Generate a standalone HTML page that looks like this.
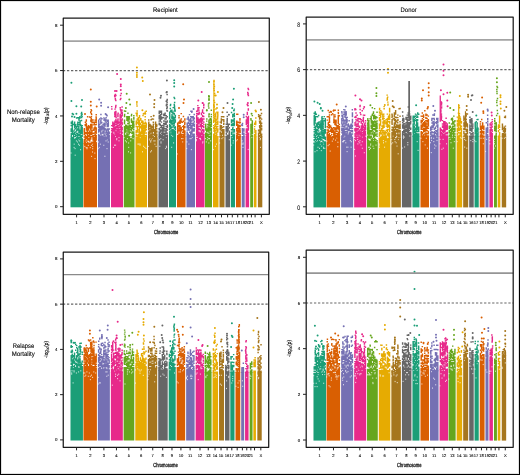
<!DOCTYPE html>
<html><head><meta charset="utf-8"><style>
html,body{margin:0;padding:0;background:#fff;}
#fig{position:relative;width:520px;height:475px;overflow:hidden;background:#fff;}
svg{position:absolute;left:0;top:0;will-change:transform;}
text{font-family:"Liberation Sans",sans-serif;fill:#222;text-rendering:geometricPrecision;}
.tk{fill:#000;stroke:#000;stroke-width:0.1px;}
.xt{fill:#000;stroke:#000;stroke-width:0.28px;}
.yt{font-size:5.7px;fill:#000;stroke:#000;stroke-width:0.12px;}
.lab{fill:#000;stroke:#000;stroke-width:0.1px;}
</style></head><body><div id="fig">
<svg width="520" height="475" viewBox="0 0 520 475">
<rect x="70.50" y="138.64" width="12.50" height="68.66" fill="#1B9E77"/>
<path d="M71.4 82.8h0M71.4 101h0M82 100.1h0M76.4 106.2h0M81.2 106.4h0M72.5 113.7h0M76.4 113.7h0M81.5 113.7h0M72 116.6h0M74.5 117.1h0" stroke="#1B9E77" stroke-width="2.0" stroke-linecap="round" fill="none"/>
<path d="M71 152.4v1.2M74.1 146.9v1.2M74.2 143.6v1.2M75.2 154.6v1.2M75.1 148v1.2M76.4 140.3v1.2M77.6 141.4v1.2M78.5 143.6v1.2M78.6 139.2v1.2M79.4 144.7v1.2M79.6 140.3v1.2M80.6 149.1v1.2" stroke="#fff" stroke-opacity="0.8" stroke-width="0.9" fill="none"/>
<path d="M70.5 138.6h1.45M70.6 137.6h1.45M70.5 136.6h1.45M70.6 135.5h1.45M70.6 134.3h1.45M70.6 133.4h1.45M70.5 131.2h1.45M70.5 130h1.45M70.5 129h1.45M70.5 125.4h1.45M70.6 123.2h1.45M70.6 122.2h1.45M71.7 138.7h1.45M71.6 137.6h1.45M71.5 134.2h1.45M71.6 133.1h1.45M71.7 132.2h1.45M71.7 130.8h1.45M71.5 130.1h1.45M71.6 128.9h1.45M71.5 127.9h1.45M71.5 126.7h1.45M71.6 125.4h1.45M71.6 124.5h1.45M71.6 123.2h1.45M71.7 122.1h1.45M71.7 121.1h1.45M72.7 138.6h1.45M72.7 137.8h1.45M72.7 136.6h1.45M72.9 135.4h1.45M72.7 134.3h1.45M72.7 133.1h1.45M72.6 131.1h1.45M72.6 124.5h1.45M72.7 114.4h1.45M73.9 136.6h1.45M73.9 134.2h1.45M73.8 133.3h1.45M73.9 132.2h1.45M73.7 130h1.45M73.9 127.7h1.45M73.9 126.5h1.45M73.9 125.7h1.45M73.7 124.4h1.45M73.7 123.4h1.45M73.9 122.2h1.45M74.9 138.9h1.45M75 136.6h1.45M75 135.5h1.45M74.9 134.5h1.45M74.8 132h1.45M74.9 128.7h1.45M75 126.8h1.45M74.8 125.6h1.45M75.1 124.5h1.45M75.9 138.7h1.45M76.1 137.5h1.45M76.1 135.3h1.45M75.9 133.3h1.45M75.9 130.9h1.45M76 130h1.45M75.9 127.9h1.45M76.1 126.5h1.45M75.9 118h1.45M77.2 138.8h1.45M77 137.7h1.45M77.1 136.7h1.45M77 135.5h1.45M77 134.3h1.45M77.1 133.4h1.45M77.1 130.1h1.45M77 128.9h1.45M77.1 126.6h1.45M77.2 125.4h1.45M77 124.5h1.45M77.1 123.3h1.45M77.1 122.1h1.45M77 117.7h1.45M78.1 138.7h1.45M78.1 137.6h1.45M78.3 135.3h1.45M78.1 134.4h1.45M78.2 132.2h1.45M78.2 130.9h1.45M78.1 129.8h1.45M78.2 129h1.45M78.1 127.7h1.45M78.1 126.8h1.45M78.2 124.6h1.45M78.2 122.4h1.45M78.2 120.1h1.45M78.3 118.9h1.45M78.3 117.8h1.45M79.4 137.8h1.45M79.4 136.4h1.45M79.5 135.6h1.45M79.4 134.2h1.45M79.4 133.1h1.45M79.4 132.1h1.45M79.3 131.2h1.45M79.3 130.1h1.45M79.4 125.6h1.45M79.5 124.6h1.45M79.3 123.3h1.45M79.3 122.1h1.45M79.4 121h1.45M79.2 117.9h1.45M79.2 116.8h1.45M80.4 138.9h1.45M80.5 137.7h1.45M80.4 136.6h1.45M80.4 135.6h1.45M80.4 133.2h1.45M80.3 132.2h1.45M80.5 130.9h1.45M80.4 130.1h1.45M80.4 128.8h1.45M80.3 127.9h1.45M80.6 126.6h1.45M80.4 125.3h1.45M81.5 138.9h1.45M81.4 136.6h1.45M81.5 135.6h1.45M81.5 134.1h1.45M81.5 133.1h1.45M81.5 132.1h1.45M81.5 130.8h1.45M81.4 130h1.45M81.5 129h1.45M81.5 127.5h1.45M81.5 125.6h1.45M80.8 120.5h1.45M80.8 117.5h1.45M81.4 116.5h1.45M80.6 115.5h1.45M81.3 114.5h1.45M80.9 112.5h1.45" stroke="#1B9E77" stroke-width="1.45" fill="none"/>
<rect x="83.50" y="143.17" width="13.50" height="64.12" fill="#D95F02"/>
<path d="M90.8 89.6h0M90.8 101.7h0M96.7 106.4h0M85 113.9h0M90.8 105.5h0" stroke="#D95F02" stroke-width="2.0" stroke-linecap="round" fill="none"/>
<path d="M84.8 145.9v1.2M86.2 147v1.2M87 148.1v1.2M87.1 147v1.2M88.3 144.8v1.2M90.3 147v1.2M91.6 155.8v1.2M91.4 144.8v1.2M92.5 151.4v1.2M92.7 148.1v1.2M92.7 145.9v1.2M92.4 143.7v1.2M95 158v1.2M94.8 152.5v1.2" stroke="#fff" stroke-opacity="0.8" stroke-width="0.9" fill="none"/>
<path d="M83.5 143.4h1.45M83.5 142.3h1.45M83.5 141.2h1.45M83.6 139.8h1.45M83.6 136.9h1.45M83.5 134.6h1.45M83.6 133.4h1.45M83.6 132.1h1.45M83.5 131.2h1.45M83.5 130.1h1.45M83.6 128.8h1.45M84.5 143.2h1.45M84.6 142h1.45M84.5 140.1h1.45M84.5 138.8h1.45M84.5 138h1.45M84.7 136.6h1.45M84.7 135.4h1.45M84.5 133.5h1.45M84.6 132.4h1.45M84.6 125.5h1.45M84.5 124.6h1.45M84.7 122.2h1.45M85.8 143.4h1.45M85.7 141h1.45M85.7 138.7h1.45M85.8 137.8h1.45M85.6 136.7h1.45M85.7 133.6h1.45M85.7 132.4h1.45M85.6 130.1h1.45M85.7 128.8h1.45M85.7 127.8h1.45M85.7 126.7h1.45M85.8 125.6h1.45M85.7 124.7h1.45M85.5 123.5h1.45M85.6 121.1h1.45M85.6 120h1.45M86.7 143.4h1.45M86.8 142.3h1.45M86.9 140h1.45M86.8 138.8h1.45M86.8 137.9h1.45M86.7 136.7h1.45M86.9 135.5h1.45M86.8 134.5h1.45M86.7 133.4h1.45M86.8 132.1h1.45M86.7 131.3h1.45M86.9 130h1.45M86.7 129.1h1.45M86.7 128h1.45M86.7 126.9h1.45M86.9 116.7h1.45M88 143.1h1.45M87.9 140.1h1.45M87.9 138.7h1.45M87.9 136.5h1.45M88 135.6h1.45M88 133.4h1.45M87.8 132.4h1.45M87.8 129.9h1.45M87.9 128.9h1.45M87.8 127.7h1.45M87.8 126.8h1.45M87.9 125.6h1.45M89 143.2h1.45M89.1 141h1.45M88.9 140.2h1.45M89 138.8h1.45M88.9 136.9h1.45M88.9 135.5h1.45M89 134.5h1.45M88.9 133.4h1.45M89 132.3h1.45M89 131.2h1.45M88.9 127.7h1.45M88.9 126.7h1.45M88.9 117h1.45M89.9 143.3h1.45M90 139h1.45M90 137.8h1.45M90 136.8h1.45M90.1 134.6h1.45M90.1 133.3h1.45M90.2 132.3h1.45M90.2 130h1.45M90 129h1.45M90.1 127.7h1.45M90.1 126.7h1.45M89.9 125.8h1.45M90 124.4h1.45M90.2 121.5h1.45M90.1 120.3h1.45M91.1 143.4h1.45M91.2 142.2h1.45M91.3 136.6h1.45M91.1 134.6h1.45M91.1 133.4h1.45M91.1 132.2h1.45M91.2 131.3h1.45M91.1 130.1h1.45M91.3 128h1.45M91.1 126.7h1.45M91.3 125.8h1.45M91.3 124.4h1.45M91.3 122.4h1.45M91 121.2h1.45M92.4 142.3h1.45M92.4 140.1h1.45M92.3 138.8h1.45M92.3 137.8h1.45M92.4 136.6h1.45M92.2 135.8h1.45M92.3 133.2h1.45M92.3 130.1h1.45M92.2 122.3h1.45M92.3 120h1.45M93.4 143.2h1.45M93.2 142h1.45M93.4 141.2h1.45M93.2 140h1.45M93.5 139h1.45M93.2 137.8h1.45M93.3 135.5h1.45M93.3 133.3h1.45M93.2 130.3h1.45M93.2 129.1h1.45M93.5 127.9h1.45M93.2 124.7h1.45M93.5 123.4h1.45M93.4 122.2h1.45M94.6 143.2h1.45M94.5 142h1.45M94.6 141h1.45M94.4 140h1.45M94.4 138.7h1.45M94.6 137.6h1.45M94.5 136.8h1.45M94.5 135.5h1.45M94.5 134.4h1.45M94.4 132.4h1.45M94.6 131.1h1.45M94.4 129.1h1.45M94.4 127.7h1.45M94.3 126.9h1.45M94.5 124.7h1.45M94.3 122.3h1.45M94.4 120.1h1.45M95.5 143.1h1.45M95.4 142.4h1.45M95.5 140h1.45M95.4 138.7h1.45M95.5 137.7h1.45M95.4 136.5h1.45M95.5 135.7h1.45M95.4 133.4h1.45M95.5 132.1h1.45M95.4 131.1h1.45M95.5 129.9h1.45M95.5 129.1h1.45M95.5 128h1.45M95.5 124.5h1.45M95.5 122.4h1.45M95.4 121.2h1.45M95.5 120.2h1.45M95.5 119.2h1.45M95.5 117.9h1.45M95.4 116.9h1.45M95.5 114.7h1.45M90.8 120.6h1.45M90.8 119.6h1.45M90.6 118.6h1.45M90.1 117.6h1.45M90.7 116.6h1.45M90.9 114.6h1.45M90.7 113.6h1.45M90 112.6h1.45M90.2 111.6h1.45M90.8 110.6h1.45M90.4 109.6h1.45" stroke="#D95F02" stroke-width="1.45" fill="none"/>
<rect x="98.00" y="138.64" width="12.00" height="68.66" fill="#7570B3"/>
<path d="M99.2 99.4h0M101.1 102.8h0M101.1 105.7h0M108.1 107.3h0M105.6 114.1h0M106.4 114.8h0" stroke="#7570B3" stroke-width="2.0" stroke-linecap="round" fill="none"/>
<path d="M98.2 148v1.2M98.4 141.4v1.2M99.3 146.9v1.2M100.3 143.6v1.2M103.8 144.7v1.2M104.9 155.7v1.2M106 140.3v1.2M107 148v1.2M107.3 139.2v1.2M108.2 141.4v1.2" stroke="#fff" stroke-opacity="0.8" stroke-width="0.9" fill="none"/>
<path d="M98.1 138.9h1.45M98.1 137.7h1.45M98.1 136.5h1.45M98 135.4h1.45M98.1 134.4h1.45M98 132.1h1.45M98 131h1.45M98 129.8h1.45M98 127.7h1.45M98 126.7h1.45M98 125.4h1.45M98 124.4h1.45M98.1 123.2h1.45M98.1 122.3h1.45M98 121.1h1.45M98 120.2h1.45M99.1 138.8h1.45M98.9 137.5h1.45M99.1 136.4h1.45M99.1 135.6h1.45M99 131h1.45M99 130.1h1.45M99.1 128.8h1.45M99.1 127.9h1.45M99.2 126.4h1.45M98.9 124.5h1.45M99 119h1.45M100.1 138.6h1.45M100.1 137.5h1.45M100 136.6h1.45M100.2 134.4h1.45M100 133.1h1.45M100.1 132h1.45M100 131.1h1.45M100 129.9h1.45M100 128.8h1.45M100.3 127.6h1.45M100.1 126.8h1.45M100.2 123.5h1.45M100.1 122.4h1.45M100.1 121h1.45M100.2 120.1h1.45M100.2 118h1.45M100.2 114.4h1.45M101.2 138.6h1.45M101.3 137.5h1.45M101.2 136.4h1.45M101.2 135.5h1.45M101.1 133.1h1.45M101.1 129.8h1.45M101.3 128.8h1.45M101.2 127.8h1.45M101.3 126.5h1.45M101.3 125.7h1.45M101.1 122.4h1.45M101.2 118.8h1.45M102.1 138.7h1.45M102.2 137.7h1.45M102.3 136.7h1.45M102.4 133.3h1.45M102.2 132h1.45M102.3 131.2h1.45M102.2 129h1.45M102.2 127.7h1.45M102.3 126.6h1.45M102.3 124.5h1.45M103.2 138.7h1.45M103.3 137.5h1.45M103.2 135.4h1.45M103.4 134.4h1.45M103.4 132h1.45M103.2 131.1h1.45M103.4 130h1.45M103.3 128.8h1.45M103.3 127.6h1.45M103.2 125.4h1.45M103.2 124.5h1.45M103.4 123.2h1.45M103.2 119.9h1.45M103.2 117.9h1.45M104.4 138.8h1.45M104.4 137.7h1.45M104.4 136.5h1.45M104.3 135.5h1.45M104.3 133.1h1.45M104.4 129.8h1.45M104.4 128.7h1.45M104.2 126.6h1.45M104.3 125.5h1.45M104.4 124.3h1.45M104.3 123.4h1.45M104.5 121.1h1.45M104.4 120.2h1.45M104.2 118.9h1.45M105.5 138.7h1.45M105.5 137.8h1.45M105.5 134.3h1.45M105.3 132.2h1.45M105.5 131h1.45M105.5 130h1.45M105.4 122.2h1.45M105.5 120h1.45M105.4 117.8h1.45M106.3 138.7h1.45M106.3 137.5h1.45M106.3 136.5h1.45M106.4 135.6h1.45M106.4 134.5h1.45M106.4 133.1h1.45M106.6 132.2h1.45M106.6 130h1.45M106.5 129h1.45M106.5 126.6h1.45M106.6 125.6h1.45M106.3 124.6h1.45M106.3 123.5h1.45M106.5 121.3h1.45M106.4 120.1h1.45M106.3 115.8h1.45M107.4 138.6h1.45M107.6 137.6h1.45M107.5 136.5h1.45M107.6 135.3h1.45M107.4 134.5h1.45M107.4 133.1h1.45M107.4 132.2h1.45M107.6 131.2h1.45M107.5 130.1h1.45M107.5 128.9h1.45M107.4 126.5h1.45M107.6 125.4h1.45M107.6 124.3h1.45M107.6 123.4h1.45M107.6 122.2h1.45M107.4 120.9h1.45M107.5 120.2h1.45M108.4 138.6h1.45M108.4 137.5h1.45M108.5 136.6h1.45M108.5 135.5h1.45M108.5 133.4h1.45M108.5 132.3h1.45M108.5 128.9h1.45" stroke="#7570B3" stroke-width="1.45" fill="none"/>
<rect x="111.00" y="135.23" width="12.00" height="72.07" fill="#E7298A"/>
<path d="M117.1 74h0M120.8 79h0M120.8 84.6h0M120.8 86.2h0M115 91h0M116.6 91h0M114.9 95.5h0M114.9 96.4h0M120.8 89.9h0" stroke="#E7298A" stroke-width="2.0" stroke-linecap="round" fill="none"/>
<path d="M113.4 146.8v1.2M114.5 144.6v1.2M115.6 144.6v1.2M115.5 135.8v1.2M116.7 139.1v1.2M116.8 138v1.2M119 140.2v1.2M119 136.9v1.2" stroke="#fff" stroke-opacity="0.8" stroke-width="0.9" fill="none"/>
<path d="M111.1 135.3h1.45M111.1 134.3h1.45M111 133.3h1.45M111 130.8h1.45M111 128.7h1.45M111 125.6h1.45M111.1 109h1.45M111 106.6h1.45M112.1 135.4h1.45M112.2 134.4h1.45M112.1 133.2h1.45M112.1 131.8h1.45M112 131h1.45M111.9 130h1.45M111.9 128.7h1.45M112.2 126.6h1.45M112.1 125.4h1.45M112.1 124.3h1.45M112.1 123.3h1.45M112.1 122.3h1.45M113 135.5h1.45M113.1 134.4h1.45M113 131h1.45M113.2 130h1.45M113.2 128.6h1.45M113.1 127.7h1.45M113.2 126.5h1.45M113.1 125.5h1.45M113.1 124.3h1.45M113.2 123.1h1.45M114.2 135.1h1.45M114.2 133h1.45M114.2 131.9h1.45M114.3 130.9h1.45M114.3 129.9h1.45M114.2 128.5h1.45M114.3 127.5h1.45M114 125.4h1.45M114 124.4h1.45M114 123.3h1.45M114.2 122.1h1.45M114.2 121.1h1.45M114.1 116.5h1.45M114.3 115.4h1.45M114.1 114.2h1.45M114.1 113.4h1.45M114.1 112.1h1.45M114.3 109.1h1.45M115.3 135.5h1.45M115.1 134.3h1.45M115.3 133.3h1.45M115.3 131.9h1.45M115.2 128.9h1.45M115.3 127.6h1.45M115.3 126.6h1.45M115.3 124.3h1.45M115.2 122.3h1.45M115.3 120.9h1.45M115.2 119.8h1.45M115.4 117.8h1.45M115.2 116.6h1.45M115.2 115.4h1.45M115.2 114.5h1.45M115.1 113.2h1.45M115.2 112.1h1.45M116.3 135.2h1.45M116.1 134.1h1.45M116.2 133.2h1.45M116.4 132h1.45M116.3 130.8h1.45M116.2 129.8h1.45M116.4 127.6h1.45M116.3 126.5h1.45M116.4 125.5h1.45M116.2 124.2h1.45M116.3 123.4h1.45M116.1 122h1.45M116.3 121.2h1.45M117.4 135.4h1.45M117.3 134.3h1.45M117.3 133.3h1.45M117.2 131h1.45M117.3 129.6h1.45M117.3 128.8h1.45M117.4 127.8h1.45M117.3 126.6h1.45M117.3 125.6h1.45M117.4 123.2h1.45M117.3 122.2h1.45M117.3 121.2h1.45M117.2 119.8h1.45M117.3 119h1.45M117.2 116.5h1.45M117.2 115.7h1.45M117.2 114.4h1.45M117.4 113.2h1.45M118.4 135.5h1.45M118.3 134.2h1.45M118.4 133h1.45M118.2 131.9h1.45M118.3 130.8h1.45M118.2 129.8h1.45M118.3 127.7h1.45M118.4 125.4h1.45M118.5 124.3h1.45M118.3 122.3h1.45M119.4 135.3h1.45M119.5 134.4h1.45M119.5 132h1.45M119.3 129.7h1.45M119.5 127.8h1.45M119.3 126.5h1.45M119.5 124.4h1.45M119.5 123.1h1.45M119.5 122.2h1.45M119.5 121.2h1.45M119.5 119.9h1.45M119.4 118.9h1.45M119.5 117.6h1.45M119.4 116.7h1.45M119.4 115.6h1.45M119.5 114.5h1.45M119.5 107.7h1.45M120.5 135.5h1.45M120.6 134.3h1.45M120.6 133.3h1.45M120.6 132.2h1.45M120.6 130.9h1.45M120.6 129.8h1.45M120.4 128.7h1.45M120.5 127.6h1.45M120.5 126.7h1.45M120.5 125.2h1.45M120.5 123.3h1.45M120.3 122.1h1.45M120.5 120.9h1.45M120.6 119.9h1.45M120.5 117.6h1.45M120.5 116.7h1.45M120.6 115.5h1.45M120.6 113.2h1.45M120.5 112.4h1.45M120.4 111h1.45M120.5 109.9h1.45M121.5 135.5h1.45M121.5 133.1h1.45M121.4 132.1h1.45M121.5 129.7h1.45M121.4 128.7h1.45M121.5 127.5h1.45M121.5 124.4h1.45M121.5 123.3h1.45M121.4 122.2h1.45M121.5 119.9h1.45M121.5 118.9h1.45M121.5 115.7h1.45M121.5 114.4h1.45M121.5 113.3h1.45M121.5 112.1h1.45M121.5 110.1h1.45M121.4 106.9h1.45M115.1 111.4h1.45M114.9 107.4h1.45M115 106.4h1.45M115.2 105.4h1.45M115.1 100.4h1.45M114.7 99.4h1.45M114.6 98.4h1.45M115.2 95.4h1.45M114.7 94.4h1.45M120.1 110.4h1.45M119.7 109.4h1.45M119.6 99.4h1.45M120.1 98.4h1.45M119.8 95.4h1.45M120.5 93.4h1.45" stroke="#E7298A" stroke-width="1.45" fill="none"/>
<rect x="123.80" y="136.37" width="10.70" height="70.93" fill="#66A61E"/>
<path d="M126.7 93.7h0M129.3 99.6h0M126.4 103h0M130.1 104.6h0M125.9 108h0" stroke="#66A61E" stroke-width="2.0" stroke-linecap="round" fill="none"/>
<path d="M124 136.9v1.2M125.4 140.2v1.2M126.5 141.3v1.2M127.4 138v1.2M128.5 151.2v1.2M128.7 146.8v1.2M128.6 142.4v1.2M130.6 152.3v1.2M130.7 140.2v1.2M130.5 136.9v1.2M131.6 136.9v1.2M133.1 138v1.2" stroke="#fff" stroke-opacity="0.8" stroke-width="0.9" fill="none"/>
<path d="M123.8 136.3h1.45M123.8 135.2h1.45M123.8 134.4h1.45M123.8 133.1h1.45M123.8 132.1h1.45M123.9 131h1.45M123.8 129.9h1.45M123.9 128.9h1.45M123.8 127.7h1.45M123.8 126.6h1.45M123.8 123.4h1.45M123.8 122.4h1.45M123.9 121.2h1.45M123.8 120.1h1.45M123.9 116.6h1.45M123.8 115.7h1.45M123.9 114.4h1.45M123.8 111h1.45M125 136.3h1.45M125 135.5h1.45M124.9 131.9h1.45M124.9 130.9h1.45M124.9 129.9h1.45M125 128.8h1.45M125.1 127.8h1.45M124.8 126.7h1.45M124.9 125.3h1.45M124.9 111.2h1.45M126.1 136.6h1.45M126 135.5h1.45M126.2 134.1h1.45M126.2 133.3h1.45M126.2 130.9h1.45M126.2 128.7h1.45M126.1 127.7h1.45M126.1 126.5h1.45M126.1 125.5h1.45M126.2 120.2h1.45M126.2 118.7h1.45M126.2 117.9h1.45M126.1 116.8h1.45M127.3 136.7h1.45M127.2 135.2h1.45M127.1 134.2h1.45M127.3 131.9h1.45M127.2 130.1h1.45M127.3 128.7h1.45M127.1 127.7h1.45M127.3 126.4h1.45M127.1 123.4h1.45M127.2 121h1.45M127.2 120.1h1.45M127.2 118.9h1.45M127.3 117.6h1.45M127.4 116.6h1.45M127.2 113.2h1.45M128.4 136.4h1.45M128.4 134.1h1.45M128.5 133.2h1.45M128.5 131.9h1.45M128.3 130.8h1.45M128.3 129.7h1.45M128.4 128.7h1.45M128.4 127.8h1.45M128.5 126.5h1.45M128.4 125.3h1.45M128.3 123.4h1.45M128.5 122h1.45M128.3 120.1h1.45M128.5 118.7h1.45M128.5 117.9h1.45M128.5 116.7h1.45M129.5 132.2h1.45M129.6 129.8h1.45M129.6 127.7h1.45M129.7 126.6h1.45M129.5 125.5h1.45M130.8 133h1.45M130.8 130.8h1.45M130.8 129.8h1.45M130.6 128.6h1.45M130.6 127.8h1.45M130.7 125.6h1.45M130.8 122.3h1.45M130.7 121.1h1.45M130.6 119.9h1.45M130.8 119h1.45M130.7 115.7h1.45M130.9 114.4h1.45M131.9 136.3h1.45M131.9 135.3h1.45M131.8 133.3h1.45M131.9 132h1.45M131.9 128.6h1.45M132 127.8h1.45M132 126.6h1.45M131.8 125.4h1.45M131.8 124.4h1.45M131.9 123.3h1.45M131.9 122.1h1.45M131.8 121.2h1.45M133.1 136.4h1.45M133.1 135.5h1.45M133.1 134.4h1.45M133 133.2h1.45M133 132h1.45M133 129.8h1.45M133 127.7h1.45M133.1 126.6h1.45M133.1 125.6h1.45M133.1 124.4h1.45M132.9 123.2h1.45M132.9 122.1h1.45M133.1 121.1h1.45M133.1 119h1.45M133.1 117.8h1.45M133.1 115.7h1.45" stroke="#66A61E" stroke-width="1.45" fill="none"/>
<rect x="135.50" y="136.37" width="11.50" height="70.93" fill="#E6AB02"/>
<path d="M136.9 67.6h0M136.9 72.8h0M136.9 75.1h0M136.9 76.9h0M142.2 77.6h0M142.8 81h0M136.9 102.1h0M142.4 110.3h0M143.6 113.7h0M145.3 113.7h0" stroke="#E6AB02" stroke-width="2.0" stroke-linecap="round" fill="none"/>
<path d="M138 143.5v1.2M139 143.5v1.2M140 144.6v1.2M140.1 143.5v1.2M140.3 136.9v1.2M142.5 151.2v1.2M143.6 145.7v1.2M144.8 146.8v1.2M145.9 147.9v1.2" stroke="#fff" stroke-opacity="0.8" stroke-width="0.9" fill="none"/>
<path d="M135.6 135.3h1.45M135.5 134.3h1.45M135.5 132.2h1.45M135.6 130.8h1.45M135.5 126.5h1.45M135.6 124.4h1.45M135.5 123.1h1.45M135.6 122.1h1.45M135.6 121.3h1.45M135.5 113.2h1.45M136.7 135.3h1.45M136.5 132h1.45M136.5 131.1h1.45M136.7 129.8h1.45M136.6 128.9h1.45M136.6 127.8h1.45M136.6 126.8h1.45M136.8 123.1h1.45M136.7 122.2h1.45M136.5 119.9h1.45M136.5 118.9h1.45M137.6 136.3h1.45M137.9 135.3h1.45M137.7 134.2h1.45M137.7 131.9h1.45M137.7 130h1.45M137.7 126.4h1.45M137.8 124.4h1.45M137.7 123.2h1.45M137.8 122.2h1.45M137.8 121.3h1.45M137.7 119.8h1.45M137.6 118.9h1.45M137.6 117.6h1.45M138.8 136.4h1.45M138.7 135.3h1.45M138.9 134.3h1.45M139 133.3h1.45M138.7 132.3h1.45M138.9 131.2h1.45M138.7 129.9h1.45M138.7 128.9h1.45M138.8 127.8h1.45M139 126.8h1.45M138.9 125.4h1.45M138.8 124.3h1.45M138.9 123.4h1.45M138.8 122.3h1.45M138.7 121.3h1.45M138.8 120.1h1.45M138.8 117.7h1.45M138.8 116.5h1.45M138.8 115.6h1.45M140 136.5h1.45M140 135.4h1.45M140.1 134.1h1.45M139.9 133.3h1.45M139.8 132.3h1.45M140 127.7h1.45M140 126.5h1.45M139.9 124.3h1.45M139.8 123.4h1.45M140 120.1h1.45M140.1 118.7h1.45M141.1 136.6h1.45M141.1 135.5h1.45M141.1 133.3h1.45M141.1 132.2h1.45M141 131.1h1.45M141.2 129.7h1.45M141 128.8h1.45M141.1 127.7h1.45M141.1 126.7h1.45M141 125.3h1.45M141 122.3h1.45M141.2 120.9h1.45M142.3 136.6h1.45M142.2 135.4h1.45M142.3 134.1h1.45M142.3 133.2h1.45M142.3 132h1.45M142.2 131.2h1.45M142.1 130h1.45M142.2 128.9h1.45M142.3 127.6h1.45M142.3 126.7h1.45M142.3 125.4h1.45M142.1 124.4h1.45M142.1 123.2h1.45M142.3 122.1h1.45M142.1 121.1h1.45M142.3 115.5h1.45M143.4 136.6h1.45M143.3 135.4h1.45M143.4 134.4h1.45M143.2 133.2h1.45M143.4 132.2h1.45M143.4 130.8h1.45M143.4 128.9h1.45M143.4 127.8h1.45M143.3 126.6h1.45M143.2 125.4h1.45M143.4 123.4h1.45M144.5 135.6h1.45M144.4 133h1.45M144.5 131.1h1.45M144.3 129.9h1.45M144.4 128.8h1.45M144.4 127.6h1.45M144.5 126.7h1.45M144.3 125.3h1.45M144.3 123.3h1.45M144.6 122.3h1.45M144.4 119.8h1.45M144.5 116.8h1.45M144.4 112.2h1.45M145.6 136.5h1.45M145.5 135.4h1.45M145.6 133h1.45M145.6 129.8h1.45M145.4 127.8h1.45M145.5 126.7h1.45M145.5 125.7h1.45M145.6 124.2h1.45M145.4 123.3h1.45M145.5 111.2h1.45M136.4 115.9h1.45M135.9 114.9h1.45M136.5 113.9h1.45M136.4 112.9h1.45M136.4 110.9h1.45M136.3 105.9h1.45M136.1 103.9h1.45" stroke="#E6AB02" stroke-width="1.45" fill="none"/>
<rect x="148.00" y="138.64" width="9.50" height="68.66" fill="#A6761D"/>
<path d="M150 94.6h0M154.5 100.1h0M154.2 103.9h0M154.2 107.3h0M153.7 115.7h0" stroke="#A6761D" stroke-width="2.0" stroke-linecap="round" fill="none"/>
<path d="M148.3 145.8v1.2M149.4 139.2v1.2M150.6 151.3v1.2M150.7 141.4v1.2M150.7 140.3v1.2M151.5 150.2v1.2M151.5 139.2v1.2M153.9 140.3v1.2M154.9 143.6v1.2M155 140.3v1.2M156.1 145.8v1.2" stroke="#fff" stroke-opacity="0.8" stroke-width="0.9" fill="none"/>
<path d="M148 138.6h1.45M148 137.8h1.45M148 136.5h1.45M148.1 135.4h1.45M148 134.3h1.45M148.1 133.2h1.45M148 132h1.45M148 129.8h1.45M148.1 128.9h1.45M148 127.9h1.45M148 126.8h1.45M148 125.7h1.45M148.1 124.5h1.45M148 123.5h1.45M148.1 122.1h1.45M148 120h1.45M149.3 137.6h1.45M149.3 136.6h1.45M149.2 135.3h1.45M149 133.4h1.45M149.3 132.2h1.45M149 130.9h1.45M149.3 128.7h1.45M149.2 126.5h1.45M149 125.6h1.45M149.3 124.5h1.45M150.4 138.7h1.45M150.2 137.6h1.45M150.2 136.3h1.45M150.2 135.6h1.45M150.3 134.3h1.45M150.3 132h1.45M150.3 131.1h1.45M150.4 129.8h1.45M150.4 128.8h1.45M150.2 127.6h1.45M150.4 126.5h1.45M150.2 125.5h1.45M150.4 119.8h1.45M150.4 116.6h1.45M151.4 137.6h1.45M151.4 136.6h1.45M151.4 135.5h1.45M151.6 134.4h1.45M151.5 133.4h1.45M151.5 132.2h1.45M151.3 131.2h1.45M151.4 129.7h1.45M151.4 127.7h1.45M151.4 126.8h1.45M151.5 119h1.45M152.7 138.7h1.45M152.6 137.5h1.45M152.5 136.7h1.45M152.5 134.4h1.45M152.7 131.2h1.45M152.6 130h1.45M152.6 128.9h1.45M152.7 127.7h1.45M152.7 126.7h1.45M152.5 125.5h1.45M152.7 124.3h1.45M152.6 122.2h1.45M152.7 119.1h1.45M153.7 138.8h1.45M153.7 137.6h1.45M153.6 135.6h1.45M153.9 134.2h1.45M153.6 133.3h1.45M153.9 132.2h1.45M153.9 131h1.45M153.8 129.8h1.45M154.8 138.6h1.45M154.9 137.6h1.45M154.9 136.5h1.45M155 135.3h1.45M155 134.3h1.45M155 133.1h1.45M155 132.3h1.45M154.9 131h1.45M155 129.9h1.45M154.9 129h1.45M154.9 127.9h1.45M154.9 126.7h1.45M155 125.4h1.45M154.8 124.6h1.45M154.8 123.2h1.45M154.9 122.1h1.45M156.1 138.7h1.45M156.1 137.5h1.45M155.9 136.6h1.45M156.1 135.3h1.45M156.1 134.3h1.45M156.1 131.9h1.45M156.1 131.1h1.45M156 128.8h1.45M155.9 126.5h1.45M156.1 125.5h1.45M155.9 124.5h1.45" stroke="#A6761D" stroke-width="1.45" fill="none"/>
<rect x="158.50" y="136.37" width="9.50" height="70.93" fill="#666666"/>
<path d="M166.9 80.6h0M166.9 92.1h0M161 95.8h0M160.5 97.8h0M166.4 101.2h0M166.9 104.6h0" stroke="#666666" stroke-width="2.0" stroke-linecap="round" fill="none"/>
<path d="M159.8 145.7v1.2M159.7 139.1v1.2M161 142.4v1.2M161 141.3v1.2M160.8 138v1.2M163.1 139.1v1.2M165.6 147.9v1.2M166.6 146.8v1.2M166.4 145.7v1.2M166.3 136.9v1.2" stroke="#fff" stroke-opacity="0.8" stroke-width="0.9" fill="none"/>
<path d="M158.5 136.6h1.45M158.5 135.4h1.45M158.5 134.3h1.45M158.6 133.2h1.45M158.5 132h1.45M158.6 129.7h1.45M158.5 128.7h1.45M158.5 124.4h1.45M158.5 123.3h1.45M158.5 121.1h1.45M158.5 118.8h1.45M158.5 117.7h1.45M158.5 116.7h1.45M158.6 115.6h1.45M158.5 113.5h1.45M158.5 112.1h1.45M158.6 111.2h1.45M159.6 136.6h1.45M159.6 135.5h1.45M159.8 134.4h1.45M159.8 132.1h1.45M159.7 131.1h1.45M159.5 130h1.45M159.6 127.6h1.45M159.7 125.6h1.45M159.6 124.2h1.45M159.7 120.9h1.45M159.5 120.2h1.45M159.6 118.8h1.45M159.5 117.8h1.45M159.6 116.8h1.45M159.7 115.7h1.45M159.8 114.6h1.45M159.6 112.3h1.45M159.8 111.2h1.45M160.7 136.3h1.45M160.8 135.3h1.45M160.8 133.3h1.45M160.8 131.1h1.45M160.8 129.9h1.45M160.7 127.7h1.45M160.8 126.5h1.45M160.9 125.6h1.45M160.7 122.1h1.45M160.9 119h1.45M160.7 117.8h1.45M160.8 116.9h1.45M160.9 114.5h1.45M160.8 113.5h1.45M160.7 112.3h1.45M160.8 111.1h1.45M162.1 136.3h1.45M162.1 135.3h1.45M161.9 134.4h1.45M162 133.1h1.45M162.1 132h1.45M162 131h1.45M161.9 130h1.45M161.9 128.7h1.45M162.1 127.7h1.45M161.8 125.4h1.45M162 117.7h1.45M163.1 136.5h1.45M163 134.3h1.45M163.1 133.3h1.45M163.2 131h1.45M163 129.8h1.45M163.2 128.8h1.45M163.1 127.8h1.45M163.2 126.5h1.45M163 125.3h1.45M163 123.4h1.45M163.1 121h1.45M163 117.6h1.45M163.1 115.4h1.45M163.1 114.3h1.45M164.4 136.6h1.45M164.1 135.2h1.45M164.3 134.4h1.45M164.4 133.1h1.45M164.3 130.9h1.45M164.2 128.7h1.45M164.3 124.5h1.45M164.4 123.1h1.45M164.4 121.1h1.45M164.3 119h1.45M164.2 115.6h1.45M164.2 114.4h1.45M164.4 113.3h1.45M165.4 136.4h1.45M165.3 135.2h1.45M165.5 133.3h1.45M165.4 132.2h1.45M165.3 131.1h1.45M165.5 130h1.45M165.4 128.8h1.45M165.4 126.6h1.45M165.4 124.3h1.45M165.4 123.2h1.45M165.3 122h1.45M165.3 118.9h1.45M165.3 117.8h1.45M165.5 115.7h1.45M166.6 136.5h1.45M166.6 135.2h1.45M166.6 133.1h1.45M166.6 129.9h1.45M166.6 127.6h1.45M166.6 126.6h1.45M166.6 125.5h1.45M166.4 122.1h1.45M166.5 121h1.45M166.5 116.8h1.45M166.6 111h1.45M166.5 107.8h1.45M166.2 110.4h1.45M166 108.4h1.45M166.4 106.4h1.45M165.6 105.4h1.45M165.8 104.4h1.45M166.4 102.4h1.45M166.3 100.4h1.45M166.5 99.4h1.45M166.4 94.4h1.45M165.6 92.4h1.45" stroke="#666666" stroke-width="1.45" fill="none"/>
<rect x="169.00" y="134.10" width="7.00" height="73.20" fill="#1B9E77"/>
<path d="M174.2 80.3h0M174.2 83.1h0M174.2 86.5h0" stroke="#1B9E77" stroke-width="2.0" stroke-linecap="round" fill="none"/>
<path d="M171.7 146.7v1.2M171.4 134.6v1.2M172.7 135.7v1.2M173.6 142.3v1.2" stroke="#fff" stroke-opacity="0.8" stroke-width="0.9" fill="none"/>
<path d="M169 134.3h1.45M169.1 133.2h1.45M169.1 131.8h1.45M169 129.8h1.45M169.1 128.5h1.45M169 126.7h1.45M169 125.4h1.45M169 124.5h1.45M169.1 122.2h1.45M169 120.9h1.45M169 118.8h1.45M169 117.7h1.45M169.1 116.4h1.45M169 115.6h1.45M169 114.6h1.45M169 113.4h1.45M169 112.2h1.45M170.1 133.1h1.45M170.1 131h1.45M170.1 128.6h1.45M170.2 127.8h1.45M170.2 126.7h1.45M170 125.4h1.45M170.2 123.1h1.45M170.1 122.2h1.45M170.2 121.1h1.45M170 119.9h1.45M171.3 134.3h1.45M171.2 133.3h1.45M171.3 132h1.45M171.3 130.9h1.45M171.2 129.8h1.45M171.3 127.5h1.45M171.4 124.3h1.45M171.2 123.4h1.45M171.2 122.2h1.45M171.2 120.8h1.45M171.3 118.6h1.45M171.1 117.8h1.45M171.2 116.6h1.45M171.3 115.4h1.45M171.3 114.5h1.45M171.3 112.2h1.45M171.1 111.2h1.45M171.2 110.1h1.45M172.3 134.3h1.45M172.3 132.9h1.45M172.3 132.1h1.45M172.4 130.9h1.45M172.4 129.8h1.45M172.4 126.4h1.45M172.5 125.5h1.45M172.5 123.3h1.45M172.4 121.1h1.45M172.3 119.8h1.45M172.4 118.7h1.45M172.3 117.8h1.45M172.3 116.5h1.45M172.3 113.3h1.45M172.2 112.2h1.45M172.5 107.6h1.45M173.4 134.2h1.45M173.5 132.9h1.45M173.5 132h1.45M173.4 130.7h1.45M173.4 127.7h1.45M173.4 125.6h1.45M173.3 124.2h1.45M173.6 123.3h1.45M173.3 122h1.45M173.4 120.1h1.45M173.4 118.7h1.45M173.4 117.6h1.45M173.4 114.5h1.45M173.6 113.4h1.45M173.6 111h1.45M174.5 134.1h1.45M174.6 133.1h1.45M174.6 131.8h1.45M174.6 129.7h1.45M174.4 128.7h1.45M174.6 127.6h1.45M174.4 126.7h1.45M174.6 122h1.45M174.4 120.9h1.45M174.6 119.9h1.45M174.5 117.7h1.45M174.5 116.8h1.45M174.6 115.5h1.45M174.5 111h1.45M174.2 109.4h1.45M173.9 108.4h1.45M173.7 107.4h1.45M173.8 106.4h1.45M173.7 105.4h1.45M173.5 104.4h1.45M173.9 102.4h1.45M173.9 98.4h1.45M173.4 97.4h1.45M170 111.4h1.45M170.2 110.4h1.45M169.6 108.4h1.45M169.7 105.4h1.45M169.9 104.4h1.45" stroke="#1B9E77" stroke-width="1.45" fill="none"/>
<rect x="177.00" y="136.37" width="8.50" height="70.93" fill="#D95F02"/>
<path d="M183.2 84.2h0M184 99.6h0M183.5 103h0M179 108h0" stroke="#D95F02" stroke-width="2.0" stroke-linecap="round" fill="none"/>
<path d="M177.2 153.4v1.2M181.6 138v1.2M182.7 141.3v1.2M182.9 138v1.2" stroke="#fff" stroke-opacity="0.8" stroke-width="0.9" fill="none"/>
<path d="M177 136.5h1.45M177 135.4h1.45M177 133h1.45M177.1 132.1h1.45M177 130.9h1.45M177.1 129.7h1.45M177 128.7h1.45M177 127.7h1.45M177 126.6h1.45M177.1 125.3h1.45M177 124.3h1.45M177 123.1h1.45M178.3 136.4h1.45M178.3 135.2h1.45M178.3 134.4h1.45M178.3 130.8h1.45M178.3 129h1.45M178.2 126.7h1.45M178.1 125.5h1.45M178.1 123.1h1.45M178.1 122.1h1.45M178.3 117.8h1.45M178.3 115.7h1.45M179.3 136.4h1.45M179.4 135.5h1.45M179.4 134.3h1.45M179.5 133.4h1.45M179.5 132h1.45M179.3 130.8h1.45M179.4 129.7h1.45M179.4 128.7h1.45M179.2 127.7h1.45M179.3 126.6h1.45M179.3 125.6h1.45M179.4 123.3h1.45M179.4 122.1h1.45M179.2 120.9h1.45M179.5 120.2h1.45M180.5 136.5h1.45M180.5 135.3h1.45M180.5 134.2h1.45M180.5 130.8h1.45M180.5 130h1.45M180.5 128.8h1.45M180.4 127.6h1.45M180.6 122h1.45M180.4 121h1.45M180.6 119h1.45M180.5 113.6h1.45M181.6 136.3h1.45M181.8 134.4h1.45M181.7 132.2h1.45M181.6 129.7h1.45M181.8 126.6h1.45M181.8 122.2h1.45M183 136.6h1.45M182.9 135.3h1.45M183 134.3h1.45M182.8 132.2h1.45M182.9 130.8h1.45M183 129.9h1.45M183 128.8h1.45M183 127.8h1.45M183 126.6h1.45M182.9 125.6h1.45M182.7 121.2h1.45M182.7 116.5h1.45M184 136.5h1.45M184 135.3h1.45M184.1 134.4h1.45M184 133h1.45M184.1 131.9h1.45M184 130.9h1.45M184.1 127.6h1.45M184.1 126.7h1.45M184 124.5h1.45M184.1 123.3h1.45M184.1 122.1h1.45M184.1 120h1.45M184.1 119h1.45" stroke="#D95F02" stroke-width="1.45" fill="none"/>
<rect x="186.50" y="136.37" width="8.50" height="70.93" fill="#7570B3"/>
<path d="M193.6 108.9h0M188.2 117.3h0" stroke="#7570B3" stroke-width="2.0" stroke-linecap="round" fill="none"/>
<path d="M186.7 147.9v1.2M186.9 141.3v1.2M188.9 143.5v1.2M190 138v1.2M191.4 149v1.2M191.1 138v1.2M192.3 136.9v1.2" stroke="#fff" stroke-opacity="0.8" stroke-width="0.9" fill="none"/>
<path d="M186.5 136.5h1.45M186.5 135.2h1.45M186.5 134.3h1.45M186.5 133.2h1.45M186.5 132.2h1.45M186.5 130.1h1.45M186.5 127.8h1.45M186.5 126.6h1.45M186.6 125.4h1.45M186.5 124.2h1.45M186.5 123.3h1.45M186.5 118.9h1.45M187.5 136.7h1.45M187.7 135.6h1.45M187.6 134.2h1.45M187.6 129.9h1.45M187.6 128.8h1.45M187.6 127.7h1.45M187.7 126.7h1.45M187.6 125.6h1.45M187.6 123.4h1.45M187.7 122.1h1.45M187.8 119.9h1.45M187.8 118.8h1.45M188.9 136.5h1.45M189 135.5h1.45M189 132.3h1.45M188.9 130h1.45M188.9 127.8h1.45M189 125.6h1.45M189 124.4h1.45M188.9 123.3h1.45M188.7 121h1.45M188.9 120h1.45M188.8 114.6h1.45M190.1 136.4h1.45M190 135.2h1.45M190.1 134.1h1.45M190 133.3h1.45M190 132h1.45M189.9 128.6h1.45M189.9 127.6h1.45M190.2 126.4h1.45M190.1 125.7h1.45M190 124.5h1.45M190.2 123.4h1.45M190 122.2h1.45M190 121.1h1.45M190.1 119.8h1.45M190 118.8h1.45M190 116.8h1.45M190.2 111.3h1.45M191.3 136.3h1.45M191.1 134.1h1.45M191.1 133.3h1.45M191.3 131.9h1.45M191.1 130.9h1.45M191.3 129.9h1.45M191.3 128.9h1.45M191.3 127.7h1.45M191.3 126.7h1.45M191.1 125.6h1.45M191.3 123.4h1.45M191.1 120.9h1.45M191.1 117.6h1.45M191.2 116.7h1.45M191.1 112.2h1.45M191.3 111.2h1.45M192.4 136.4h1.45M192.2 135.5h1.45M192.5 134.2h1.45M192.3 131h1.45M192.4 129.9h1.45M192.5 128.9h1.45M192.3 125.4h1.45M192.2 124.3h1.45M192.5 123.3h1.45M192.5 119.9h1.45M192.5 119.1h1.45M192.4 117.7h1.45M192.5 116.8h1.45M193.6 136.6h1.45M193.4 135.4h1.45M193.5 134.3h1.45M193.4 131h1.45M193.5 129.8h1.45M193.6 128.6h1.45M193.6 126.4h1.45M193.5 125.4h1.45M193.6 124.3h1.45M193.5 122.1h1.45M193.5 121.1h1.45M193.6 118.8h1.45M193.4 117.9h1.45M193.5 114.5h1.45" stroke="#7570B3" stroke-width="1.45" fill="none"/>
<rect x="196.00" y="134.10" width="8.50" height="73.20" fill="#E7298A"/>
<path d="M201.7 91.9h0M202.6 103h0M198.3 100.5h0" stroke="#E7298A" stroke-width="2.0" stroke-linecap="round" fill="none"/>
<path d="M196.4 140.1v1.2M196.4 139v1.2M196.2 136.8v1.2M196.3 134.6v1.2M197.3 136.8v1.2M199.6 137.9v1.2M200.7 139v1.2M200.5 137.9v1.2M201.8 134.6v1.2M202.7 142.3v1.2M202.9 141.2v1.2" stroke="#fff" stroke-opacity="0.8" stroke-width="0.9" fill="none"/>
<path d="M196 134.4h1.45M196 133h1.45M196 131.9h1.45M196 130.7h1.45M196.1 129.9h1.45M196.1 128.7h1.45M196 127.7h1.45M196 126.4h1.45M196 125.4h1.45M196.1 124.2h1.45M196 122.3h1.45M196 120.9h1.45M196.1 119.8h1.45M196 118.8h1.45M196 117.8h1.45M196 116.5h1.45M196 115.5h1.45M196 113.5h1.45M196 111.3h1.45M197 134h1.45M197.3 133.1h1.45M197.3 132.1h1.45M197.1 131h1.45M197.1 129.8h1.45M197.3 128.6h1.45M197.2 127.4h1.45M197.2 126.3h1.45M197.1 125.3h1.45M197.2 124.3h1.45M197.1 123.1h1.45M197.1 122h1.45M197 121h1.45M197 120h1.45M197.3 118.8h1.45M197.3 117.9h1.45M197.3 114.4h1.45M197.3 113.4h1.45M197 111.1h1.45M197.2 110.1h1.45M197.3 109.1h1.45M197.3 107.8h1.45M197.1 105.6h1.45M198.4 134.3h1.45M198.4 133.3h1.45M198.3 132.1h1.45M198.5 129.6h1.45M198.4 128.6h1.45M198.3 126.6h1.45M198.3 123.3h1.45M198.4 122.1h1.45M198.4 120.8h1.45M198.4 119.8h1.45M198.2 114.3h1.45M198.5 113.3h1.45M198.5 112.2h1.45M198.3 110.1h1.45M198.3 107.7h1.45M199.4 134.2h1.45M199.6 133.1h1.45M199.6 129.8h1.45M199.5 126.5h1.45M199.5 125.4h1.45M199.4 124.4h1.45M199.4 121.9h1.45M199.7 120.8h1.45M199.4 119.8h1.45M199.6 118.8h1.45M200.7 134.3h1.45M200.7 133h1.45M200.6 131.9h1.45M200.7 130.9h1.45M200.7 128.8h1.45M200.8 127.7h1.45M200.7 126.3h1.45M200.6 125.2h1.45M200.6 124.3h1.45M200.7 123.3h1.45M200.6 122h1.45M200.7 121h1.45M200.7 120h1.45M200.7 118.6h1.45M200.6 117.9h1.45M200.8 114.5h1.45M200.7 113.2h1.45M201.9 134.1h1.45M201.9 133h1.45M201.8 130.8h1.45M202 129.7h1.45M201.8 126.3h1.45M201.9 125.6h1.45M202 123.2h1.45M202 121.1h1.45M201.7 120.1h1.45M201.8 118.9h1.45M202 116.5h1.45M201.9 115.7h1.45M201.9 112.2h1.45M201.8 111.3h1.45M201.9 110h1.45M202 103.2h1.45M203 134.2h1.45M202.9 132h1.45M203.1 131h1.45M203.1 130h1.45M203 127.6h1.45M202.9 126.6h1.45M203.1 124.4h1.45M203.1 122.1h1.45M203.1 119h1.45M203 116.5h1.45M203 113.2h1.45M203 107.8h1.45M203 105.8h1.45M203.1 104.4h1.45" stroke="#E7298A" stroke-width="1.45" fill="none"/>
<rect x="205.00" y="136.37" width="7.00" height="70.93" fill="#66A61E"/>
<path d="M209 81.9h0M209 96.2h0M209 98.9h0M209 100.1h0M206.8 110.5h0" stroke="#66A61E" stroke-width="2.0" stroke-linecap="round" fill="none"/>
<path d="M205.4 138v1.2M206.3 141.3v1.2M207.3 139.1v1.2M207.6 136.9v1.2M208.8 142.4v1.2M208.7 138v1.2M209.5 138v1.2M210.7 140.2v1.2" stroke="#fff" stroke-opacity="0.8" stroke-width="0.9" fill="none"/>
<path d="M205 136.3h1.45M205 135.4h1.45M205 134.2h1.45M205 133.2h1.45M205.1 130h1.45M205 128.6h1.45M205.1 127.7h1.45M205 126.5h1.45M205 125.4h1.45M205.1 124.2h1.45M206.1 136.5h1.45M206.1 135.5h1.45M206 134.2h1.45M206.1 133h1.45M206 131.2h1.45M206 129.9h1.45M206.1 129h1.45M206 121.1h1.45M206.1 119h1.45M206.1 109.9h1.45M207.2 136.3h1.45M207.3 135.3h1.45M207.2 134.2h1.45M207.1 131.1h1.45M207.2 129.9h1.45M207.1 128.9h1.45M207.3 127.6h1.45M207.3 126.4h1.45M207.1 124.5h1.45M208.3 136.3h1.45M208.3 134.3h1.45M208.3 132.2h1.45M208.3 130.8h1.45M208.2 129.9h1.45M208.2 128.7h1.45M208.2 127.8h1.45M208.3 125.6h1.45M208.5 124.4h1.45M208.4 123.4h1.45M208.2 122.2h1.45M208.2 120.9h1.45M208.5 119.9h1.45M208.3 116.7h1.45M208.3 114.3h1.45M209.3 136.3h1.45M209.4 134.1h1.45M209.5 133.2h1.45M209.6 129.9h1.45M209.6 128.9h1.45M209.3 127.7h1.45M209.3 126.6h1.45M209.3 125.4h1.45M209.5 124.3h1.45M209.4 122.3h1.45M209.6 119.9h1.45M209.5 118.7h1.45M210.6 136.5h1.45M210.5 135.2h1.45M210.6 134.3h1.45M210.6 133.3h1.45M210.5 132h1.45M210.4 130.9h1.45M210.6 129.8h1.45M210.5 128.7h1.45M210.6 126.6h1.45M210.4 125.4h1.45M210.6 124.3h1.45M210.6 123.1h1.45M210.6 122h1.45M210.6 121.2h1.45M210.5 120h1.45M210.4 119h1.45M210.6 116.7h1.45M210.6 114.5h1.45M210.6 110.2h1.45M208.2 115.9h1.45M208.5 113.9h1.45M208.1 107.9h1.45M207.8 105.9h1.45M207.8 103.9h1.45M208.4 102.9h1.45M208.3 96.9h1.45M208 95.9h1.45" stroke="#66A61E" stroke-width="1.45" fill="none"/>
<rect x="213.00" y="136.37" width="5.50" height="70.93" fill="#E6AB02"/>
<path d="M217.9 91.9h0M215.7 95.5h0M217 104.6h0M217 108h0" stroke="#E6AB02" stroke-width="2.0" stroke-linecap="round" fill="none"/>
<path d="M213.4 149v1.2M215.4 145.7v1.2M216.5 143.5v1.2" stroke="#fff" stroke-opacity="0.8" stroke-width="0.9" fill="none"/>
<line x1="213.90" x2="213.90" y1="118.22" y2="80.78" stroke="#E6AB02" stroke-width="1.1"/>
<path d="M213 136.6h1.45M213 135.2h1.45M213 134.3h1.45M213.1 130.9h1.45M213 128.8h1.45M213 127.8h1.45M213 125.6h1.45M213 122.3h1.45M213 121h1.45M213 119.9h1.45M213.1 117.9h1.45M213 115.4h1.45M213 113.4h1.45M213 112.3h1.45M213.1 111.2h1.45M213 110.1h1.45M213 105.5h1.45M214.1 136.6h1.45M214.1 135.2h1.45M214 134.4h1.45M214.1 133.2h1.45M214.1 131.9h1.45M214 131h1.45M214 130h1.45M214 128.6h1.45M213.9 127.6h1.45M213.9 126.5h1.45M214.1 124.5h1.45M214 121h1.45M214 118.8h1.45M214.1 116.7h1.45M214.1 114.6h1.45M215 136.6h1.45M214.9 135.4h1.45M215 133.1h1.45M214.9 130.8h1.45M214.9 128.7h1.45M215.1 126.6h1.45M215.1 125.3h1.45M215 124.4h1.45M215 123.4h1.45M215.1 122.1h1.45M215 120.9h1.45M214.9 120h1.45M214.9 119h1.45M215.1 116.9h1.45M214.9 115.4h1.45M215 114.5h1.45M215.1 113.2h1.45M215.2 109h1.45M216 136.7h1.45M215.9 135.3h1.45M216.1 134.4h1.45M215.9 133.2h1.45M216.1 132.1h1.45M216.1 129.9h1.45M215.9 128.8h1.45M215.9 127.6h1.45M216 126.7h1.45M216.2 124.2h1.45M215.9 122.2h1.45M215.9 120.1h1.45M216 119.1h1.45M216.2 112.1h1.45M217.1 136.6h1.45M216.9 132h1.45M217 131h1.45M217.1 129.8h1.45M217.1 128.9h1.45M217 126.5h1.45M217 124.2h1.45M217 123.2h1.45M217.1 122.1h1.45M217.1 121.2h1.45M216.9 119h1.45M216.9 117.8h1.45M217 116.7h1.45M217.1 115.5h1.45M217.1 114.4h1.45M217 113.2h1.45M217.1 112.3h1.45M213.4 109.5h1.45M213.2 107.5h1.45M213.5 106.5h1.45M213.2 105.5h1.45M213.1 104.5h1.45M213.9 102.5h1.45M213.2 100.5h1.45M213.9 95.5h1.45M213.9 93.5h1.45M213.5 90.5h1.45M213.2 88.5h1.45M213.7 86.5h1.45M213.2 84.5h1.45M213.3 81.5h1.45M213.3 80.5h1.45" stroke="#E6AB02" stroke-width="1.45" fill="none"/>
<rect x="219.50" y="136.37" width="5.00" height="70.93" fill="#A6761D"/>
<path d="M223.5 108h0M222.5 112.3h0" stroke="#A6761D" stroke-width="2.0" stroke-linecap="round" fill="none"/>
<path d="M219.6 142.4v1.2M219.6 138v1.2M221.9 138v1.2M223 136.9v1.2" stroke="#fff" stroke-opacity="0.8" stroke-width="0.9" fill="none"/>
<path d="M219.5 136.3h1.45M219.5 134.4h1.45M219.5 133.3h1.45M219.5 132.1h1.45M219.6 129.8h1.45M219.5 128.9h1.45M219.6 127.5h1.45M219.6 126.5h1.45M219.6 125.5h1.45M219.5 122.1h1.45M220.7 136.5h1.45M220.7 135.4h1.45M220.8 134.3h1.45M220.6 133.1h1.45M220.7 130.8h1.45M220.6 128.9h1.45M220.8 127.5h1.45M220.8 126.7h1.45M220.7 125.6h1.45M220.6 123.1h1.45M220.6 122.3h1.45M220.7 121.2h1.45M220.6 120h1.45M220.6 118.9h1.45M220.8 116.7h1.45M222 136.4h1.45M222 134.1h1.45M221.8 133.1h1.45M222 131.9h1.45M221.8 131h1.45M221.8 129.7h1.45M221.7 127.5h1.45M221.8 119.8h1.45M221.9 116.6h1.45M223.1 136.6h1.45M223 135.5h1.45M223 134.2h1.45M223.1 133.2h1.45M223.1 132.2h1.45M223.1 131h1.45M223.1 129.7h1.45M222.9 126.7h1.45M223 124.3h1.45M223.1 123.1h1.45M223.1 121.2h1.45M223 119.8h1.45M223 116.7h1.45" stroke="#A6761D" stroke-width="1.45" fill="none"/>
<rect x="225.50" y="136.37" width="4.50" height="70.93" fill="#666666"/>
<path d="M227.5 103h0M228.9 114.8h0" stroke="#666666" stroke-width="2.0" stroke-linecap="round" fill="none"/>
<path d="M229.3 139.1v1.2" stroke="#fff" stroke-opacity="0.8" stroke-width="0.9" fill="none"/>
<path d="M225.5 136.4h1.45M225.6 134.1h1.45M225.6 133.2h1.45M225.5 131.1h1.45M225.5 129.8h1.45M225.5 128.7h1.45M225.5 127.7h1.45M225.5 126.6h1.45M225.6 124.3h1.45M226.6 136.3h1.45M226.6 135.5h1.45M226.5 132.1h1.45M226.6 131h1.45M226.6 130h1.45M226.4 128.9h1.45M226.5 127.7h1.45M226.5 126.6h1.45M226.5 124.5h1.45M226.6 123.4h1.45M226.4 122.3h1.45M226.4 121h1.45M226.5 120h1.45M226.5 118.7h1.45M226.6 116.5h1.45M226.4 112.2h1.45M227.6 136.3h1.45M227.5 135.2h1.45M227.4 129.9h1.45M227.4 128.6h1.45M227.5 126.5h1.45M227.6 125.6h1.45M227.5 124.2h1.45M228.5 136.6h1.45M228.6 135.6h1.45M228.6 134.3h1.45M228.4 133.3h1.45M228.6 131.9h1.45M228.4 131.1h1.45M228.5 127.8h1.45M228.6 124.2h1.45" stroke="#666666" stroke-width="1.45" fill="none"/>
<rect x="230.80" y="136.37" width="4.20" height="70.93" fill="#1B9E77"/>
<path d="M233.9 88.7h0M233.1 99.6h0M232.6 103.9h0M232.2 108h0M233.9 110.5h0" stroke="#1B9E77" stroke-width="2.0" stroke-linecap="round" fill="none"/>
<path d="M231.1 144.6v1.2M232.2 136.9v1.2M233.1 142.4v1.2M233.3 140.2v1.2" stroke="#fff" stroke-opacity="0.8" stroke-width="0.9" fill="none"/>
<path d="M230.8 136.5h1.45M230.8 134.2h1.45M230.8 133.1h1.45M230.8 132.2h1.45M230.8 129.7h1.45M230.8 125.4h1.45M230.8 124.3h1.45M230.8 122.2h1.45M230.8 121.2h1.45M230.8 119.9h1.45M230.8 112.4h1.45M232.3 136.6h1.45M232.2 135.6h1.45M232.2 134.1h1.45M232.3 131.9h1.45M232.2 129.9h1.45M232 128.8h1.45M232.2 127.5h1.45M232.2 125.3h1.45M232.1 124.5h1.45M232.3 123.4h1.45M232.2 121.1h1.45M232.1 120.1h1.45M232 116.8h1.45M232.1 115.4h1.45M232.1 114.5h1.45M233.6 136.4h1.45M233.6 135.5h1.45M233.4 134.2h1.45M233.4 132h1.45M233.6 131.1h1.45M233.6 129.7h1.45M233.4 125.5h1.45M233.6 124.4h1.45M233.5 123.3h1.45M233.6 122h1.45M233.4 120.9h1.45M233.4 119.8h1.45M233.5 118.7h1.45M233.6 116.6h1.45M233.6 115.6h1.45M233.4 114.5h1.45M233.6 113.5h1.45M233.6 109.1h1.45" stroke="#1B9E77" stroke-width="1.45" fill="none"/>
<rect x="236.00" y="136.37" width="4.80" height="70.93" fill="#D95F02"/>
<path d="M239.8 122.8h0" stroke="#D95F02" stroke-width="2.0" stroke-linecap="round" fill="none"/>
<path d="M236.2 140.2v1.2M237.3 139.1v1.2" stroke="#fff" stroke-opacity="0.8" stroke-width="0.9" fill="none"/>
<path d="M236.1 136.5h1.45M236 135.6h1.45M236.1 134.1h1.45M236.1 133.2h1.45M236 131h1.45M236.1 129.9h1.45M236 128.6h1.45M236 125.3h1.45M236 124.2h1.45M236 123.4h1.45M236 122.3h1.45M236.1 121.2h1.45M236.1 114.3h1.45M237.1 136.5h1.45M237 135.5h1.45M237.2 134.2h1.45M237.1 133.3h1.45M237 132.1h1.45M237 130.8h1.45M237.1 128.9h1.45M237.1 127.8h1.45M237.1 126.6h1.45M237.2 125.6h1.45M237.1 124.3h1.45M237 122.2h1.45M237 114.3h1.45M238.1 136.5h1.45M238.4 134.3h1.45M238.1 132h1.45M238.3 130.8h1.45M238.4 129.8h1.45M238.2 128.9h1.45M238.2 127.7h1.45M238.2 126.5h1.45M238.1 125.5h1.45M238.2 122.2h1.45M239.4 136.5h1.45M239.4 135.4h1.45M239.3 134.4h1.45M239.4 132.3h1.45M239.4 131h1.45M239.2 129.7h1.45M239.2 128.8h1.45M239.4 126.5h1.45M239.3 125.5h1.45M239.3 122.2h1.45M239.2 119.9h1.45M239.2 118.7h1.45" stroke="#D95F02" stroke-width="1.45" fill="none"/>
<rect x="241.70" y="136.37" width="3.00" height="70.93" fill="#7570B3"/>
<path d="M243.7 114.8h0M243.7 117.3h0M242 125h0" stroke="#7570B3" stroke-width="2.0" stroke-linecap="round" fill="none"/>
<path d="M242 143.5v1.2M242.1 140.2v1.2M243 146.8v1.2M243 143.5v1.2M243 142.4v1.2" stroke="#fff" stroke-opacity="0.8" stroke-width="0.9" fill="none"/>
<path d="M241.7 136.6h1.45M241.7 134.2h1.45M241.8 133h1.45M241.8 132.2h1.45M241.8 131h1.45M241.7 129.9h1.45M241.7 128.8h1.45M241.7 125.5h1.45M241.8 123.4h1.45M243.2 136.5h1.45M243.2 135.3h1.45M243.2 134.3h1.45M243.2 133.1h1.45M243.2 130.9h1.45M243.1 129.9h1.45M243.2 128.9h1.45" stroke="#7570B3" stroke-width="1.45" fill="none"/>
<rect x="245.60" y="134.10" width="3.50" height="73.20" fill="#E7298A"/>
<path d="M247.9 103h0M247.9 105.5h0" stroke="#E7298A" stroke-width="2.0" stroke-linecap="round" fill="none"/>
<path d="M245.7 134.6v1.2M248.2 148.9v1.2" stroke="#fff" stroke-opacity="0.8" stroke-width="0.9" fill="none"/>
<path d="M245.6 134.3h1.45M245.6 132.2h1.45M245.6 130.9h1.45M245.6 130h1.45M245.7 128.9h1.45M245.6 124.3h1.45M245.7 123.3h1.45M245.6 122.3h1.45M245.6 121h1.45M245.7 119.9h1.45M245.6 116.5h1.45M246.5 134.3h1.45M246.5 132.9h1.45M246.5 132.1h1.45M246.6 130.9h1.45M246.5 129.6h1.45M246.6 128.9h1.45M246.5 126.4h1.45M246.7 125.5h1.45M246.7 123.3h1.45M246.7 122.2h1.45M246.6 121.1h1.45M246.5 119.9h1.45M246.5 119h1.45M246.5 117.7h1.45M246.6 114.3h1.45M246.6 113.4h1.45M246.6 112.4h1.45M246.5 104.4h1.45M247.6 134.2h1.45M247.7 133.2h1.45M247.6 130h1.45M247.7 128.5h1.45M247.6 127.8h1.45M247.7 126.5h1.45M247.7 125.5h1.45M247.6 124.4h1.45M247.6 123h1.45M247.7 122.3h1.45M247.6 121.2h1.45M247.7 120h1.45M247.7 118.7h1.45M247.7 117.6h1.45M247.7 116.5h1.45M247.6 110h1.45M247.6 109h1.45M247.7 95.5h1.45M247.2 94.5h1.45M247.4 93.5h1.45M247 92.5h1.45M247.8 89.5h1.45M247.4 88.5h1.45" stroke="#E7298A" stroke-width="1.45" fill="none"/>
<rect x="250.20" y="136.37" width="2.90" height="70.93" fill="#66A61E"/>
<path d="M251.1 103h0M251.6 113.7h0" stroke="#66A61E" stroke-width="2.0" stroke-linecap="round" fill="none"/>
<path d="M251.8 136.9v1.2" stroke="#fff" stroke-opacity="0.8" stroke-width="0.9" fill="none"/>
<path d="M250.2 136.5h1.45M250.3 135.3h1.45M250.2 134.1h1.45M250.3 133.1h1.45M250.3 131.9h1.45M250.2 130.9h1.45M250.3 130h1.45M250.2 128.7h1.45M250.2 127.6h1.45M250.2 126.4h1.45M250.2 125.5h1.45M250.2 124.5h1.45M250.3 119.9h1.45M250.2 118.8h1.45M251.7 136.3h1.45M251.7 135.2h1.45M251.7 133.3h1.45M251.7 131.9h1.45M251.5 131.1h1.45M251.6 130h1.45M251.7 128.8h1.45M251.6 127.8h1.45M251.5 126.6h1.45M251.7 125.3h1.45M251.6 124.4h1.45M251.5 123.3h1.45M251.6 122.1h1.45M251.6 120.9h1.45M251.6 115.6h1.45" stroke="#66A61E" stroke-width="1.45" fill="none"/>
<rect x="253.90" y="136.37" width="2.60" height="70.93" fill="#E6AB02"/>
<path d="M255.5 110.5h0M256 111.4h0" stroke="#E6AB02" stroke-width="2.0" stroke-linecap="round" fill="none"/>
<path d="M253.9 136.4h1.45M253.9 135.2h1.45M254 134.4h1.45M253.9 131.9h1.45M253.9 130h1.45M253.9 128.9h1.45M253.9 126.6h1.45M253.9 124.2h1.45M254 123.2h1.45M255 136.4h1.45M255 135.2h1.45M255.1 134.1h1.45M255.1 133.2h1.45M255 132h1.45M255.1 130.8h1.45M254.9 124.4h1.45M255 123.4h1.45M255 122.2h1.45M254.9 121.1h1.45M255.1 117.9h1.45" stroke="#E6AB02" stroke-width="1.45" fill="none"/>
<rect x="257.90" y="136.37" width="4.40" height="70.93" fill="#A6761D"/>
<path d="M258.9 102.1h0M260.9 109.8h0M259.2 115.9h0" stroke="#A6761D" stroke-width="2.0" stroke-linecap="round" fill="none"/>
<path d="M259.4 136.9v1.2M260.5 146.8v1.2M260.2 139.1v1.2M260.5 138v1.2" stroke="#fff" stroke-opacity="0.8" stroke-width="0.9" fill="none"/>
<path d="M257.9 136.5h1.45M257.9 135.4h1.45M257.9 134.2h1.45M257.9 133.1h1.45M257.9 130.8h1.45M257.9 130.1h1.45M257.9 116.5h1.45M257.9 114.6h1.45M258.8 136.6h1.45M258.8 135.5h1.45M258.8 133.3h1.45M258.8 132.2h1.45M258.7 130.8h1.45M258.8 129.9h1.45M259 127.7h1.45M258.9 126.6h1.45M258.9 125.6h1.45M258.9 123.1h1.45M259 122h1.45M258.8 121.2h1.45M258.9 118.9h1.45M259 117.6h1.45M258.8 116.8h1.45M259.8 135.4h1.45M260 134.2h1.45M259.8 133.1h1.45M259.9 132.1h1.45M259.8 131h1.45M259.7 129.8h1.45M259.9 128.7h1.45M259.8 127.6h1.45M259.9 126.8h1.45M259.8 125.6h1.45M260 124.2h1.45M259.9 123.1h1.45M259.9 122.3h1.45M259.8 121h1.45M259.9 117.9h1.45M259.9 115.5h1.45M260.9 136.6h1.45M260.8 135.4h1.45M260.9 134.2h1.45M260.9 129.8h1.45M260.9 128.6h1.45M260.9 126.7h1.45M260.8 125.4h1.45M260.9 123.3h1.45M260.9 119.1h1.45M260.8 113.5h1.45" stroke="#A6761D" stroke-width="1.45" fill="none"/>
<line x1="63.25" x2="269.3" y1="41.06" y2="41.06" stroke="#a3a3a3" stroke-width="1.7"/>
<line x1="63.25" x2="269.3" y1="70.57" y2="70.57" stroke="#666" stroke-width="1.15" stroke-dasharray="2.3 1.75" stroke-dashoffset="0.35"/>
<rect x="63.25" y="18.20" width="206.05" height="196.15" fill="none" stroke="#1a1a1a" stroke-width="1.25" stroke-linejoin="round"/>
<line x1="60.05" x2="63.25" y1="206.70" y2="206.70" stroke="#222" stroke-width="1"/>
<text x="56.15" y="208.28" class="tk" font-size="4.4" text-anchor="middle">0</text>
<line x1="60.05" x2="63.25" y1="161.32" y2="161.32" stroke="#222" stroke-width="1"/>
<text x="56.15" y="162.91" class="tk" font-size="4.4" text-anchor="middle">2</text>
<line x1="60.05" x2="63.25" y1="115.95" y2="115.95" stroke="#222" stroke-width="1"/>
<text x="56.15" y="117.53" class="tk" font-size="4.4" text-anchor="middle">4</text>
<line x1="60.05" x2="63.25" y1="70.57" y2="70.57" stroke="#222" stroke-width="1"/>
<text x="56.15" y="72.16" class="tk" font-size="4.4" text-anchor="middle">6</text>
<line x1="60.05" x2="63.25" y1="25.20" y2="25.20" stroke="#222" stroke-width="1"/>
<text x="56.15" y="26.78" class="tk" font-size="4.4" text-anchor="middle">8</text>
<line x1="76.60" x2="76.60" y1="214.35" y2="217.35" stroke="#222" stroke-width="1"/>
<text x="76.60" y="224.15" class="tk" font-size="4.1" text-anchor="middle">1</text>
<line x1="90.40" x2="90.40" y1="214.35" y2="217.35" stroke="#222" stroke-width="1"/>
<text x="90.40" y="224.15" class="tk" font-size="4.1" text-anchor="middle">2</text>
<line x1="104.00" x2="104.00" y1="214.35" y2="217.35" stroke="#222" stroke-width="1"/>
<text x="104.00" y="224.15" class="tk" font-size="4.1" text-anchor="middle">3</text>
<line x1="116.60" x2="116.60" y1="214.35" y2="217.35" stroke="#222" stroke-width="1"/>
<text x="116.60" y="224.15" class="tk" font-size="4.1" text-anchor="middle">4</text>
<line x1="129.00" x2="129.00" y1="214.35" y2="217.35" stroke="#222" stroke-width="1"/>
<text x="129.00" y="224.15" class="tk" font-size="4.1" text-anchor="middle">5</text>
<line x1="141.40" x2="141.40" y1="214.35" y2="217.35" stroke="#222" stroke-width="1"/>
<text x="141.40" y="224.15" class="tk" font-size="4.1" text-anchor="middle">6</text>
<line x1="153.00" x2="153.00" y1="214.35" y2="217.35" stroke="#222" stroke-width="1"/>
<text x="153.00" y="224.15" class="tk" font-size="4.1" text-anchor="middle">7</text>
<line x1="163.00" x2="163.00" y1="214.35" y2="217.35" stroke="#222" stroke-width="1"/>
<text x="163.00" y="224.15" class="tk" font-size="4.1" text-anchor="middle">8</text>
<line x1="172.30" x2="172.30" y1="214.35" y2="217.35" stroke="#222" stroke-width="1"/>
<text x="172.30" y="224.15" class="tk" font-size="4.1" text-anchor="middle">9</text>
<line x1="181.25" x2="181.25" y1="214.35" y2="217.35" stroke="#222" stroke-width="1"/>
<text x="181.25" y="224.15" class="tk" font-size="4.1" text-anchor="middle">10</text>
<line x1="190.50" x2="190.50" y1="214.35" y2="217.35" stroke="#222" stroke-width="1"/>
<text x="190.50" y="224.15" class="tk" font-size="4.1" text-anchor="middle">11</text>
<line x1="200.40" x2="200.40" y1="214.35" y2="217.35" stroke="#222" stroke-width="1"/>
<text x="200.40" y="224.15" class="tk" font-size="4.1" text-anchor="middle">12</text>
<line x1="208.70" x2="208.70" y1="214.35" y2="217.35" stroke="#222" stroke-width="1"/>
<text x="208.70" y="224.15" class="tk" font-size="4.1" text-anchor="middle">13</text>
<line x1="215.50" x2="215.50" y1="214.35" y2="217.35" stroke="#222" stroke-width="1"/>
<text x="215.50" y="224.15" class="tk" font-size="4.1" text-anchor="middle">14</text>
<line x1="221.50" x2="221.50" y1="214.35" y2="217.35" stroke="#222" stroke-width="1"/>
<text x="221.50" y="224.15" class="tk" font-size="4.1" text-anchor="middle">15</text>
<line x1="227.60" x2="227.60" y1="214.35" y2="217.35" stroke="#222" stroke-width="1"/>
<text x="227.60" y="224.15" class="tk" font-size="4.1" text-anchor="middle">16</text>
<line x1="232.30" x2="232.30" y1="214.35" y2="217.35" stroke="#222" stroke-width="1"/>
<text x="232.30" y="224.15" class="tk" font-size="4.1" text-anchor="middle">17</text>
<line x1="237.70" x2="237.70" y1="214.35" y2="217.35" stroke="#222" stroke-width="1"/>
<text x="237.70" y="224.15" class="tk" font-size="4.1" text-anchor="middle">18</text>
<line x1="242.90" x2="242.90" y1="214.35" y2="217.35" stroke="#222" stroke-width="1"/>
<text x="242.90" y="224.15" class="tk" font-size="4.1" text-anchor="middle">19</text>
<line x1="247.30" x2="247.30" y1="214.35" y2="217.35" stroke="#222" stroke-width="1"/>
<text x="247.30" y="224.15" class="tk" font-size="4.1" text-anchor="middle">20</text>
<line x1="251.40" x2="251.40" y1="214.35" y2="217.35" stroke="#222" stroke-width="1"/>
<text x="251.40" y="224.15" class="tk" font-size="4.1" text-anchor="middle">21</text>
<line x1="255.10" x2="255.10" y1="214.35" y2="217.35" stroke="#222" stroke-width="1"/>
<line x1="261.40" x2="261.40" y1="214.35" y2="217.35" stroke="#222" stroke-width="1"/>
<text x="261.40" y="224.15" class="tk" font-size="4.1" text-anchor="middle">X</text>
<text x="153.9" y="233.55" font-size="5.9" textLength="24.4" lengthAdjust="spacingAndGlyphs" class="xt">Chromosome</text>
<text transform="translate(47.60,116.00) rotate(-90)" class="yt" text-anchor="middle" textLength="17" lengthAdjust="spacingAndGlyphs">-log<tspan font-size="3.6" dy="1.3">10</tspan><tspan dy="-1.3">(p)</tspan></text>
<rect x="313.48" y="142.79" width="12.56" height="64.61" fill="#1B9E77"/>
<path d="M314.4 101.6h0M317.6 102.8h0M319.7 103.9h0M320.8 108.5h0M322.5 110.8h0" stroke="#1B9E77" stroke-width="2.0" stroke-linecap="round" fill="none"/>
<path d="M313.7 144.5v1.2M315 151.1v1.2M317 150v1.2M318 146.7v1.2M319.5 147.8v1.2M320.3 143.4v1.2M321.3 150v1.2M321.7 145.6v1.2M323.6 147.8v1.2M323.6 146.7v1.2M323.7 143.4v1.2M324.8 147.8v1.2" stroke="#fff" stroke-opacity="0.8" stroke-width="0.9" fill="none"/>
<path d="M313.5 143.1h1.45M313.5 140.5h1.45M313.5 139.7h1.45M313.5 137.3h1.45M313.5 135.2h1.45M313.6 134.1h1.45M313.5 131.7h1.45M313.6 129.6h1.45M313.6 127.4h1.45M313.6 125.1h1.45M313.5 124.4h1.45M313.5 123.1h1.45M313.5 122h1.45M313.5 120.7h1.45M313.6 119.9h1.45M313.5 118.9h1.45M313.6 117.5h1.45M313.5 116.5h1.45M313.6 115.4h1.45M313.5 113.2h1.45M314.5 143.1h1.45M314.6 141.6h1.45M314.6 139.4h1.45M314.6 138.5h1.45M314.5 137.4h1.45M314.5 136.2h1.45M314.6 135.3h1.45M314.5 133.2h1.45M314.7 131.9h1.45M314.7 130.9h1.45M314.5 129.6h1.45M314.7 128.4h1.45M314.7 127.4h1.45M314.5 126.4h1.45M314.6 122.9h1.45M314.5 120.9h1.45M314.7 119.8h1.45M314.7 118.8h1.45M314.7 117.6h1.45M314.6 116.7h1.45M314.6 114.5h1.45M314.7 113.1h1.45M314.5 111.9h1.45M315.7 142.8h1.45M315.6 140.7h1.45M315.8 139.5h1.45M315.8 137.5h1.45M315.8 135.1h1.45M315.8 134.1h1.45M315.8 132.9h1.45M315.7 131.8h1.45M315.7 130.6h1.45M315.8 129.5h1.45M315.8 126.5h1.45M315.7 125.1h1.45M315.8 124h1.45M315.7 116.6h1.45M315.6 114.2h1.45M316.7 142.8h1.45M316.8 142h1.45M316.9 139.4h1.45M317 138.6h1.45M316.7 137.5h1.45M316.8 136.1h1.45M316.9 134.2h1.45M316.8 132.9h1.45M316.8 130.7h1.45M316.7 129.5h1.45M316.8 127.4h1.45M316.7 126.4h1.45M316.7 125.2h1.45M316.9 124.1h1.45M316.7 123h1.45M316.9 116.7h1.45M318 143h1.45M317.9 141.7h1.45M317.8 140.5h1.45M318 139.4h1.45M318.1 138.7h1.45M318 136.4h1.45M318 135h1.45M318 134h1.45M317.9 133.1h1.45M318 130.9h1.45M317.8 128.8h1.45M318 127.3h1.45M317.9 126.5h1.45M318 124.2h1.45M318 123.2h1.45M317.9 122.1h1.45M317.9 115.5h1.45M319 142.7h1.45M318.9 141.6h1.45M319.1 139.6h1.45M318.9 138.3h1.45M319 137.4h1.45M319.2 136.1h1.45M319.1 134.2h1.45M319 132.9h1.45M318.9 127.5h1.45M319 126.2h1.45M318.9 125.2h1.45M319.1 124.1h1.45M319.1 121.9h1.45M320 143.1h1.45M320.2 140.6h1.45M320 139.6h1.45M320.1 138.4h1.45M320.2 137.3h1.45M320.2 136.4h1.45M320.1 134h1.45M320.2 132h1.45M320.2 129.6h1.45M320.1 128.5h1.45M320.2 127.7h1.45M320.3 126.5h1.45M320.2 125.1h1.45M320.1 124h1.45M320.1 123h1.45M320.3 120.9h1.45M320.1 107.8h1.45M321.1 142.8h1.45M321.1 139.5h1.45M321.2 137.5h1.45M321.4 135.3h1.45M321.4 134.1h1.45M321.1 133.1h1.45M321.1 131.8h1.45M321.1 130.9h1.45M321.3 129.8h1.45M321.3 128.8h1.45M321.4 127.5h1.45M321.2 126.3h1.45M321.1 125.4h1.45M321.2 124.1h1.45M321.4 123.2h1.45M321.3 121.9h1.45M321.4 121.1h1.45M321.3 119.7h1.45M321.2 118.8h1.45M321.2 117.6h1.45M321.4 116.6h1.45M322.4 141.7h1.45M322.2 140.8h1.45M322.5 138.3h1.45M322.5 137.5h1.45M322.3 136.5h1.45M322.3 135.2h1.45M322.4 134.1h1.45M322.4 132.8h1.45M322.5 132.1h1.45M322.5 130.6h1.45M322.5 128.4h1.45M322.3 127.6h1.45M322.4 126.3h1.45M322.2 125.2h1.45M322.5 124.2h1.45M322.4 123.1h1.45M322.3 122.1h1.45M322.3 120.9h1.45M322.4 118.7h1.45M323.5 142.9h1.45M323.5 141.9h1.45M323.5 138.6h1.45M323.4 137.4h1.45M323.4 136.4h1.45M323.4 135.2h1.45M323.4 133.9h1.45M323.5 132.8h1.45M323.4 132.1h1.45M323.5 130.8h1.45M323.4 129.8h1.45M323.4 120.8h1.45M323.5 116.6h1.45M324.6 143.1h1.45M324.5 141.9h1.45M324.6 139.5h1.45M324.5 138.5h1.45M324.6 137.2h1.45M324.6 133.1h1.45M324.6 132h1.45M324.5 130.7h1.45M324.6 129.8h1.45M324.6 127.6h1.45M324.6 126.5h1.45M324.6 125.4h1.45M324.6 124.3h1.45M324.6 123.1h1.45M324.6 122.1h1.45M324.6 120.8h1.45M324.6 119.9h1.45M324.5 118.6h1.45" stroke="#1B9E77" stroke-width="1.45" fill="none"/>
<rect x="326.54" y="136.61" width="13.56" height="70.79" fill="#D95F02"/>
<path d="M336.7 104.4h0M333.5 110.8h0M331.1 111.9h0" stroke="#D95F02" stroke-width="2.0" stroke-linecap="round" fill="none"/>
<path d="M326.8 140.6v1.2M328.1 145v1.2M329.2 143.9v1.2M330.2 150.5v1.2M332.3 140.6v1.2M333.4 138.4v1.2M335.6 139.5v1.2M336.8 137.3v1.2M337.8 146.1v1.2M337.9 141.7v1.2" stroke="#fff" stroke-opacity="0.8" stroke-width="0.9" fill="none"/>
<path d="M326.7 136.8h1.45M326.6 135.6h1.45M326.5 134.7h1.45M326.5 133.3h1.45M326.5 132.5h1.45M326.5 130h1.45M326.5 126.8h1.45M326.6 120.1h1.45M326.6 116.8h1.45M327.8 136.7h1.45M327.6 135.7h1.45M327.8 134.5h1.45M327.5 132.2h1.45M327.5 131.1h1.45M327.6 129.9h1.45M327.6 127.8h1.45M327.8 125.8h1.45M327.6 124.5h1.45M327.5 123.4h1.45M327.7 122.4h1.45M327.5 116.8h1.45M327.5 110.5h1.45M328.8 136.9h1.45M328.9 135.8h1.45M328.6 134.6h1.45M328.7 133.5h1.45M328.6 131.3h1.45M328.9 128h1.45M328.8 126.7h1.45M328.7 125.8h1.45M328.7 124.7h1.45M328.8 122.2h1.45M328.8 121.5h1.45M328.7 120.2h1.45M328.7 119.1h1.45M328.8 118.1h1.45M328.7 116.9h1.45M328.8 114.9h1.45M328.7 112.5h1.45M329.8 136.8h1.45M330 135.7h1.45M329.9 131.3h1.45M329.9 129.9h1.45M330 126.9h1.45M329.9 125.9h1.45M329.8 111.4h1.45M331 134.6h1.45M330.9 132.4h1.45M330.9 131.1h1.45M331 130.2h1.45M330.8 128.9h1.45M330.9 127.7h1.45M330.9 114.8h1.45M331.9 136.8h1.45M332 132.2h1.45M331.9 131.1h1.45M331.9 130h1.45M332 128.8h1.45M331.9 113.8h1.45M333 136.6h1.45M333.2 135.6h1.45M333 134.6h1.45M333.1 133.5h1.45M333.2 132.5h1.45M333.3 131.3h1.45M333.1 130.2h1.45M333 127.7h1.45M333.1 122.5h1.45M333.3 121.2h1.45M333.2 120.4h1.45M333.2 119h1.45M333.2 117h1.45M333.2 114.9h1.45M333 110.1h1.45M334.2 136.8h1.45M334.2 135.8h1.45M334.3 134.6h1.45M334.1 133.4h1.45M334.3 132.3h1.45M334.2 129.2h1.45M334.1 128h1.45M334.2 124.5h1.45M334.3 123.7h1.45M334.3 122.5h1.45M334.3 121.5h1.45M334.3 120.1h1.45M334.3 116.7h1.45M334.2 114.9h1.45M334.4 110.2h1.45M335.3 136.6h1.45M335.3 135.8h1.45M335.4 133.5h1.45M335.2 131.2h1.45M335.2 130.1h1.45M335.4 129.2h1.45M335.4 128h1.45M335.5 125.6h1.45M335.4 124.8h1.45M335.2 123.3h1.45M335.3 122.6h1.45M335.4 121.5h1.45M335.3 120.1h1.45M336.4 136.9h1.45M336.5 135.8h1.45M336.6 134.5h1.45M336.3 133.6h1.45M336.4 131.3h1.45M336.6 128.8h1.45M336.4 128h1.45M336.3 126.9h1.45M336.5 125.7h1.45M337.5 136.9h1.45M337.5 135.4h1.45M337.6 134.6h1.45M337.6 133.6h1.45M337.7 132.3h1.45M337.7 128.9h1.45M337.6 128h1.45M337.5 126.7h1.45M337.5 125.7h1.45M337.6 123.4h1.45M337.5 122.4h1.45M337.6 121.3h1.45M337.5 120.3h1.45M337.6 119h1.45M337.5 118.1h1.45M337.6 117h1.45M337.6 115.7h1.45M337.7 113.5h1.45M337.6 112.4h1.45M337.6 110.2h1.45M338.7 136.6h1.45M338.5 135.8h1.45M338.7 134.6h1.45M338.5 133.5h1.45M338.7 132.3h1.45M338.7 131.4h1.45M338.6 130.2h1.45M338.7 128.9h1.45M338.5 128h1.45M338.7 126.7h1.45M338.6 124.5h1.45M338.5 115.8h1.45" stroke="#D95F02" stroke-width="1.45" fill="none"/>
<rect x="341.11" y="138.21" width="12.06" height="69.19" fill="#7570B3"/>
<path d="M345.8 106.4h0" stroke="#7570B3" stroke-width="2.0" stroke-linecap="round" fill="none"/>
<path d="M342.6 141.1v1.2M343.5 141.1v1.2M343.6 140v1.2M344.7 140v1.2M345.8 142.2v1.2M347.1 151v1.2M346.7 146.6v1.2M347.9 146.6v1.2M350.3 140v1.2M351.1 146.6v1.2M351.3 141.1v1.2" stroke="#fff" stroke-opacity="0.8" stroke-width="0.9" fill="none"/>
<path d="M341.2 138.3h1.45M341.1 137.1h1.45M341.1 136h1.45M341.2 132.7h1.45M341.1 130.7h1.45M341.1 129.4h1.45M341.1 128.3h1.45M341.1 126.1h1.45M341.2 124.1h1.45M341.1 123h1.45M341.2 121.9h1.45M341.1 120.6h1.45M341.1 119.7h1.45M341.1 118.5h1.45M341.2 116.1h1.45M341.3 115.3h1.45M341.3 113.1h1.45M341.1 111.8h1.45M342.1 138.2h1.45M342.3 137h1.45M342 136h1.45M342 135.1h1.45M342.1 133.9h1.45M342.1 132.7h1.45M342.1 131.5h1.45M342.1 130.7h1.45M342.2 129.4h1.45M342.3 128.3h1.45M342.2 126.3h1.45M342.1 125.2h1.45M342.2 124.1h1.45M342.3 120.5h1.45M342.3 118.6h1.45M342.2 117.4h1.45M342.1 116.5h1.45M342.1 115.3h1.45M343.4 138.4h1.45M343.1 136.1h1.45M343.2 134.9h1.45M343.2 134h1.45M343.2 132.6h1.45M343.1 131.9h1.45M343.4 130.5h1.45M343.1 129.6h1.45M343.3 128.5h1.45M343.1 126.4h1.45M343.2 123.8h1.45M343.1 122.9h1.45M343.3 121.6h1.45M343.1 120.7h1.45M343.1 119.7h1.45M343.1 114.3h1.45M343.3 112h1.45M343.1 109.6h1.45M344.3 138.4h1.45M344.2 137.4h1.45M344.3 135.1h1.45M344.2 134.1h1.45M344.3 132.7h1.45M344.2 131.6h1.45M344.2 129.4h1.45M344.2 127.1h1.45M344.1 126.1h1.45M344.3 125.1h1.45M344.4 123.1h1.45M344.3 120.8h1.45M344.4 117.3h1.45M344.2 116.4h1.45M344.4 115.4h1.45M344.4 114h1.45M344.3 112.9h1.45M344.4 112h1.45M344.2 109.9h1.45M345.2 138.4h1.45M345.4 137.2h1.45M345.2 136.2h1.45M345.3 135.1h1.45M345.3 134h1.45M345.5 131.8h1.45M345.3 129.6h1.45M345.2 128.4h1.45M345.3 125h1.45M345.3 124.1h1.45M345.5 122.8h1.45M345.4 121.9h1.45M345.3 120.7h1.45M345.3 119.6h1.45M345.5 118.6h1.45M345.2 117.3h1.45M345.5 115h1.45M345.5 114.2h1.45M345.5 113.2h1.45M345.4 111.8h1.45M346.3 138.2h1.45M346.5 137.3h1.45M346.5 135.9h1.45M346.4 135.1h1.45M346.3 133.8h1.45M346.5 132.9h1.45M346.5 131.5h1.45M346.4 129.4h1.45M346.5 128.4h1.45M346.4 127.3h1.45M346.3 125h1.45M346.3 121.9h1.45M346.4 120.8h1.45M346.3 119.6h1.45M346.5 117.4h1.45M347.6 138.5h1.45M347.5 137.2h1.45M347.6 136.2h1.45M347.4 135.2h1.45M347.4 130.6h1.45M347.5 129.4h1.45M347.5 126.2h1.45M347.6 125h1.45M347.5 123.9h1.45M348.4 138.3h1.45M348.6 137.4h1.45M348.5 136.1h1.45M348.6 134.8h1.45M348.4 134h1.45M348.5 132.9h1.45M348.6 130.7h1.45M348.5 129.6h1.45M348.5 128.2h1.45M348.5 127.1h1.45M348.4 126.2h1.45M348.4 120.7h1.45M349.6 137.2h1.45M349.7 135.9h1.45M349.5 134.9h1.45M349.6 133.7h1.45M349.5 132.7h1.45M349.7 130.7h1.45M349.6 128.3h1.45M349.6 127.4h1.45M349.5 126.3h1.45M349.6 125.2h1.45M350.7 138.2h1.45M350.8 137.2h1.45M350.7 136.3h1.45M350.8 135h1.45M350.8 134h1.45M350.5 131.5h1.45M350.6 130.5h1.45M350.6 128.3h1.45M350.8 127.4h1.45M350.7 126.4h1.45M350.8 125.1h1.45M350.5 124.2h1.45M351.6 138.3h1.45M351.6 137.2h1.45M351.7 133.9h1.45M351.7 131.8h1.45M351.7 130.6h1.45M351.7 128.4h1.45M351.6 126.3h1.45M351.7 125.3h1.45M351.7 122.7h1.45M351.7 121.7h1.45M351.7 120.9h1.45M351.7 119.5h1.45M351.7 116.5h1.45M351.7 115.2h1.45M351.7 113.9h1.45M351.7 112.9h1.45M351.6 109.7h1.45" stroke="#7570B3" stroke-width="1.45" fill="none"/>
<rect x="354.17" y="138.21" width="12.06" height="69.19" fill="#E7298A"/>
<path d="M355.4 95.5h0M360 99.3h0M361.5 100.5h0M364.2 106.9h0" stroke="#E7298A" stroke-width="2.0" stroke-linecap="round" fill="none"/>
<path d="M354.6 148.8v1.2M354.6 138.9v1.2M355.4 155.4v1.2M355.6 140v1.2M357.9 143.3v1.2M357.7 138.9v1.2M358.8 141.1v1.2M359.8 142.2v1.2M360 140v1.2M361.1 144.4v1.2M362.3 147.7v1.2M362.3 141.1v1.2M364.3 152.1v1.2" stroke="#fff" stroke-opacity="0.8" stroke-width="0.9" fill="none"/>
<path d="M354.2 138.4h1.45M354.2 136h1.45M354.2 134h1.45M354.3 130.7h1.45M354.2 129.5h1.45M354.3 128.6h1.45M354.2 125h1.45M354.2 123h1.45M354.2 117.3h1.45M354.2 109.8h1.45M354.3 108.8h1.45M355.1 138.4h1.45M355.3 137.3h1.45M355.2 136.3h1.45M355.2 135.2h1.45M355.3 133.9h1.45M355.2 133h1.45M355.2 131.5h1.45M355.2 130.8h1.45M355.2 129.7h1.45M355.2 128.3h1.45M355.4 126.1h1.45M355.3 125.1h1.45M355.2 123.9h1.45M355.1 121.9h1.45M355.3 119.8h1.45M355.3 117.4h1.45M355.1 116.4h1.45M355.3 113h1.45M355.1 109.5h1.45M356.4 138.2h1.45M356.2 136.2h1.45M356.2 134.1h1.45M356.4 132.8h1.45M356.3 130.7h1.45M356.3 129.7h1.45M356.3 128.5h1.45M356.2 126.3h1.45M356.2 124.1h1.45M356.3 120.6h1.45M356.4 115.3h1.45M357.3 138.1h1.45M357.3 136h1.45M357.3 135h1.45M357.4 133.7h1.45M357.3 132.8h1.45M357.5 131.8h1.45M357.4 129.5h1.45M357.5 128.5h1.45M357.3 126.2h1.45M357.3 125.2h1.45M357.4 124.1h1.45M357.4 123.1h1.45M357.3 120.9h1.45M357.2 119.7h1.45M357.2 118.5h1.45M358.4 138.4h1.45M358.4 137.1h1.45M358.3 136.2h1.45M358.5 133.9h1.45M358.4 132.8h1.45M358.5 131.5h1.45M358.4 130.6h1.45M358.6 127.4h1.45M358.4 126.1h1.45M358.5 121.7h1.45M358.4 118.6h1.45M359.5 138.2h1.45M359.3 137.2h1.45M359.4 135h1.45M359.5 134h1.45M359.5 132.9h1.45M359.5 131.9h1.45M359.4 129.7h1.45M359.5 119.6h1.45M359.5 118.6h1.45M359.5 112.8h1.45M360.6 138.5h1.45M360.5 137.2h1.45M360.4 136.3h1.45M360.7 135.1h1.45M360.6 133.8h1.45M360.7 132.9h1.45M360.4 131.7h1.45M360.5 130.6h1.45M360.5 129.6h1.45M360.4 128.6h1.45M360.6 127.2h1.45M360.6 126h1.45M360.5 123h1.45M360.4 121.7h1.45M360.5 119.7h1.45M361.6 138.2h1.45M361.6 136.1h1.45M361.4 134.8h1.45M361.6 132.8h1.45M361.5 130.6h1.45M361.5 129.6h1.45M361.7 128.4h1.45M361.5 127.3h1.45M361.5 126.2h1.45M361.7 125h1.45M361.7 123.8h1.45M361.7 120.7h1.45M361.5 110.7h1.45M362.5 138.5h1.45M362.7 137h1.45M362.7 136h1.45M362.5 134.9h1.45M362.6 133.8h1.45M362.7 132.7h1.45M362.8 131.5h1.45M362.7 129.7h1.45M362.7 127.4h1.45M362.5 126.1h1.45M362.8 122h1.45M362.6 120.9h1.45M362.5 119.5h1.45M362.6 118.6h1.45M362.7 117.4h1.45M362.7 115.1h1.45M362.8 108.7h1.45M363.8 138.2h1.45M363.6 137.1h1.45M363.8 136.2h1.45M363.8 134.9h1.45M363.6 133.8h1.45M363.6 132.8h1.45M363.7 131.7h1.45M363.8 130.7h1.45M363.8 129.5h1.45M363.6 128.2h1.45M363.7 127.2h1.45M363.8 125.3h1.45M363.7 124h1.45M363.9 115.3h1.45M364.8 138.2h1.45M364.7 137.3h1.45M364.8 134.9h1.45M364.7 134h1.45M364.6 132.8h1.45M364.7 131.5h1.45M364.8 129.5h1.45M364.8 128.3h1.45M364.8 127.3h1.45M364.6 126.1h1.45M364.8 125.2h1.45M364.7 123h1.45M364.8 120.8h1.45M360.1 114.4h1.45M359.4 109.4h1.45M359.3 106.4h1.45M359.4 105.4h1.45" stroke="#E7298A" stroke-width="1.45" fill="none"/>
<rect x="367.03" y="141.64" width="10.75" height="65.76" fill="#66A61E"/>
<path d="M376.4 87.9h0M376.4 93.2h0M376.4 95.9h0M370.4 105.3h0" stroke="#66A61E" stroke-width="2.0" stroke-linecap="round" fill="none"/>
<path d="M368.6 146.7v1.2M369.5 148.9v1.2M369.7 146.7v1.2M370.5 147.8v1.2M370.6 144.5v1.2M370.7 143.4v1.2M373 145.6v1.2M373.8 147.8v1.2M376 144.5v1.2" stroke="#fff" stroke-opacity="0.8" stroke-width="0.9" fill="none"/>
<path d="M367.1 141.8h1.45M367 140.8h1.45M367 139.5h1.45M367.1 138.5h1.45M367 137.5h1.45M367 136.3h1.45M367.1 133.9h1.45M367 133h1.45M367.1 131.8h1.45M367.1 130.7h1.45M367 129.5h1.45M367 128.4h1.45M367.1 127.5h1.45M367.2 126.3h1.45M367.1 125.2h1.45M367.1 124h1.45M367 123h1.45M367 120.7h1.45M367.1 119.9h1.45M367.1 118.7h1.45M368.2 141.9h1.45M368.1 140.7h1.45M368.1 137.5h1.45M368.1 136.4h1.45M368.2 135h1.45M368.2 134.2h1.45M368.1 132.8h1.45M368.2 131.8h1.45M368.1 130.9h1.45M368.3 129.8h1.45M368.3 128.4h1.45M368.3 127.5h1.45M368.2 126.3h1.45M368.2 125h1.45M368.1 124.2h1.45M368.1 123h1.45M368 121.9h1.45M368.2 120.7h1.45M369.3 141.6h1.45M369.3 138.2h1.45M369.3 137.5h1.45M369.4 136.2h1.45M369.4 134.1h1.45M369.3 133h1.45M369.4 131.8h1.45M369.2 130.8h1.45M369.4 118.8h1.45M370.5 141.7h1.45M370.5 140.7h1.45M370.6 139.4h1.45M370.4 137.2h1.45M370.6 136.3h1.45M370.6 133.9h1.45M370.5 131.7h1.45M370.6 130.8h1.45M370.6 128.5h1.45M370.6 127.5h1.45M370.4 126.2h1.45M370.5 125.1h1.45M370.6 123.1h1.45M370.6 122h1.45M370.5 121h1.45M370.5 119.7h1.45M370.4 118.4h1.45M370.5 117.7h1.45M370.4 116.5h1.45M371.7 141.8h1.45M371.6 140.4h1.45M371.6 139.5h1.45M371.5 138.3h1.45M371.7 134.1h1.45M371.7 133h1.45M371.7 130.9h1.45M371.8 129.6h1.45M371.6 128.5h1.45M371.7 127.3h1.45M371.8 126.4h1.45M371.7 125.3h1.45M371.7 124h1.45M371.7 122.9h1.45M371.6 122h1.45M371.7 121h1.45M371.5 115.2h1.45M371.8 114.2h1.45M371.6 107.8h1.45M372.8 141.7h1.45M372.9 139.7h1.45M373 137.5h1.45M372.9 136.3h1.45M372.7 135h1.45M372.8 134h1.45M372.8 131.9h1.45M372.9 129.5h1.45M372.9 128.7h1.45M372.9 126.3h1.45M372.9 125.4h1.45M372.9 124.1h1.45M373 123.1h1.45M372.8 121.8h1.45M372.9 118.7h1.45M373 117.4h1.45M372.8 116.4h1.45M372.7 115.5h1.45M372.7 113.2h1.45M372.8 111.9h1.45M374 141.8h1.45M374 140.8h1.45M373.9 139.5h1.45M374.1 138.6h1.45M374 136.4h1.45M374 135.2h1.45M373.9 133.9h1.45M374 132.8h1.45M374.1 129.8h1.45M374.1 128.5h1.45M374 126.3h1.45M374 125.1h1.45M374 124.3h1.45M373.9 122h1.45M374.1 120.9h1.45M374.1 118.5h1.45M374.1 117.7h1.45M373.9 116.3h1.45M373.9 115.2h1.45M373.9 108.6h1.45M375.1 141.6h1.45M375.2 139.6h1.45M375.1 135.3h1.45M375.2 134.1h1.45M375.2 131.8h1.45M375.1 130.9h1.45M375.1 129.8h1.45M375.2 128.4h1.45M375.2 127.3h1.45M375.2 126.4h1.45M375.3 125.1h1.45M375.2 124.2h1.45M375.3 123.2h1.45M375.2 121.8h1.45M375 118.8h1.45M375.3 117.6h1.45M375.3 116.6h1.45M376.3 140.7h1.45M376.3 136.2h1.45M376.3 133.9h1.45M376.3 131.7h1.45M376.3 130.7h1.45M376.3 128.4h1.45M376.3 127.4h1.45M376.3 126.5h1.45M376.2 125.4h1.45M376.2 124h1.45M376.3 123.2h1.45M376.3 121h1.45M376.3 117.4h1.45M376.3 112.2h1.45" stroke="#66A61E" stroke-width="1.45" fill="none"/>
<rect x="378.78" y="138.21" width="11.55" height="69.19" fill="#E6AB02"/>
<path d="M388 68.9h0M388 72.8h0M384.8 105.1h0" stroke="#E6AB02" stroke-width="2.0" stroke-linecap="round" fill="none"/>
<path d="M379.3 146.6v1.2M379.3 144.4v1.2M379 143.3v1.2M383.5 142.2v1.2M383.4 140v1.2M384.6 146.6v1.2M385.8 141.1v1.2" stroke="#fff" stroke-opacity="0.8" stroke-width="0.9" fill="none"/>
<path d="M378.8 138.2h1.45M378.8 136.1h1.45M378.8 135.1h1.45M378.8 134.1h1.45M378.9 132.8h1.45M378.8 130.4h1.45M378.8 128.4h1.45M378.9 127.4h1.45M378.9 126.3h1.45M378.8 125.2h1.45M378.8 124.2h1.45M378.8 120.6h1.45M378.8 119.5h1.45M378.8 118.5h1.45M378.8 117.6h1.45M378.8 115.3h1.45M378.9 113.1h1.45M378.8 111.9h1.45M378.9 109.7h1.45M378.9 108.5h1.45M379.8 138.5h1.45M380 137.4h1.45M379.9 133.8h1.45M379.8 132.9h1.45M379.9 131.9h1.45M380 130.5h1.45M379.8 125.1h1.45M379.8 124h1.45M379.8 122.9h1.45M379.9 121.7h1.45M379.8 120.6h1.45M379.9 119.5h1.45M379.9 117.2h1.45M380 116.2h1.45M379.9 115.3h1.45M380 114h1.45M380 113h1.45M380.1 110.7h1.45M380.9 138.3h1.45M380.9 137.2h1.45M381.2 136.3h1.45M381.1 133.9h1.45M381.2 132.9h1.45M381.1 130.7h1.45M381.1 129.5h1.45M380.9 128.4h1.45M381.1 126.1h1.45M381.2 114h1.45M381.1 112.1h1.45M382.3 138.4h1.45M382.2 137.4h1.45M382.1 136.3h1.45M382 134.9h1.45M382.1 132.8h1.45M382.2 131.8h1.45M382.2 130.8h1.45M382.1 128.6h1.45M382.2 127.3h1.45M382.1 126.4h1.45M382.3 125.2h1.45M382.2 122.9h1.45M382.3 122h1.45M382.2 119.6h1.45M382 118.4h1.45M382.3 117.3h1.45M382.1 116.3h1.45M382.1 115.1h1.45M382.3 114.2h1.45M383.2 138.4h1.45M383.2 137.1h1.45M383.4 136.2h1.45M383.2 134.1h1.45M383.2 132.7h1.45M383.2 130.7h1.45M383.4 127.2h1.45M383.3 126.2h1.45M383.2 124.9h1.45M383.3 124.1h1.45M383.2 123h1.45M383.4 121.7h1.45M383.3 120.6h1.45M383.4 118.4h1.45M383.2 116.1h1.45M383.1 114.1h1.45M383.4 108.7h1.45M383.4 106.6h1.45M384.3 138.4h1.45M384.3 137.2h1.45M384.4 136.1h1.45M384.4 135h1.45M384.4 133.7h1.45M384.4 132.8h1.45M384.4 131.7h1.45M384.4 123h1.45M384.4 120.9h1.45M385.6 138.4h1.45M385.4 137.2h1.45M385.7 136.1h1.45M385.7 132.7h1.45M385.5 130.5h1.45M385.6 126.1h1.45M385.4 123.9h1.45M385.4 122.8h1.45M385.6 121.9h1.45M385.4 119.6h1.45M386.6 134.9h1.45M386.7 134h1.45M386.7 131.6h1.45M386.6 130.8h1.45M386.6 129.4h1.45M386.8 127.2h1.45M386.6 126.3h1.45M386.6 125.2h1.45M386.7 124.2h1.45M386.5 122.8h1.45M386.7 121.8h1.45M386.5 120.5h1.45M386.5 119.4h1.45M386.6 118.6h1.45M386.6 114.1h1.45M387.8 138.4h1.45M387.8 135.9h1.45M387.8 134.9h1.45M387.7 134.1h1.45M387.7 132.9h1.45M387.8 129.6h1.45M387.7 126.4h1.45M387.8 125h1.45M387.9 121.7h1.45M387.7 119.6h1.45M387.8 118.5h1.45M387.7 117.3h1.45M387.8 116.2h1.45M388.9 138.3h1.45M388.8 137.2h1.45M388.8 136.2h1.45M388.9 134.9h1.45M388.9 133.7h1.45M388.9 131.8h1.45M388.8 130.6h1.45M388.8 129.6h1.45M388.9 128.3h1.45M388.8 127.3h1.45M388.9 126.1h1.45M388.8 125.3h1.45M388.9 122.9h1.45M388.9 121.7h1.45M388.9 119.6h1.45M388.9 118.5h1.45M388.9 117.3h1.45M388.9 116.2h1.45M388.9 115.2h1.45M388.8 114.1h1.45M388.9 111.7h1.45M388.9 110.8h1.45M388.9 109.6h1.45M388.9 108.5h1.45M387.2 105.1h1.45M387.3 104.1h1.45M387.1 102.1h1.45M386.4 100.1h1.45M386.7 99.1h1.45M386.5 98.1h1.45M387 97.1h1.45M386.4 95.1h1.45" stroke="#E6AB02" stroke-width="1.45" fill="none"/>
<rect x="391.34" y="138.21" width="9.54" height="69.19" fill="#A6761D"/>
<path d="M392.7 100.9h0M392.7 106.2h0M393.9 107.3h0" stroke="#A6761D" stroke-width="2.0" stroke-linecap="round" fill="none"/>
<path d="M391.6 143.3v1.2M391.7 138.9v1.2M392.7 142.2v1.2M395.1 141.1v1.2M394.8 138.9v1.2M396.2 142.2v1.2M397 145.5v1.2M398.2 153.2v1.2M398.4 138.9v1.2" stroke="#fff" stroke-opacity="0.8" stroke-width="0.9" fill="none"/>
<path d="M391.5 138.5h1.45M391.3 137.1h1.45M391.3 136.1h1.45M391.3 135h1.45M391.3 133.7h1.45M391.3 132.7h1.45M391.5 130.6h1.45M391.3 129.5h1.45M391.5 127.2h1.45M391.4 124.2h1.45M391.3 123.1h1.45M391.3 121.7h1.45M391.4 120.6h1.45M391.4 119.6h1.45M391.3 117.3h1.45M391.5 116.3h1.45M391.4 115.3h1.45M391.3 114.2h1.45M392.4 138.4h1.45M392.5 137.2h1.45M392.4 135.1h1.45M392.5 133.8h1.45M392.5 132.9h1.45M392.4 131.7h1.45M392.6 130.6h1.45M392.6 129.7h1.45M392.5 128.4h1.45M392.4 127.3h1.45M392.5 118.7h1.45M393.7 138.2h1.45M393.7 137.2h1.45M393.5 136.1h1.45M393.6 135h1.45M393.6 133.8h1.45M393.8 132.6h1.45M393.5 131.6h1.45M393.6 130.5h1.45M393.7 129.6h1.45M393.6 127.5h1.45M393.8 126.3h1.45M393.6 125.3h1.45M393.6 123.9h1.45M393.7 123h1.45M393.8 120.6h1.45M393.6 119.7h1.45M393.5 118.4h1.45M393.6 116.4h1.45M393.6 115.3h1.45M393.7 114.3h1.45M393.7 112.9h1.45M394.8 136.2h1.45M394.8 135h1.45M394.7 133.8h1.45M394.8 133h1.45M394.9 131.8h1.45M394.8 129.7h1.45M394.7 128.5h1.45M394.8 127.4h1.45M394.8 126.2h1.45M394.9 124.1h1.45M394.7 123.1h1.45M394.8 121.8h1.45M394.7 120.6h1.45M394.8 119.5h1.45M394.8 117.3h1.45M394.9 113.9h1.45M394.8 113h1.45M394.9 111.9h1.45M394.9 110.8h1.45M395.9 138.1h1.45M396.1 134.9h1.45M396.1 131.9h1.45M396.1 130.5h1.45M396.1 129.5h1.45M395.9 127.3h1.45M396 126h1.45M396.1 125h1.45M396 121.8h1.45M396 120.9h1.45M396 117.5h1.45M397.2 138.4h1.45M397.1 137.2h1.45M397.3 136h1.45M397 135.2h1.45M397.2 134h1.45M397.2 132.8h1.45M397 131.6h1.45M397.2 130.6h1.45M397 129.6h1.45M397.1 127.4h1.45M397.1 126.2h1.45M397.2 125.3h1.45M397 122.8h1.45M397.2 120.6h1.45M397.2 119.6h1.45M397.1 117.6h1.45M397.1 115.1h1.45M398.2 138.5h1.45M398.2 136.2h1.45M398.3 135h1.45M398.4 131.8h1.45M398.3 130.5h1.45M398.3 128.6h1.45M398.3 127.3h1.45M398.3 126.2h1.45M398.2 125.3h1.45M398.4 108.8h1.45M399.4 138.5h1.45M399.3 137.4h1.45M399.4 136.2h1.45M399.4 135.2h1.45M399.4 134h1.45M399.3 132.7h1.45M399.4 131.5h1.45M399.3 130.5h1.45M399.4 128.3h1.45M399.4 127.2h1.45M399.4 126.1h1.45M399.3 125.1h1.45M399.4 124.2h1.45M399.3 121.7h1.45M399.3 116.2h1.45M399.4 108.5h1.45" stroke="#A6761D" stroke-width="1.45" fill="none"/>
<rect x="401.89" y="133.64" width="9.54" height="73.76" fill="#666666"/>
<path d="M403.3 118.6h0" stroke="#666666" stroke-width="2.0" stroke-linecap="round" fill="none"/>
<path d="M402.3 147.5v1.2M403.5 137.6v1.2M403.3 136.5v1.2M403.5 135.4v1.2M404.6 146.4v1.2M404.3 136.5v1.2M407.8 144.2v1.2M407.8 142v1.2M409.8 135.4v1.2" stroke="#fff" stroke-opacity="0.8" stroke-width="0.9" fill="none"/>
<line x1="409.12" x2="409.12" y1="119.92" y2="81.06" stroke="#505050" stroke-width="1.5"/>
<path d="M401.9 133.7h1.45M401.9 132.8h1.45M401.9 131.7h1.45M401.9 128.1h1.45M402 127.1h1.45M401.9 125.9h1.45M401.9 125h1.45M402 122.7h1.45M401.9 120.7h1.45M402 119.3h1.45M402 116h1.45M401.9 111.9h1.45M403.2 132.8h1.45M403 131.6h1.45M403 130.5h1.45M403.2 128.4h1.45M402.9 127.3h1.45M403 126.1h1.45M403.1 124.8h1.45M403.2 123.7h1.45M403.1 121.5h1.45M403.1 120.7h1.45M403.1 119.3h1.45M404.3 133.7h1.45M404.3 132.5h1.45M404.2 131.7h1.45M404.2 130.4h1.45M404.3 129.2h1.45M404.1 128.4h1.45M404.3 127.1h1.45M404.1 125.9h1.45M404.1 123.8h1.45M405.3 133.6h1.45M405.5 131.3h1.45M405.5 130.5h1.45M405.3 129.5h1.45M405.5 127.2h1.45M405.3 126h1.45M405.2 124.9h1.45M405.4 122.8h1.45M405.3 119.2h1.45M405.4 118.2h1.45M405.3 117.4h1.45M406.6 132.7h1.45M406.6 131.6h1.45M406.6 130.6h1.45M406.5 129.3h1.45M406.5 128.1h1.45M406.6 127h1.45M406.6 126h1.45M406.5 124.8h1.45M406.4 123.8h1.45M406.6 122.8h1.45M406.5 121.7h1.45M406.4 120.6h1.45M406.6 119.3h1.45M406.4 117.4h1.45M406.5 115.1h1.45M407.6 133.6h1.45M407.7 132.7h1.45M407.7 131.4h1.45M407.7 130.6h1.45M407.8 129.5h1.45M407.7 128.2h1.45M407.6 127.2h1.45M407.7 125.9h1.45M407.7 124.9h1.45M407.7 123.9h1.45M407.7 122.6h1.45M407.6 120.4h1.45M407.6 117.3h1.45M408.8 133.8h1.45M408.9 132.7h1.45M408.7 130.4h1.45M408.7 128.3h1.45M408.9 126.9h1.45M408.7 125.9h1.45M409 125.1h1.45M409 123.8h1.45M408.8 122.6h1.45M408.7 120.5h1.45M408.7 117.2h1.45M408.9 116.1h1.45M408.9 113.9h1.45M408.7 111.5h1.45M410 133.9h1.45M410 132.8h1.45M409.9 129.2h1.45M410 128.1h1.45M409.8 123.7h1.45M409.9 122.8h1.45M410 121.5h1.45M409.9 119.5h1.45M410 118.3h1.45M410 117.4h1.45M410 116.2h1.45M408.2 119.9h1.45M408.4 115.9h1.45M407.8 114.9h1.45M408.1 113.9h1.45M407.5 112.9h1.45M407.6 106.9h1.45" stroke="#666666" stroke-width="1.45" fill="none"/>
<rect x="412.44" y="135.93" width="7.03" height="71.47" fill="#1B9E77"/>
<path d="M416.1 105.3h0" stroke="#1B9E77" stroke-width="2.0" stroke-linecap="round" fill="none"/>
<path d="M417.2 141v1.2M418.1 149.8v1.2" stroke="#fff" stroke-opacity="0.8" stroke-width="0.9" fill="none"/>
<path d="M412.4 135.9h1.45M412.6 134.8h1.45M412.6 133.9h1.45M412.4 132.7h1.45M412.4 131.8h1.45M412.4 130.4h1.45M412.4 129.3h1.45M412.4 128.2h1.45M412.5 127.3h1.45M412.4 126.3h1.45M412.4 124.9h1.45M412.5 123.9h1.45M412.5 121.7h1.45M412.5 120.6h1.45M412.4 119.6h1.45M412.4 118.4h1.45M412.4 117.3h1.45M412.5 116.3h1.45M413.6 136h1.45M413.5 134.8h1.45M413.5 132.8h1.45M413.5 131.5h1.45M413.6 130.4h1.45M413.6 129.2h1.45M413.5 127.4h1.45M413.6 126.1h1.45M413.6 123.9h1.45M413.4 122.7h1.45M413.5 121.9h1.45M413.4 120.7h1.45M413.5 119.4h1.45M413.6 117.2h1.45M413.5 116.2h1.45M414.6 136.2h1.45M414.8 134.9h1.45M414.7 133.6h1.45M414.7 132.7h1.45M414.6 131.4h1.45M414.7 129.6h1.45M414.7 128.3h1.45M414.7 125.1h1.45M414.7 120.5h1.45M414.7 118.6h1.45M414.7 116.3h1.45M414.8 114.1h1.45M415.8 135.9h1.45M415.9 134.8h1.45M415.7 133.8h1.45M415.9 131.7h1.45M415.6 130.6h1.45M415.7 129.5h1.45M415.7 128.5h1.45M415.9 127.3h1.45M415.9 126.2h1.45M415.9 125h1.45M415.9 123.9h1.45M415.9 122.9h1.45M415.9 121.9h1.45M415.6 120.6h1.45M415.9 119.6h1.45M415.7 117.2h1.45M415.7 115.1h1.45M417 136h1.45M416.8 134.8h1.45M417 133.9h1.45M417 131.5h1.45M416.8 129.6h1.45M416.9 128.4h1.45M416.8 127.2h1.45M416.8 126h1.45M416.9 125.1h1.45M416.9 123.7h1.45M416.9 122.9h1.45M416.9 120.6h1.45M416.9 119.7h1.45M417 117.2h1.45M416.8 116.1h1.45M417 114.1h1.45M417 113h1.45M418 136.1h1.45M418 135h1.45M418 133.9h1.45M418 131.6h1.45M417.9 130.6h1.45M418 129.3h1.45M417.9 128.4h1.45M418 127.1h1.45M418 114.2h1.45" stroke="#1B9E77" stroke-width="1.45" fill="none"/>
<rect x="420.47" y="135.93" width="8.54" height="71.47" fill="#D95F02"/>
<path d="M428.7 83.3h0M428.7 87.7h0M428.7 92.3h0M428.7 95.5h0M423 90.2h0M421.8 98.4h0M421.8 100.5h0M428 106.9h0M427.5 108.5h0" stroke="#D95F02" stroke-width="2.0" stroke-linecap="round" fill="none"/>
<path d="M420.9 137.7v1.2M422.9 141v1.2M425.2 144.3v1.2M426.3 137.7v1.2M427.4 147.6v1.2" stroke="#fff" stroke-opacity="0.8" stroke-width="0.9" fill="none"/>
<path d="M420.6 135.8h1.45M420.5 135h1.45M420.5 133.7h1.45M420.5 132.8h1.45M420.6 131.6h1.45M420.5 129.3h1.45M420.5 128.3h1.45M420.5 127.1h1.45M420.5 126h1.45M420.5 125.1h1.45M420.5 122.7h1.45M420.5 121.6h1.45M420.5 120.5h1.45M420.5 116.1h1.45M421.6 136h1.45M421.8 133.8h1.45M421.8 132.7h1.45M421.7 129.2h1.45M421.8 127h1.45M421.8 126.3h1.45M421.7 125h1.45M421.8 123.9h1.45M421.6 121.6h1.45M421.6 120.5h1.45M421.7 118.6h1.45M421.5 116.3h1.45M421.6 113h1.45M422.9 136.2h1.45M422.9 134.8h1.45M422.8 131.7h1.45M422.9 130.5h1.45M422.9 129.5h1.45M422.7 128.5h1.45M422.8 126.1h1.45M422.8 125.1h1.45M422.8 123.9h1.45M422.8 122.7h1.45M422.8 119.7h1.45M422.9 117.2h1.45M422.9 116.4h1.45M422.8 115h1.45M423.9 136.2h1.45M424 134h1.45M424.1 131.5h1.45M424.1 130.5h1.45M424.2 129.3h1.45M423.9 128.3h1.45M424 126.2h1.45M424.1 125.2h1.45M424 124h1.45M423.9 122.9h1.45M424 121.8h1.45M424.1 110.8h1.45M425.1 135.9h1.45M425.2 134.9h1.45M425.2 133.9h1.45M425.3 132.9h1.45M425.3 130.7h1.45M425.3 129.4h1.45M425.3 128.4h1.45M425.2 127.3h1.45M425.1 126.2h1.45M425.1 125h1.45M425.2 123.8h1.45M425.1 122.9h1.45M425.1 120.7h1.45M425.2 118.3h1.45M425.2 117.5h1.45M425.2 115.3h1.45M425.2 114.2h1.45M426.3 135.9h1.45M426.5 133.8h1.45M426.4 130.5h1.45M426.4 128.3h1.45M426.5 127.1h1.45M426.4 126.2h1.45M426.2 123.9h1.45M426.4 121.7h1.45M426.2 120.6h1.45M426.4 118.4h1.45M426.4 115h1.45M427.6 136h1.45M427.4 133.7h1.45M427.6 132.7h1.45M427.5 131.5h1.45M427.6 128.2h1.45M427.6 125.9h1.45M427.6 125.2h1.45M427.6 123.9h1.45M427.6 123h1.45M427.5 121.8h1.45M427.6 120.7h1.45M427.6 119.6h1.45M427.6 116.1h1.45" stroke="#D95F02" stroke-width="1.45" fill="none"/>
<rect x="430.02" y="135.93" width="8.54" height="71.47" fill="#7570B3"/>
<path d="M433.3 106h0M435 110.8h0" stroke="#7570B3" stroke-width="2.0" stroke-linecap="round" fill="none"/>
<path d="M430.4 142.1v1.2M431.3 152v1.2M431.6 139.9v1.2M431.3 137.7v1.2M431.4 136.6v1.2M433.8 141v1.2M433.7 137.7v1.2M434.7 147.6v1.2M434.6 144.3v1.2M435.9 145.4v1.2M437 139.9v1.2M436.9 136.6v1.2" stroke="#fff" stroke-opacity="0.8" stroke-width="0.9" fill="none"/>
<path d="M430.1 134.8h1.45M430.1 133.9h1.45M430 132.5h1.45M430.1 130.5h1.45M430 129.4h1.45M430 128.3h1.45M430 127.2h1.45M431.2 136.2h1.45M431.1 134.9h1.45M431.3 132.8h1.45M431.3 131.7h1.45M431.2 129.2h1.45M431.2 127.4h1.45M431.2 125.9h1.45M431.3 122.9h1.45M431.1 120.4h1.45M431.2 119.5h1.45M431.2 118.5h1.45M432.4 136.1h1.45M432.5 135.1h1.45M432.4 132.6h1.45M432.3 127.2h1.45M432.5 126.3h1.45M432.5 125h1.45M432.5 123.7h1.45M432.3 122.9h1.45M432.4 121.8h1.45M432.3 118.4h1.45M432.2 114.9h1.45M433.5 136.1h1.45M433.6 134.9h1.45M433.7 133.8h1.45M433.5 132.5h1.45M433.7 131.6h1.45M433.5 129.3h1.45M433.6 128.4h1.45M433.5 125.1h1.45M433.6 123.8h1.45M433.6 121.9h1.45M433.6 119.7h1.45M433.4 118.4h1.45M433.6 115.2h1.45M433.7 113.9h1.45M434.7 135.9h1.45M434.7 133.6h1.45M434.8 132.5h1.45M434.8 130.5h1.45M434.8 128.3h1.45M434.7 127.3h1.45M434.6 122.7h1.45M436.1 134.9h1.45M436 133.8h1.45M435.8 131.7h1.45M436 130.6h1.45M435.8 125.9h1.45M436 123.8h1.45M435.8 122.7h1.45M435.8 121.6h1.45M436.1 119.6h1.45M436 118.5h1.45M437.1 135.9h1.45M437.1 134.8h1.45M437.1 133.7h1.45M437.1 132.6h1.45M437 131.5h1.45M437 130.5h1.45M437.1 129.6h1.45M437.1 128.1h1.45M437 127.1h1.45M437.1 126h1.45M437.1 124.9h1.45M437.1 122.7h1.45M437.1 121.9h1.45M437 120.7h1.45M437 119.5h1.45M437.1 118.5h1.45" stroke="#7570B3" stroke-width="1.45" fill="none"/>
<rect x="439.56" y="135.93" width="8.54" height="71.47" fill="#E7298A"/>
<path d="M443.5 64.4h0M443.5 70.8h0M443.5 75.3h0M440.9 90.2h0M443.5 94.3h0M447.3 92.7h0M447.3 100.5h0M447.6 106.2h0" stroke="#E7298A" stroke-width="2.0" stroke-linecap="round" fill="none"/>
<path d="M439.9 143.2v1.2M440 138.8v1.2M441.9 148.7v1.2M443.3 147.6v1.2M443.1 138.8v1.2M446.6 143.2v1.2" stroke="#fff" stroke-opacity="0.8" stroke-width="0.9" fill="none"/>
<line x1="440.27" x2="440.27" y1="121.75" y2="95.46" stroke="#E7298A" stroke-width="1.3"/>
<path d="M439.6 136.1h1.45M439.7 135h1.45M439.6 133.9h1.45M439.6 132.5h1.45M439.7 131.6h1.45M439.6 130.7h1.45M439.6 129.5h1.45M439.6 128.2h1.45M440.8 135.9h1.45M440.8 133.9h1.45M440.8 132.8h1.45M440.7 130.4h1.45M440.7 129.4h1.45M440.7 113.9h1.45M441.9 136h1.45M441.9 135h1.45M442 133.7h1.45M441.8 131.8h1.45M442 130.4h1.45M441.8 127.3h1.45M441.8 126h1.45M441.8 123.9h1.45M441.8 120.6h1.45M443.1 136.1h1.45M443.1 134.8h1.45M443 132.6h1.45M443.1 131.7h1.45M443 130.4h1.45M443.1 129.6h1.45M443.2 128.5h1.45M443 127.1h1.45M443.2 126h1.45M443.2 125.1h1.45M443.1 123.8h1.45M443.2 122.9h1.45M443 121.7h1.45M444.2 136.1h1.45M444.2 135h1.45M444.3 133.8h1.45M444.2 131.7h1.45M444.3 130.5h1.45M444.3 129.4h1.45M444.2 128.4h1.45M444.2 127.1h1.45M444.2 126.3h1.45M444.3 125h1.45M444.4 124h1.45M444.2 122.8h1.45M444.2 121.8h1.45M445.5 136h1.45M445.5 133.7h1.45M445.4 132.9h1.45M445.5 129.5h1.45M445.6 128.5h1.45M445.4 127.4h1.45M445.6 126.1h1.45M445.6 125.1h1.45M445.6 122.9h1.45M445.4 118.3h1.45M446.6 136h1.45M446.5 133.7h1.45M446.6 132.5h1.45M446.5 129.3h1.45M446.7 128.1h1.45M446.6 127.4h1.45M446.7 126.2h1.45M446.5 125h1.45M446.5 123.9h1.45M440.6 119.9h1.45M440.6 118.9h1.45M440.7 117.9h1.45M440.8 116.9h1.45M440.7 115.9h1.45M440.2 114.9h1.45M440.4 113.9h1.45M440.2 111.9h1.45M440.1 110.9h1.45M440.2 109.9h1.45M440.8 107.9h1.45M440.9 106.9h1.45M440.8 104.9h1.45M440.7 103.9h1.45M441 102.9h1.45M440.6 101.9h1.45" stroke="#E7298A" stroke-width="1.45" fill="none"/>
<rect x="448.60" y="135.93" width="7.03" height="71.47" fill="#66A61E"/>
<path d="M450.2 92.5h0M450.2 108h0M453.6 110.1h0" stroke="#66A61E" stroke-width="2.0" stroke-linecap="round" fill="none"/>
<path d="M448.9 136.6v1.2M450.1 138.8v1.2M449.8 136.6v1.2M451 142.1v1.2M452.3 136.6v1.2M453.3 147.6v1.2M454.3 141v1.2M454.5 136.6v1.2" stroke="#fff" stroke-opacity="0.8" stroke-width="0.9" fill="none"/>
<path d="M448.6 136h1.45M448.7 135.1h1.45M448.6 132.7h1.45M448.6 131.4h1.45M448.6 130.6h1.45M448.6 128.5h1.45M448.6 127.3h1.45M448.7 126.1h1.45M448.6 123h1.45M449.6 136.1h1.45M449.8 134.8h1.45M449.7 134h1.45M449.8 132.8h1.45M449.8 130.6h1.45M449.8 129.4h1.45M449.8 127.3h1.45M449.6 126.1h1.45M450.8 135.9h1.45M451 135.1h1.45M450.7 133.9h1.45M450.9 132.5h1.45M450.7 131.8h1.45M450.7 130.6h1.45M451 129.3h1.45M451 128.5h1.45M450.8 123.9h1.45M450.7 119.5h1.45M450.9 118.6h1.45M452 133.7h1.45M451.9 131.8h1.45M451.9 130.7h1.45M451.9 129.4h1.45M452 128.5h1.45M451.9 127.4h1.45M451.9 126.3h1.45M451.9 124h1.45M451.9 123h1.45M452.1 121.8h1.45M451.9 119.4h1.45M453 136.2h1.45M453 134.8h1.45M453.1 133.7h1.45M453 132.6h1.45M453 131.7h1.45M453.2 129.4h1.45M453 128.5h1.45M453 126.3h1.45M453.2 123.9h1.45M452.9 123h1.45M453.2 121.9h1.45M453.1 116.1h1.45M454.2 136.1h1.45M454.2 133.9h1.45M454.1 131.6h1.45M454.2 130.6h1.45M454.2 129.6h1.45M454.2 128.2h1.45M454.1 125.9h1.45M454.1 124.9h1.45M454.1 121.5h1.45M454.2 120.6h1.45M452.4 122.2h1.45M451.7 120.2h1.45M451.7 118.2h1.45" stroke="#66A61E" stroke-width="1.45" fill="none"/>
<rect x="456.64" y="135.93" width="5.53" height="71.47" fill="#E6AB02"/>
<path d="M459.8 95.9h0" stroke="#E6AB02" stroke-width="2.0" stroke-linecap="round" fill="none"/>
<path d="M457.1 141v1.2M460.4 136.6v1.2M461.2 137.7v1.2" stroke="#fff" stroke-opacity="0.8" stroke-width="0.9" fill="none"/>
<line x1="458.70" x2="458.70" y1="126.78" y2="103.92" stroke="#E6AB02" stroke-width="1.2"/>
<path d="M456.6 135h1.45M456.6 133.7h1.45M456.7 131.7h1.45M456.7 130.4h1.45M456.6 129.4h1.45M456.7 128.5h1.45M456.7 126.1h1.45M456.7 125h1.45M456.7 123.8h1.45M456.7 121.8h1.45M456.6 120.8h1.45M456.6 117.1h1.45M457.7 136.2h1.45M457.8 132.7h1.45M457.8 130.5h1.45M457.8 129.5h1.45M457.6 128.4h1.45M457.8 127.1h1.45M457.7 125.2h1.45M457.8 124h1.45M457.7 122.8h1.45M457.6 121.7h1.45M457.7 120.6h1.45M457.7 119.4h1.45M457.7 118.3h1.45M457.7 113.1h1.45M458.7 136.1h1.45M458.5 135.1h1.45M458.5 132.9h1.45M458.6 130.5h1.45M458.8 129.4h1.45M458.8 128.5h1.45M458.8 125.1h1.45M458.5 123.8h1.45M458.7 122.7h1.45M458.6 118.5h1.45M459.8 135.8h1.45M459.8 133.9h1.45M459.8 132.8h1.45M459.6 129.5h1.45M459.7 128.3h1.45M459.8 127.4h1.45M459.7 126.1h1.45M459.8 125.1h1.45M459.8 123h1.45M459.7 121.7h1.45M459.7 120.5h1.45M459.8 119.6h1.45M459.7 118.4h1.45M460.7 136h1.45M460.6 134.9h1.45M460.7 133.9h1.45M460.6 132.9h1.45M460.7 131.6h1.45M460.7 130.4h1.45M460.7 129.6h1.45M460.7 128.3h1.45M460.7 126.3h1.45M460.6 122.9h1.45M460.7 121.7h1.45M459.1 124.8h1.45M458.3 123.8h1.45M458.2 122.8h1.45M458.7 121.8h1.45M458.3 120.8h1.45M458.9 118.8h1.45M459.1 117.8h1.45M459.1 116.8h1.45M458.6 115.8h1.45M458.7 113.8h1.45M458.7 107.8h1.45M458.2 105.8h1.45" stroke="#E6AB02" stroke-width="1.45" fill="none"/>
<rect x="463.17" y="135.93" width="5.02" height="71.47" fill="#A6761D"/>
<path d="M468.1 94.8h0M468.1 96.8h0M466.7 106h0M466.7 110.1h0" stroke="#A6761D" stroke-width="2.0" stroke-linecap="round" fill="none"/>
<path d="M463.4 136.6v1.2M464.7 146.5v1.2M464.7 138.8v1.2M464.5 136.6v1.2M465.8 139.9v1.2M466.8 147.6v1.2" stroke="#fff" stroke-opacity="0.8" stroke-width="0.9" fill="none"/>
<line x1="465.48" x2="465.48" y1="126.78" y2="111.23" stroke="#A6761D" stroke-width="1.2"/>
<path d="M463.3 135.9h1.45M463.2 133.7h1.45M463.2 132.7h1.45M463.2 131.6h1.45M463.2 129.4h1.45M463.2 128.4h1.45M463.2 126.1h1.45M463.3 125.1h1.45M463.3 124h1.45M463.2 123h1.45M463.2 120.5h1.45M463.2 119.7h1.45M463.2 118.3h1.45M463.2 117.1h1.45M463.2 116.3h1.45M464.5 136.1h1.45M464.3 135h1.45M464.2 134h1.45M464.3 129.4h1.45M464.2 128.2h1.45M464.4 127.1h1.45M464.2 126.3h1.45M464.3 124.9h1.45M464.4 123.8h1.45M464.2 122.8h1.45M464.3 121.7h1.45M464.5 119.5h1.45M464.3 118.3h1.45M465.5 136.2h1.45M465.5 135h1.45M465.6 133.7h1.45M465.5 131.6h1.45M465.7 130.3h1.45M465.6 129.4h1.45M465.6 126h1.45M465.5 125h1.45M465.7 124.1h1.45M465.6 122.7h1.45M465.5 121.9h1.45M465.5 119.5h1.45M466.7 136h1.45M466.7 133.7h1.45M466.7 132.9h1.45M466.7 131.6h1.45M466.7 130.3h1.45M466.6 129.3h1.45M466.7 127.1h1.45M466.7 126.3h1.45M466.7 124.9h1.45M466.6 124h1.45M466.7 113.9h1.45M464.9 124.8h1.45M465.4 122.8h1.45M465.1 119.8h1.45M464.9 118.8h1.45M465.1 116.8h1.45M465.5 115.8h1.45M465.2 114.8h1.45M465.2 113.8h1.45" stroke="#A6761D" stroke-width="1.45" fill="none"/>
<rect x="469.20" y="135.93" width="4.52" height="71.47" fill="#666666"/>
<path d="M471.8 95.5h0M472.4 95.2h0M471 100h0M472.7 112.1h0" stroke="#666666" stroke-width="2.0" stroke-linecap="round" fill="none"/>
<path d="M470.8 139.9v1.2M472.8 141v1.2M473 138.8v1.2" stroke="#fff" stroke-opacity="0.8" stroke-width="0.9" fill="none"/>
<path d="M469.2 136.1h1.45M469.2 132.7h1.45M469.2 130.4h1.45M469.2 129.5h1.45M469.2 128.3h1.45M469.2 127.2h1.45M469.2 126.3h1.45M469.2 124.9h1.45M469.3 122.7h1.45M469.3 121.8h1.45M469.2 120.6h1.45M469.3 119.6h1.45M469.2 117.2h1.45M470.3 134.8h1.45M470.2 133.9h1.45M470.3 130.4h1.45M470.2 129.4h1.45M470.2 128.5h1.45M470.1 126.1h1.45M470.3 123h1.45M470.2 121.6h1.45M470.2 120.7h1.45M470.2 119.3h1.45M471.2 136.2h1.45M471.3 133.7h1.45M471.2 131.5h1.45M471.2 130.4h1.45M471.3 129.5h1.45M471.3 128.5h1.45M471.4 127.4h1.45M471.3 126.2h1.45M471.1 125.2h1.45M471.2 123.8h1.45M471.1 123h1.45M471.3 121.7h1.45M471.3 120.6h1.45M471.1 119.5h1.45M471.1 118.6h1.45M472.3 135.9h1.45M472.3 134.9h1.45M472.2 133.7h1.45M472.3 132.6h1.45M472.3 128.1h1.45M472.2 125.9h1.45M472.2 124.1h1.45" stroke="#666666" stroke-width="1.45" fill="none"/>
<rect x="474.52" y="135.93" width="4.22" height="71.47" fill="#1B9E77"/>
<path d="M476.3 115.4h0" stroke="#1B9E77" stroke-width="2.0" stroke-linecap="round" fill="none"/>
<path d="M474.7 139.9v1.2M475.9 141v1.2" stroke="#fff" stroke-opacity="0.8" stroke-width="0.9" fill="none"/>
<path d="M474.6 136h1.45M474.5 133.8h1.45M474.6 132.7h1.45M474.6 131.5h1.45M474.5 130.7h1.45M474.6 129.3h1.45M474.7 128.3h1.45M474.6 127.3h1.45M474.5 126h1.45M474.5 125h1.45M474.5 123.9h1.45M474.6 122.7h1.45M475.3 136.2h1.45M475.4 135.1h1.45M475.4 134h1.45M475.5 132.5h1.45M475.6 131.7h1.45M475.6 130.4h1.45M475.5 129.5h1.45M475.5 121.7h1.45M476.3 136h1.45M476.4 134.9h1.45M476.4 133.7h1.45M476.5 131.7h1.45M476.3 130.7h1.45M476.3 129.6h1.45M476.3 128.3h1.45M476.4 127h1.45M476.4 126.1h1.45M476.3 125.1h1.45M476.4 123.8h1.45M476.5 122.9h1.45M476.4 119.6h1.45M477.1 136.1h1.45M477.3 134.9h1.45M477.3 133.7h1.45M477.3 132.7h1.45M477.2 131.8h1.45M477.2 130.4h1.45M477.3 129.3h1.45M477.3 128.2h1.45M477.2 119.5h1.45" stroke="#1B9E77" stroke-width="1.45" fill="none"/>
<rect x="479.75" y="135.93" width="4.82" height="71.47" fill="#D95F02"/>
<path d="M482.1 97.5h0M481.2 102.8h0M483.3 111.2h0M483.4 113.1h0" stroke="#D95F02" stroke-width="2.0" stroke-linecap="round" fill="none"/>
<path d="M481 137.7v1.2M483.3 143.2v1.2M483.3 137.7v1.2" stroke="#fff" stroke-opacity="0.8" stroke-width="0.9" fill="none"/>
<path d="M479.7 136.1h1.45M479.8 134.9h1.45M479.7 132.7h1.45M479.8 131.8h1.45M479.7 129.6h1.45M479.8 128.2h1.45M479.9 127.1h1.45M479.7 126h1.45M479.7 123.9h1.45M479.8 121.8h1.45M480.8 136.2h1.45M480.8 135.1h1.45M480.8 133.7h1.45M481 132.8h1.45M481 131.6h1.45M480.9 130.4h1.45M480.8 129.5h1.45M480.8 128.3h1.45M480.8 127.1h1.45M480.9 126.3h1.45M481 119.5h1.45M481.9 135.9h1.45M481.9 135.1h1.45M482 132.8h1.45M482 131.5h1.45M481.9 128.3h1.45M482 127.3h1.45M482 126.1h1.45M481.9 125.2h1.45M482 124h1.45M481.9 123h1.45M483.1 136.1h1.45M483.1 133.7h1.45M483 132.6h1.45M483.1 131.6h1.45M483.1 129.5h1.45M483.1 128.4h1.45M483.1 127.1h1.45M483.1 126.2h1.45" stroke="#D95F02" stroke-width="1.45" fill="none"/>
<rect x="485.47" y="135.93" width="3.01" height="71.47" fill="#7570B3"/>
<path d="M487.6 109.4h0M487.8 110.8h0" stroke="#7570B3" stroke-width="2.0" stroke-linecap="round" fill="none"/>
<path d="M485.6 150.9v1.2M486.7 138.8v1.2" stroke="#fff" stroke-opacity="0.8" stroke-width="0.9" fill="none"/>
<path d="M485.5 136h1.45M485.5 135.1h1.45M485.5 133.9h1.45M485.5 132.7h1.45M485.6 131.8h1.45M485.6 130.5h1.45M485.5 129.2h1.45M485.6 128.3h1.45M485.6 122.8h1.45M487 136.2h1.45M486.9 134.8h1.45M487 132.6h1.45M487 131.8h1.45M487 130.7h1.45M487 129.3h1.45M487 128.3h1.45M486.9 127.2h1.45M487 125.2h1.45M487 123.9h1.45M487 121.7h1.45M487 119.7h1.45M487 118.6h1.45M486.9 115.3h1.45" stroke="#7570B3" stroke-width="1.45" fill="none"/>
<rect x="489.39" y="135.93" width="3.52" height="71.47" fill="#E7298A"/>
<path d="M491.6 112.6h0M491.8 115.4h0" stroke="#E7298A" stroke-width="2.0" stroke-linecap="round" fill="none"/>
<path d="M489.8 143.2v1.2M489.7 139.9v1.2M489.6 136.6v1.2" stroke="#fff" stroke-opacity="0.8" stroke-width="0.9" fill="none"/>
<path d="M489.5 136.1h1.45M489.4 134.8h1.45M489.4 133.9h1.45M489.4 132.6h1.45M489.5 131.6h1.45M489.4 130.7h1.45M489.5 129.4h1.45M489.5 127.2h1.45M489.5 125.1h1.45M489.4 123.9h1.45M490.4 135.8h1.45M490.5 134.8h1.45M490.3 133.8h1.45M490.5 132.8h1.45M490.4 130.6h1.45M490.4 129.3h1.45M490.4 128.4h1.45M490.3 127.1h1.45M490.6 124.9h1.45M490.4 122.8h1.45M491.5 136h1.45M491.5 135h1.45M491.5 133.8h1.45M491.5 131.5h1.45M491.3 130.4h1.45M491.3 129.6h1.45M491.4 127.1h1.45M491.4 126.2h1.45M491.5 124h1.45M491.5 121.8h1.45M491.5 119.6h1.45" stroke="#E7298A" stroke-width="1.45" fill="none"/>
<rect x="494.01" y="135.93" width="2.91" height="71.47" fill="#66A61E"/>
<path d="M496.9 78.3h0M496.9 82.2h0" stroke="#66A61E" stroke-width="2.0" stroke-linecap="round" fill="none"/>
<path d="M494.2 147.6v1.2M494.5 143.2v1.2M494.2 141v1.2M494.3 138.8v1.2M495.5 145.4v1.2" stroke="#fff" stroke-opacity="0.8" stroke-width="0.9" fill="none"/>
<path d="M494.1 136.1h1.45M494 130.5h1.45M494.2 129.3h1.45M494 128.5h1.45M494.1 127.1h1.45M494 126.1h1.45M494.1 123.7h1.45M494.1 121.8h1.45M494 120.5h1.45M494 118.6h1.45M495.5 136.2h1.45M495.4 134.8h1.45M495.5 133.8h1.45M495.5 131.7h1.45M495.4 130.7h1.45M495.4 129.5h1.45M495.5 128.4h1.45M495.5 127.3h1.45M495.5 126h1.45M495.5 125.1h1.45M495.5 123.7h1.45M495.4 122.7h1.45M495.9 115.4h1.45M496.9 113.4h1.45M496.6 110.4h1.45M496.4 105.4h1.45M496 102.4h1.45M496.2 100.4h1.45M496.8 98.4h1.45M496.3 93.4h1.45M496.2 91.4h1.45M496.1 89.4h1.45M496.8 87.4h1.45M496.3 86.4h1.45" stroke="#66A61E" stroke-width="1.45" fill="none"/>
<rect x="497.73" y="135.93" width="2.61" height="71.47" fill="#E6AB02"/>
<path d="M500.5 95.2h0M500.5 97.3h0M500.5 101.6h0M500.5 103.9h0M500.8 108.5h0" stroke="#E6AB02" stroke-width="2.0" stroke-linecap="round" fill="none"/>
<path d="M497.8 136.2h1.45M497.8 131.6h1.45M497.8 130.6h1.45M497.7 128.2h1.45M497.8 127.1h1.45M497.7 126.3h1.45M497.9 125h1.45M498.9 136.2h1.45M498.8 134.8h1.45M498.9 133.9h1.45M498.9 132.6h1.45M498.8 129.6h1.45M498.9 127.3h1.45M498.8 126h1.45M498.8 124.9h1.45M498.8 122.9h1.45M498.8 121.6h1.45M498.9 120.5h1.45M498.9 119.5h1.45M498.9 118.6h1.45M498.9 117.5h1.45M498.8 116.2h1.45" stroke="#E6AB02" stroke-width="1.45" fill="none"/>
<rect x="501.75" y="135.93" width="4.42" height="71.47" fill="#A6761D"/>
<path d="M506.3 106.9h0M504.4 110.8h0" stroke="#A6761D" stroke-width="2.0" stroke-linecap="round" fill="none"/>
<path d="M502 137.7v1.2M504.4 137.7v1.2M505.4 136.6v1.2" stroke="#fff" stroke-opacity="0.8" stroke-width="0.9" fill="none"/>
<path d="M501.7 136.1h1.45M501.7 134.9h1.45M501.8 133.8h1.45M501.7 129.5h1.45M501.8 128.4h1.45M501.7 127.2h1.45M501.8 125.9h1.45M501.7 125.1h1.45M501.7 124.1h1.45M502.9 136.2h1.45M502.6 135h1.45M502.9 133.6h1.45M502.7 131.6h1.45M502.9 130.5h1.45M502.8 128.4h1.45M503.7 136.1h1.45M503.7 134.8h1.45M503.8 132.8h1.45M503.6 131.7h1.45M503.7 130.3h1.45M503.6 129.6h1.45M503.8 128.2h1.45M503.6 127.2h1.45M503.9 117.2h1.45M504.7 136h1.45M504.7 134.9h1.45M504.7 133.9h1.45M504.6 131.8h1.45M504.6 130.7h1.45M504.7 129.6h1.45M504.7 128.4h1.45M504.7 126.1h1.45M504.7 117.4h1.45M504.7 116.3h1.45" stroke="#A6761D" stroke-width="1.45" fill="none"/>
<line x1="306.2" x2="513.2" y1="39.9" y2="39.9" stroke="#a3a3a3" stroke-width="1.7"/>
<line x1="306.2" x2="513.2" y1="69.62" y2="69.62" stroke="#666" stroke-width="1.15" stroke-dasharray="2.3 1.75" stroke-dashoffset="0.35"/>
<rect x="306.20" y="17.00" width="207.00" height="197.35" fill="none" stroke="#1a1a1a" stroke-width="1.25" stroke-linejoin="round"/>
<line x1="303.00" x2="306.20" y1="206.80" y2="206.80" stroke="#222" stroke-width="1"/>
<text x="298.60" y="209.64" class="tk" font-size="6.6" text-anchor="middle" textLength="2.8" lengthAdjust="spacingAndGlyphs">0</text>
<line x1="303.00" x2="306.20" y1="161.08" y2="161.08" stroke="#222" stroke-width="1"/>
<text x="298.60" y="163.91" class="tk" font-size="6.6" text-anchor="middle" textLength="2.8" lengthAdjust="spacingAndGlyphs">2</text>
<line x1="303.00" x2="306.20" y1="115.35" y2="115.35" stroke="#222" stroke-width="1"/>
<text x="298.60" y="118.19" class="tk" font-size="6.6" text-anchor="middle" textLength="2.8" lengthAdjust="spacingAndGlyphs">4</text>
<line x1="303.00" x2="306.20" y1="69.62" y2="69.62" stroke="#222" stroke-width="1"/>
<text x="298.60" y="72.46" class="tk" font-size="6.6" text-anchor="middle" textLength="2.8" lengthAdjust="spacingAndGlyphs">6</text>
<line x1="303.00" x2="306.20" y1="23.90" y2="23.90" stroke="#222" stroke-width="1"/>
<text x="298.60" y="26.74" class="tk" font-size="6.6" text-anchor="middle" textLength="2.8" lengthAdjust="spacingAndGlyphs">8</text>
<line x1="319.61" x2="319.61" y1="214.35" y2="217.35" stroke="#222" stroke-width="1"/>
<text x="319.61" y="224.15" class="tk" font-size="4.1" text-anchor="middle">1</text>
<line x1="333.48" x2="333.48" y1="214.35" y2="217.35" stroke="#222" stroke-width="1"/>
<text x="333.48" y="224.15" class="tk" font-size="4.1" text-anchor="middle">2</text>
<line x1="347.14" x2="347.14" y1="214.35" y2="217.35" stroke="#222" stroke-width="1"/>
<text x="347.14" y="224.15" class="tk" font-size="4.1" text-anchor="middle">3</text>
<line x1="359.80" x2="359.80" y1="214.35" y2="217.35" stroke="#222" stroke-width="1"/>
<text x="359.80" y="224.15" class="tk" font-size="4.1" text-anchor="middle">4</text>
<line x1="372.25" x2="372.25" y1="214.35" y2="217.35" stroke="#222" stroke-width="1"/>
<text x="372.25" y="224.15" class="tk" font-size="4.1" text-anchor="middle">5</text>
<line x1="384.71" x2="384.71" y1="214.35" y2="217.35" stroke="#222" stroke-width="1"/>
<text x="384.71" y="224.15" class="tk" font-size="4.1" text-anchor="middle">6</text>
<line x1="396.36" x2="396.36" y1="214.35" y2="217.35" stroke="#222" stroke-width="1"/>
<text x="396.36" y="224.15" class="tk" font-size="4.1" text-anchor="middle">7</text>
<line x1="406.41" x2="406.41" y1="214.35" y2="217.35" stroke="#222" stroke-width="1"/>
<text x="406.41" y="224.15" class="tk" font-size="4.1" text-anchor="middle">8</text>
<line x1="415.75" x2="415.75" y1="214.35" y2="217.35" stroke="#222" stroke-width="1"/>
<text x="415.75" y="224.15" class="tk" font-size="4.1" text-anchor="middle">9</text>
<line x1="424.74" x2="424.74" y1="214.35" y2="217.35" stroke="#222" stroke-width="1"/>
<text x="424.74" y="224.15" class="tk" font-size="4.1" text-anchor="middle">10</text>
<line x1="434.04" x2="434.04" y1="214.35" y2="217.35" stroke="#222" stroke-width="1"/>
<text x="434.04" y="224.15" class="tk" font-size="4.1" text-anchor="middle">11</text>
<line x1="443.98" x2="443.98" y1="214.35" y2="217.35" stroke="#222" stroke-width="1"/>
<text x="443.98" y="224.15" class="tk" font-size="4.1" text-anchor="middle">12</text>
<line x1="452.32" x2="452.32" y1="214.35" y2="217.35" stroke="#222" stroke-width="1"/>
<text x="452.32" y="224.15" class="tk" font-size="4.1" text-anchor="middle">13</text>
<line x1="459.15" x2="459.15" y1="214.35" y2="217.35" stroke="#222" stroke-width="1"/>
<text x="459.15" y="224.15" class="tk" font-size="4.1" text-anchor="middle">14</text>
<line x1="465.18" x2="465.18" y1="214.35" y2="217.35" stroke="#222" stroke-width="1"/>
<text x="465.18" y="224.15" class="tk" font-size="4.1" text-anchor="middle">15</text>
<line x1="471.31" x2="471.31" y1="214.35" y2="217.35" stroke="#222" stroke-width="1"/>
<text x="471.31" y="224.15" class="tk" font-size="4.1" text-anchor="middle">16</text>
<line x1="476.03" x2="476.03" y1="214.35" y2="217.35" stroke="#222" stroke-width="1"/>
<text x="476.03" y="224.15" class="tk" font-size="4.1" text-anchor="middle">17</text>
<line x1="481.45" x2="481.45" y1="214.35" y2="217.35" stroke="#222" stroke-width="1"/>
<text x="481.45" y="224.15" class="tk" font-size="4.1" text-anchor="middle">18</text>
<line x1="486.68" x2="486.68" y1="214.35" y2="217.35" stroke="#222" stroke-width="1"/>
<text x="486.68" y="224.15" class="tk" font-size="4.1" text-anchor="middle">19</text>
<line x1="491.10" x2="491.10" y1="214.35" y2="217.35" stroke="#222" stroke-width="1"/>
<text x="491.10" y="224.15" class="tk" font-size="4.1" text-anchor="middle">20</text>
<line x1="495.22" x2="495.22" y1="214.35" y2="217.35" stroke="#222" stroke-width="1"/>
<text x="495.22" y="224.15" class="tk" font-size="4.1" text-anchor="middle">21</text>
<line x1="498.93" x2="498.93" y1="214.35" y2="217.35" stroke="#222" stroke-width="1"/>
<line x1="505.26" x2="505.26" y1="214.35" y2="217.35" stroke="#222" stroke-width="1"/>
<text x="505.26" y="224.15" class="tk" font-size="4.1" text-anchor="middle">X</text>
<text x="397.1" y="233.55" font-size="5.9" textLength="24.4" lengthAdjust="spacingAndGlyphs" class="xt">Chromosome</text>
<text transform="translate(290.40,115.40) rotate(-90)" class="yt" text-anchor="middle" textLength="17" lengthAdjust="spacingAndGlyphs">-log<tspan font-size="3.6" dy="1.3">10</tspan><tspan dy="-1.3">(p)</tspan></text>
<rect x="70.48" y="368.63" width="12.46" height="71.87" fill="#1B9E77"/>
<path d="M71.4 340.8h0M73.5 342.8h0M75 342.8h0M71.4 347.1h0" stroke="#1B9E77" stroke-width="2.0" stroke-linecap="round" fill="none"/>
<path d="M71.7 373.5v1.2M71.7 372.4v1.2M72 370.2v1.2M73.1 382.3v1.2M74.1 371.3v1.2M74 370.2v1.2M76.4 372.4v1.2M78.6 371.3v1.2M80.8 370.2v1.2" stroke="#fff" stroke-opacity="0.8" stroke-width="0.9" fill="none"/>
<path d="M70.5 368.9h1.45M70.5 367.6h1.45M70.5 366.6h1.45M70.5 364.2h1.45M70.5 363.1h1.45M70.5 360.9h1.45M70.5 359.8h1.45M70.5 358.8h1.45M70.5 357.9h1.45M70.5 356.5h1.45M70.5 355.7h1.45M70.5 352.3h1.45M70.6 351.2h1.45M70.5 346.9h1.45M70.5 345.7h1.45M70.5 342.5h1.45M70.5 341.3h1.45M70.5 340.3h1.45M71.7 368.6h1.45M71.4 367.6h1.45M71.7 366.7h1.45M71.6 365.5h1.45M71.7 364.4h1.45M71.7 363.1h1.45M71.5 362.1h1.45M71.7 361h1.45M71.6 360h1.45M71.5 357.6h1.45M71.7 356.7h1.45M71.6 355.6h1.45M71.5 354.3h1.45M71.5 352.1h1.45M71.7 351.3h1.45M71.5 350.1h1.45M71.6 346.6h1.45M72.8 368.7h1.45M72.7 366.4h1.45M72.8 363h1.45M72.8 362.1h1.45M72.8 361.1h1.45M72.8 360h1.45M72.6 359h1.45M72.6 356.7h1.45M72.6 355.7h1.45M73.9 368.9h1.45M73.7 367.5h1.45M73.7 366.5h1.45M73.9 365.4h1.45M73.8 363.3h1.45M73.8 362h1.45M73.9 361.2h1.45M73.7 358.7h1.45M73.7 357.6h1.45M73.9 356.7h1.45M73.9 355.6h1.45M73.8 354.3h1.45M73.8 353.3h1.45M74.8 368.6h1.45M75 367.8h1.45M74.8 364.3h1.45M75 363.1h1.45M74.9 360h1.45M74.8 358.9h1.45M75 350.2h1.45M75 344.4h1.45M75.9 368.8h1.45M76.1 367.7h1.45M76.1 366.6h1.45M76 365.4h1.45M76 364.4h1.45M76 363.4h1.45M76 360.9h1.45M76 359.8h1.45M76 358.8h1.45M75.9 357.5h1.45M76 356.7h1.45M76.1 355.6h1.45M76.1 352.4h1.45M76 347.8h1.45M76 345.6h1.45M77.1 368.5h1.45M77.1 367.8h1.45M76.9 366.4h1.45M77.2 365.4h1.45M77.1 364.3h1.45M77.2 361.9h1.45M77.1 360.9h1.45M77 360.1h1.45M77 356.6h1.45M77.2 355.3h1.45M77.1 354.3h1.45M77.2 353.3h1.45M77 352h1.45M77 351.1h1.45M77.1 350.1h1.45M77 348.8h1.45M78.2 368.6h1.45M78.3 365.4h1.45M78.2 364.5h1.45M78.2 363.3h1.45M78.2 362h1.45M78.2 360.9h1.45M78.1 359.8h1.45M78.2 358.7h1.45M78.2 357.9h1.45M78.1 355.6h1.45M78.2 354.3h1.45M78.1 346.9h1.45M79.3 368.9h1.45M79.4 367.5h1.45M79.3 366.6h1.45M79.3 365.3h1.45M79.3 364.3h1.45M79.4 362.2h1.45M79.4 361.1h1.45M79.2 360.1h1.45M79.4 359h1.45M79.3 356.7h1.45M79.3 354.6h1.45M79.4 353.5h1.45M79.4 351.2h1.45M79.2 349.1h1.45M79.4 347.9h1.45M79.3 346.8h1.45M79.3 345.8h1.45M79.2 343.5h1.45M80.3 368.9h1.45M80.3 367.8h1.45M80.3 366.4h1.45M80.4 365.6h1.45M80.3 364.5h1.45M80.4 363.3h1.45M80.3 346.9h1.45M80.4 343.2h1.45M81.5 368.6h1.45M81.5 367.8h1.45M81.5 366.7h1.45M81.4 364.3h1.45M81.5 362.1h1.45M81.5 361.1h1.45M81.5 354.2h1.45M81.5 352.3h1.45M79.8 351.7h1.45M79.7 350.7h1.45M79.8 349.7h1.45M79.5 346.7h1.45" stroke="#1B9E77" stroke-width="1.45" fill="none"/>
<rect x="83.44" y="367.50" width="13.46" height="73.00" fill="#D95F02"/>
<path d="M89.9 330.6h0M89.9 333.8h0M93.5 341.3h0M89.3 340.8h0" stroke="#D95F02" stroke-width="2.0" stroke-linecap="round" fill="none"/>
<path d="M83.6 372.4v1.2M84.9 375.7v1.2M84.8 372.4v1.2M85.8 374.6v1.2M86.9 371.3v1.2M88.3 375.7v1.2M89.3 372.4v1.2M90.4 379v1.2M90.3 375.7v1.2M91.5 374.6v1.2M92.6 376.8v1.2M93.8 371.3v1.2M95.7 372.4v1.2" stroke="#fff" stroke-opacity="0.8" stroke-width="0.9" fill="none"/>
<path d="M83.5 367.5h1.45M83.5 366.5h1.45M83.4 365.4h1.45M83.5 364.4h1.45M83.4 362h1.45M83.4 360h1.45M83.5 358.7h1.45M83.4 357.8h1.45M83.4 356.7h1.45M83.5 355.6h1.45M83.4 354.6h1.45M83.5 352.1h1.45M83.6 351.1h1.45M83.5 349.9h1.45M83.4 348.8h1.45M83.6 347.9h1.45M84.5 367.5h1.45M84.6 366.7h1.45M84.5 364.2h1.45M84.5 363.1h1.45M84.6 362h1.45M84.7 360h1.45M84.5 358.6h1.45M84.6 357.5h1.45M84.6 355.5h1.45M84.7 354.5h1.45M84.5 353.4h1.45M84.5 352.2h1.45M84.5 350.2h1.45M84.6 349h1.45M85.7 367.7h1.45M85.6 366.3h1.45M85.5 365.2h1.45M85.7 364.2h1.45M85.6 363.2h1.45M85.8 361.9h1.45M85.7 361.1h1.45M85.5 359.8h1.45M85.5 358.8h1.45M85.6 356.7h1.45M85.7 355.5h1.45M85.7 354.6h1.45M85.7 353.1h1.45M85.7 352.1h1.45M85.5 351.3h1.45M85.8 350h1.45M85.5 348h1.45M85.5 345.5h1.45M86.6 367.6h1.45M86.8 366.6h1.45M86.7 365.4h1.45M86.7 364.2h1.45M86.7 362.1h1.45M86.8 360.9h1.45M86.6 359.9h1.45M86.8 357.7h1.45M86.8 356.4h1.45M86.7 355.3h1.45M86.7 354.2h1.45M86.7 353.4h1.45M86.7 352.1h1.45M86.8 347.9h1.45M87.7 367.4h1.45M87.7 366.6h1.45M87.9 363.3h1.45M87.7 362h1.45M88 360h1.45M87.7 358.9h1.45M87.9 357.7h1.45M87.9 356.7h1.45M87.8 355.5h1.45M87.7 351.2h1.45M87.7 350h1.45M87.8 348.8h1.45M87.8 339.9h1.45M88.8 367.4h1.45M89 366.7h1.45M89 365.2h1.45M88.9 364.4h1.45M88.9 363.1h1.45M88.8 362.2h1.45M89 360.8h1.45M89 360h1.45M88.8 358.7h1.45M89 356.7h1.45M88.8 355.6h1.45M88.9 354.6h1.45M88.9 347.9h1.45M89.9 367.6h1.45M90 366.5h1.45M89.9 365.5h1.45M90.1 364.1h1.45M89.9 363.1h1.45M90.1 362h1.45M89.9 361h1.45M90 360h1.45M90.1 358.8h1.45M89.9 357.8h1.45M90 356.5h1.45M89.9 355.4h1.45M90.1 354.2h1.45M90.1 353.3h1.45M89.9 350.9h1.45M90 349h1.45M90.1 347.7h1.45M90.1 346.6h1.45M90.1 345.5h1.45M89.9 344.5h1.45M89.9 343.3h1.45M89.9 342.4h1.45M89.9 340h1.45M91 367.7h1.45M91.1 366.4h1.45M91 365.6h1.45M91 363.1h1.45M91.2 360.9h1.45M91 357.9h1.45M91 355.6h1.45M91.2 354.4h1.45M91.1 352.3h1.45M91.2 351h1.45M91 350.2h1.45M90.9 348.9h1.45M91.1 348h1.45M91.2 346.6h1.45M91 345.8h1.45M91.2 344.3h1.45M91.1 343.5h1.45M91.2 342.2h1.45M92.3 367.4h1.45M92.2 366.7h1.45M92.1 364.3h1.45M92.2 363.3h1.45M92.3 362.2h1.45M92.2 361.2h1.45M92.2 360h1.45M92.2 358.6h1.45M92.2 357.7h1.45M92.2 355.7h1.45M92 354.5h1.45M92.2 353.4h1.45M92.3 352.1h1.45M92.1 351.2h1.45M92.1 350.1h1.45M92.2 348.9h1.45M92.1 337.8h1.45M93.2 367.5h1.45M93.3 366.6h1.45M93.2 364.1h1.45M93.2 363.3h1.45M93.4 362.1h1.45M93.3 361.2h1.45M93.4 359.8h1.45M93.4 358.7h1.45M93.4 357.7h1.45M93.3 356.7h1.45M93.4 355.5h1.45M93.3 354.3h1.45M93.2 353.3h1.45M93.2 352.2h1.45M93.1 351.2h1.45M93.3 349.9h1.45M93.2 347.9h1.45M93.3 345.4h1.45M93.3 342.4h1.45M94.3 367.6h1.45M94.5 366.4h1.45M94.5 365.4h1.45M94.2 364.2h1.45M94.3 363.3h1.45M94.2 361.9h1.45M94.2 360.8h1.45M94.5 360.1h1.45M94.4 358.9h1.45M94.4 357.6h1.45M94.3 356.6h1.45M95.5 366.4h1.45M95.5 364.3h1.45M95.5 362.1h1.45M95.4 360.8h1.45M95.5 360h1.45M95.4 358.7h1.45M95.4 357.5h1.45M95.5 356.4h1.45M95.5 355.7h1.45M95.4 354.3h1.45M95.3 342.1h1.45" stroke="#D95F02" stroke-width="1.45" fill="none"/>
<rect x="97.90" y="369.76" width="11.97" height="70.74" fill="#7570B3"/>
<path d="M107.8 325.4h0M107.6 329.7h0M99.8 330.6h0M101.9 334.9h0M101.9 337h0M106.8 338.1h0" stroke="#7570B3" stroke-width="2.0" stroke-linecap="round" fill="none"/>
<path d="M98.1 383.4v1.2M98.1 376.8v1.2M99.3 382.3v1.2M100.3 382.3v1.2M105.9 371.3v1.2M106.8 375.7v1.2M107 371.3v1.2M108.2 374.6v1.2" stroke="#fff" stroke-opacity="0.8" stroke-width="0.9" fill="none"/>
<path d="M97.9 369.8h1.45M97.9 368.8h1.45M97.9 366.5h1.45M97.9 365.6h1.45M97.9 364.5h1.45M97.9 362.1h1.45M97.9 361.1h1.45M97.9 359.8h1.45M97.9 358.7h1.45M97.9 357.8h1.45M97.9 355.5h1.45M97.9 354.7h1.45M97.9 352.1h1.45M97.9 351.3h1.45M97.9 350h1.45M97.9 346.8h1.45M98 344.6h1.45M98 341.2h1.45M99 368.9h1.45M98.9 367.6h1.45M99 365.3h1.45M99 363.4h1.45M98.9 362.3h1.45M98.9 360.2h1.45M98.8 359h1.45M98.8 357.7h1.45M98.9 356.6h1.45M99.1 355.5h1.45M98.9 353.2h1.45M99 349.1h1.45M98.9 347.9h1.45M99 339h1.45M99.1 338.1h1.45M100.1 370h1.45M99.9 368.9h1.45M99.9 367.5h1.45M99.9 365.4h1.45M99.9 364.4h1.45M100.1 363.3h1.45M99.9 362.1h1.45M100.1 359.8h1.45M100 357.7h1.45M100 356.7h1.45M100 353.2h1.45M100 352.3h1.45M100.1 351h1.45M100.1 348.9h1.45M101.2 369.7h1.45M101 366.7h1.45M101.1 365.5h1.45M101.2 364.3h1.45M101.1 363.3h1.45M101.1 362.3h1.45M101 361.1h1.45M101 357.9h1.45M101.1 356.6h1.45M101 354.6h1.45M102.1 369.8h1.45M102.2 368.6h1.45M102 367.8h1.45M102 366.5h1.45M102.2 365.4h1.45M102.1 362.1h1.45M102.1 361h1.45M102 359.9h1.45M102.2 358.8h1.45M102.1 357.9h1.45M102.1 356.9h1.45M102.1 345.8h1.45M102 343.3h1.45M103.3 369.8h1.45M103.2 366.4h1.45M103 365.5h1.45M103.3 364.2h1.45M103 362.3h1.45M103.2 361h1.45M103 358.8h1.45M103.2 356.8h1.45M103.1 355.4h1.45M103.1 354.5h1.45M103 353.4h1.45M103.2 352.4h1.45M103.1 351.4h1.45M103.2 350.1h1.45M103 347.9h1.45M103.1 344.7h1.45M104.2 370h1.45M104.1 368.6h1.45M104.3 367.8h1.45M104.3 366.6h1.45M104.2 365.6h1.45M104.2 364.2h1.45M104.3 363.3h1.45M104.2 362.1h1.45M104.3 361h1.45M104.2 359h1.45M104.3 354.4h1.45M104.3 353.6h1.45M104.2 351.4h1.45M104.1 350.2h1.45M104.1 347.8h1.45M104.2 346.8h1.45M104.2 345.5h1.45M104.3 342.4h1.45M105.2 369.9h1.45M105.2 369h1.45M105.2 366.6h1.45M105.4 365.3h1.45M105.3 364.2h1.45M105.3 362h1.45M105.2 361h1.45M105.2 360h1.45M105.2 357.8h1.45M105.2 356.5h1.45M105.3 355.7h1.45M105.1 354.5h1.45M105.3 353.2h1.45M105.4 352.1h1.45M105.2 350h1.45M105.1 346.8h1.45M106.2 370h1.45M106.3 366.7h1.45M106.2 365.5h1.45M106.4 364.3h1.45M106.2 363.4h1.45M106.3 362.3h1.45M106.2 361h1.45M106.2 358.8h1.45M106.2 357.9h1.45M106.2 356.5h1.45M106.5 355.5h1.45M106.3 354.4h1.45M107.3 370h1.45M107.3 368.6h1.45M107.3 367.5h1.45M107.4 366.6h1.45M107.3 365.5h1.45M107.3 364.4h1.45M107.4 363.4h1.45M107.4 360.1h1.45M107.4 358.7h1.45M107.5 356.6h1.45M107.4 354.6h1.45M107.2 352.4h1.45M107.5 351h1.45M107.2 349.9h1.45M107.4 348.8h1.45M107.5 346.8h1.45M107.4 344.7h1.45M107.2 343.4h1.45M107.3 340h1.45M108.4 369.9h1.45M108.3 367.7h1.45M108.3 366.5h1.45M108.4 365.7h1.45M108.4 363.3h1.45M108.4 362.1h1.45M108.4 361.1h1.45M108.4 359.9h1.45M108.3 357.6h1.45M108.4 351h1.45M108.4 346.6h1.45M108.4 345.6h1.45M108.3 344.7h1.45M108.3 342.2h1.45M100.5 349.4h1.45M100.7 345.4h1.45M100.5 344.4h1.45M100.8 343.4h1.45M101.2 338.4h1.45M101 337.4h1.45M101.1 336.4h1.45" stroke="#7570B3" stroke-width="1.45" fill="none"/>
<rect x="110.86" y="372.02" width="11.97" height="68.47" fill="#E7298A"/>
<path d="M112.5 289.9h0M117.7 321.8h0M116.6 335.4h0M116.6 338.1h0M113.5 341.3h0M120.3 344.9h0" stroke="#E7298A" stroke-width="2.0" stroke-linecap="round" fill="none"/>
<path d="M112.3 384.6v1.2M115.5 375.8v1.2M115.6 373.6v1.2M117.6 378v1.2M117.6 374.7v1.2M118.7 373.6v1.2M120 380.2v1.2" stroke="#fff" stroke-opacity="0.8" stroke-width="0.9" fill="none"/>
<path d="M110.9 372.1h1.45M110.9 370.9h1.45M110.9 369.8h1.45M110.9 367.7h1.45M110.9 366.6h1.45M110.9 365.4h1.45M110.9 363.4h1.45M110.9 361.3h1.45M111 359.9h1.45M111 359.1h1.45M110.9 357.9h1.45M111 356.7h1.45M110.9 355.8h1.45M110.9 354.4h1.45M111 352.4h1.45M110.9 349.9h1.45M110.9 349.2h1.45M110.9 346.9h1.45M110.9 345.8h1.45M111.8 372.1h1.45M112 371h1.45M111.8 370h1.45M111.9 368.9h1.45M111.9 366.8h1.45M111.8 365.5h1.45M111.9 364.4h1.45M111.8 363.3h1.45M111.8 362.4h1.45M111.9 360h1.45M112 359h1.45M111.8 351.1h1.45M111.9 350h1.45M112 349h1.45M111.9 347.8h1.45M112 346.9h1.45M112 345.6h1.45M112 344.7h1.45M112 343.6h1.45M111.9 342.4h1.45M113.1 372.1h1.45M112.9 370.9h1.45M112.9 370h1.45M113.1 365.4h1.45M113 364.3h1.45M112.9 363.5h1.45M113.1 362.4h1.45M112.9 361.2h1.45M113.1 359.9h1.45M112.8 358.9h1.45M113 357.9h1.45M113 356.9h1.45M113.1 355.6h1.45M112.9 354.6h1.45M112.8 353.3h1.45M112.9 350.1h1.45M113.9 372.1h1.45M113.9 369.9h1.45M114 368.8h1.45M114 367.9h1.45M114.2 366.6h1.45M113.9 364.5h1.45M114 363.2h1.45M114 362.4h1.45M113.9 361h1.45M113.9 357.7h1.45M113.9 356.6h1.45M113.9 353.3h1.45M114.1 342.6h1.45M115.2 372.3h1.45M115.1 371h1.45M115 369.9h1.45M115 368.8h1.45M114.9 367.7h1.45M114.9 366.7h1.45M115.2 363.3h1.45M115.2 361.1h1.45M115.1 357.9h1.45M115 356.9h1.45M114.9 355.7h1.45M115.2 353.2h1.45M115 352.5h1.45M115.2 350.2h1.45M115 349h1.45M115.2 348h1.45M115.1 346.8h1.45M115.1 345.7h1.45M115.2 344.6h1.45M115 343.5h1.45M115.2 342.3h1.45M114.9 340.1h1.45M115 339.2h1.45M116 372.2h1.45M116 371h1.45M116.2 368.9h1.45M116.2 367.8h1.45M116.1 366.6h1.45M116 365.4h1.45M116.2 364.3h1.45M116 363.2h1.45M116 362.3h1.45M116 360h1.45M116.2 358.8h1.45M116.2 357.7h1.45M116.2 356.8h1.45M116 355.4h1.45M116.1 354.6h1.45M116.2 353.3h1.45M116 352.3h1.45M116.1 338.2h1.45M117.1 372.1h1.45M117.3 371h1.45M117.1 369.7h1.45M117.2 367.7h1.45M117.3 365.4h1.45M117.1 364.2h1.45M117.1 363.2h1.45M117.2 362.3h1.45M117.2 360h1.45M117.1 358.9h1.45M117.1 355.4h1.45M117.2 354.6h1.45M117 353.3h1.45M117.2 352.3h1.45M117.2 349h1.45M118.3 372h1.45M118.4 370.9h1.45M118.2 370h1.45M118.1 367.8h1.45M118.1 366.6h1.45M118.3 365.4h1.45M118.2 364.5h1.45M118.4 362.2h1.45M118.2 361h1.45M118.2 359.9h1.45M118.2 358.9h1.45M118.3 357.9h1.45M118.1 356.8h1.45M118.1 355.6h1.45M118.3 354.4h1.45M118.3 353.5h1.45M118.1 351.1h1.45M118.2 350.1h1.45M118.2 348.9h1.45M118.3 348.1h1.45M119.3 372.2h1.45M119.2 371.2h1.45M119.1 369h1.45M119.3 367.9h1.45M119.3 365.6h1.45M119.2 364.3h1.45M119.2 360.2h1.45M119.4 359h1.45M119.3 356.9h1.45M119.3 355.8h1.45M119.2 351h1.45M119.4 349h1.45M120.3 372.3h1.45M120.2 371.2h1.45M120.3 369.8h1.45M120.3 368.7h1.45M120.3 366.7h1.45M120.4 363.4h1.45M120.4 362.2h1.45M120.4 361.2h1.45M120.3 357.9h1.45M120.3 356.8h1.45M120.4 355.6h1.45M120.4 354.6h1.45M121.3 372.3h1.45M121.3 371.1h1.45M121.3 369h1.45M121.4 367.7h1.45M121.4 365.7h1.45M121.3 364.3h1.45M121.4 363.4h1.45M121.4 362.4h1.45M121.4 360.1h1.45M121.4 357.8h1.45M121.3 354.7h1.45M121.3 353.2h1.45M121.4 352.5h1.45M121.4 350.2h1.45M121.4 344.5h1.45" stroke="#E7298A" stroke-width="1.45" fill="none"/>
<rect x="123.62" y="367.50" width="10.67" height="73.00" fill="#66A61E"/>
<path d="M132.3 332.7h0M129.1 335.8h0" stroke="#66A61E" stroke-width="2.0" stroke-linecap="round" fill="none"/>
<path d="M125 383.4v1.2M127.4 373.5v1.2M127.4 371.3v1.2M127.4 369.1v1.2M128.1 369.1v1.2M129.4 371.3v1.2M131.6 372.4v1.2M131.6 369.1v1.2M132.7 371.3v1.2" stroke="#fff" stroke-opacity="0.8" stroke-width="0.9" fill="none"/>
<path d="M123.6 367.7h1.45M123.8 364.2h1.45M123.6 363.2h1.45M123.7 362.3h1.45M123.7 361.1h1.45M123.6 360h1.45M123.6 358.9h1.45M123.6 357.7h1.45M123.7 354.3h1.45M123.6 353.3h1.45M123.6 351h1.45M123.7 345.6h1.45M124.8 367.8h1.45M124.7 364.2h1.45M124.7 362.1h1.45M124.6 361.1h1.45M124.9 359.8h1.45M124.9 358.7h1.45M124.6 357.6h1.45M124.6 356.5h1.45M124.7 354.5h1.45M125.9 367.8h1.45M125.9 365.4h1.45M126 364.1h1.45M126 363.2h1.45M125.8 361.1h1.45M126 360h1.45M126 358.7h1.45M125.9 356.7h1.45M126 353.2h1.45M125.9 351h1.45M127 367.6h1.45M127 366.5h1.45M127 365.3h1.45M127 364.4h1.45M127 363.3h1.45M127.2 362h1.45M127.2 359.8h1.45M127.1 358.8h1.45M127.1 357.8h1.45M127.2 356.7h1.45M127.1 353.5h1.45M127.2 346.8h1.45M128.4 366.5h1.45M128.2 365.4h1.45M128.2 364.2h1.45M128.3 363.4h1.45M128.3 362.2h1.45M128.3 358.7h1.45M128.3 355.6h1.45M128.3 353.4h1.45M128.3 352.1h1.45M129.5 367.8h1.45M129.4 366.3h1.45M129.5 363.1h1.45M129.4 362.1h1.45M129.5 361h1.45M129.5 360h1.45M129.5 353.4h1.45M129.3 352.1h1.45M129.5 349.8h1.45M129.3 347.8h1.45M129.4 345.7h1.45M129.4 344.6h1.45M130.5 367.8h1.45M130.7 366.4h1.45M130.6 365.3h1.45M130.6 363.1h1.45M130.6 361.1h1.45M130.6 359.7h1.45M130.6 358.9h1.45M130.5 357.5h1.45M130.5 356.6h1.45M130.5 355.5h1.45M131.6 367.6h1.45M131.8 365.3h1.45M131.6 364.5h1.45M131.7 363.2h1.45M131.7 360.9h1.45M131.7 360h1.45M131.7 355.6h1.45M131.8 354.4h1.45M131.7 353.1h1.45M131.6 352.2h1.45M131.6 350.9h1.45M131.8 349.1h1.45M131.8 344.5h1.45M132.8 367.7h1.45M132.8 365.4h1.45M132.8 363.2h1.45M132.7 362.2h1.45M132.7 361.1h1.45M132.7 359.7h1.45M132.8 358.6h1.45M132.7 357.6h1.45M132.8 355.6h1.45M132.8 354.6h1.45M132.8 352.1h1.45M124.3 347.1h1.45M123.7 346.1h1.45M124.4 345.1h1.45M123.8 344.1h1.45M123.9 340.1h1.45M124.3 339.1h1.45M124.5 337.1h1.45M124.4 336.1h1.45M123.9 334.1h1.45M124.2 332.1h1.45M123.9 330.1h1.45" stroke="#66A61E" stroke-width="1.45" fill="none"/>
<rect x="135.29" y="366.59" width="11.47" height="73.91" fill="#E6AB02"/>
<path d="M143.9 312.3h0M143.5 319.1h0M143.5 322.2h0M143.5 324.7h0M138.6 331.8h0M137.8 334.7h0M143.9 335.4h0" stroke="#E6AB02" stroke-width="2.0" stroke-linecap="round" fill="none"/>
<path d="M135.5 382.5v1.2M135.5 369.3v1.2M137.7 368.2v1.2M139.1 369.3v1.2M140 372.6v1.2M140.1 370.4v1.2M141.3 369.3v1.2M143.3 374.8v1.2" stroke="#fff" stroke-opacity="0.8" stroke-width="0.9" fill="none"/>
<path d="M135.3 366.6h1.45M135.3 365.7h1.45M135.4 364.5h1.45M135.4 363.4h1.45M135.4 361.1h1.45M135.3 360.1h1.45M135.4 359.2h1.45M135.4 358h1.45M135.3 356.7h1.45M135.3 355.8h1.45M135.3 354.8h1.45M136.4 365.6h1.45M136.5 364.5h1.45M136.4 363.5h1.45M136.3 362.3h1.45M136.4 361.2h1.45M136.5 359h1.45M136.4 356.6h1.45M136.3 355.9h1.45M136.5 354.5h1.45M136.4 353.5h1.45M136.4 352.3h1.45M136.4 351.3h1.45M136.3 350.3h1.45M137.5 366.7h1.45M137.5 365.7h1.45M137.5 364.4h1.45M137.4 363.2h1.45M137.6 361.3h1.45M137.6 359.9h1.45M137.6 358.9h1.45M137.5 358.1h1.45M137.4 357h1.45M137.4 355.7h1.45M137.4 353.5h1.45M138.6 366.7h1.45M138.6 365.8h1.45M138.7 364.4h1.45M138.8 363.2h1.45M138.5 362.2h1.45M138.6 361.4h1.45M139.8 366.9h1.45M139.7 365.8h1.45M139.9 364.5h1.45M139.9 363.5h1.45M139.7 362.4h1.45M139.9 360.2h1.45M139.7 359h1.45M139.8 358h1.45M140.7 366.7h1.45M140.8 365.6h1.45M140.8 364.5h1.45M140.9 363.4h1.45M141 362.4h1.45M140.8 361.3h1.45M140.9 360.1h1.45M140.8 355.7h1.45M140.8 354.5h1.45M140.9 353.7h1.45M141.8 366.9h1.45M141.9 365.4h1.45M141.8 364.4h1.45M142 363.3h1.45M142 361.2h1.45M142 360h1.45M142 358.9h1.45M142.1 357.7h1.45M141.9 356.6h1.45M141.9 355.7h1.45M142.1 353.5h1.45M141.8 349.2h1.45M143.1 366.7h1.45M143 365.5h1.45M143.2 364.7h1.45M143.1 363.3h1.45M143 362.4h1.45M143.1 361h1.45M143.1 360.2h1.45M143.2 358.8h1.45M143.1 348.9h1.45M144.1 366.6h1.45M144.3 365.4h1.45M144.3 364.6h1.45M144.1 362.3h1.45M144.2 361.2h1.45M144.2 360h1.45M144.1 352.4h1.45M145.2 366.7h1.45M145.3 363.4h1.45M145.2 362.3h1.45M145.2 358.9h1.45M145.2 358.1h1.45M145.3 351.3h1.45M143.4 353.9h1.45M143.1 351.9h1.45M143.4 348.9h1.45M143.2 346.9h1.45M142.8 343.9h1.45M142.7 342.9h1.45M143.4 340.9h1.45M142.9 338.9h1.45" stroke="#E6AB02" stroke-width="1.45" fill="none"/>
<rect x="147.75" y="367.50" width="9.47" height="73.00" fill="#A6761D"/>
<path d="M154.3 326.8h0M150.1 342.2h0" stroke="#A6761D" stroke-width="2.0" stroke-linecap="round" fill="none"/>
<path d="M147.9 379v1.2M147.9 375.7v1.2M148.2 369.1v1.2M149 373.5v1.2M149.3 371.3v1.2M150.3 369.1v1.2M154.7 381.2v1.2M155.6 374.6v1.2" stroke="#fff" stroke-opacity="0.8" stroke-width="0.9" fill="none"/>
<path d="M147.8 367.6h1.45M147.8 366.5h1.45M147.8 365.4h1.45M147.8 364.5h1.45M147.8 363.1h1.45M147.8 362h1.45M147.8 361.1h1.45M147.8 359.8h1.45M147.8 356.6h1.45M147.8 355.5h1.45M147.8 352h1.45M147.8 351.1h1.45M147.9 350.1h1.45M147.9 347.7h1.45M147.8 346.9h1.45M148.8 367.7h1.45M148.9 365.3h1.45M148.9 364.3h1.45M149 363.1h1.45M149 360.9h1.45M148.8 359.8h1.45M148.9 358.7h1.45M148.9 356.5h1.45M148.9 355.4h1.45M148.8 348.8h1.45M150 367.4h1.45M150.1 365.2h1.45M150.1 364.4h1.45M150.1 363.1h1.45M150.2 361.1h1.45M150.1 359.8h1.45M150 357.8h1.45M149.9 356.7h1.45M150 353.3h1.45M150 351h1.45M150.1 349.9h1.45M149.9 348.8h1.45M151.3 367.5h1.45M151.3 366.5h1.45M151.2 365.2h1.45M151.3 364.2h1.45M151.3 362.2h1.45M151.3 359.9h1.45M151.2 358.8h1.45M151.3 356.8h1.45M151.3 355.3h1.45M151.3 354.3h1.45M151.2 353.2h1.45M151.1 351h1.45M151.2 350.2h1.45M151.2 348.7h1.45M151.3 347.9h1.45M152.3 367.8h1.45M152.3 366.5h1.45M152.2 365.3h1.45M152.3 364.5h1.45M152.4 362.1h1.45M152.2 359.8h1.45M152.4 358.8h1.45M152.5 356.4h1.45M152.3 342.3h1.45M153.6 367.5h1.45M153.6 366.6h1.45M153.6 365.6h1.45M153.5 364.4h1.45M153.4 363h1.45M153.4 362.2h1.45M153.4 361.1h1.45M153.4 360h1.45M153.4 359h1.45M153.6 357.7h1.45M153.4 355.3h1.45M153.4 347.7h1.45M154.7 364.2h1.45M154.8 361h1.45M154.5 360h1.45M154.6 358.9h1.45M154.7 357.8h1.45M154.6 356.4h1.45M154.7 355.5h1.45M154.6 353.3h1.45M154.7 351h1.45M155.8 367.8h1.45M155.7 366.4h1.45M155.8 364.2h1.45M155.8 363.3h1.45M155.7 362h1.45M155.8 360h1.45M155.8 358.8h1.45M155.7 356.7h1.45M155.7 353.2h1.45M155.8 351.3h1.45M155.7 348.8h1.45M154.2 345.4h1.45M153.6 343.4h1.45M153.4 342.4h1.45M153.4 339.4h1.45M153.3 336.4h1.45" stroke="#A6761D" stroke-width="1.45" fill="none"/>
<rect x="158.22" y="369.76" width="9.47" height="70.74" fill="#666666"/>
<path d="M162.4 325.4h0M161.7 334.9h0M162.2 338.1h0M160.2 342.2h0M162.7 340.3h0M163.2 342.6h0" stroke="#666666" stroke-width="2.0" stroke-linecap="round" fill="none"/>
<path d="M160.7 375.7v1.2M162.9 373.5v1.2M164.1 374.6v1.2M166.4 376.8v1.2" stroke="#fff" stroke-opacity="0.8" stroke-width="0.9" fill="none"/>
<path d="M158.3 369.9h1.45M158.2 368.6h1.45M158.2 367.5h1.45M158.2 365.4h1.45M158.3 364.2h1.45M158.2 363.3h1.45M158.2 362.3h1.45M158.3 361.2h1.45M158.2 358.8h1.45M159.3 369.7h1.45M159.3 368.6h1.45M159.3 367.9h1.45M159.4 366.4h1.45M159.3 365.5h1.45M159.4 364.2h1.45M159.5 363.2h1.45M159.4 362.2h1.45M159.4 360.9h1.45M159.3 359.8h1.45M159.3 358.9h1.45M159.2 353.3h1.45M159.4 351h1.45M159.5 348h1.45M160.5 370.1h1.45M160.7 367.8h1.45M160.4 366.7h1.45M160.6 365.6h1.45M160.6 360h1.45M161.7 368.8h1.45M161.8 366.7h1.45M161.6 365.5h1.45M161.6 364.5h1.45M161.6 363.2h1.45M161.6 362h1.45M161.7 359.8h1.45M161.6 359h1.45M161.7 357.6h1.45M161.8 356.8h1.45M161.6 355.7h1.45M161.6 354.6h1.45M161.7 352.2h1.45M161.5 346.9h1.45M162.7 370h1.45M162.8 364.2h1.45M162.7 360h1.45M162.7 358.9h1.45M162.9 357.6h1.45M162.9 356.9h1.45M162.9 354.3h1.45M162.8 353.4h1.45M162.7 352.1h1.45M162.9 351.3h1.45M162.7 350.2h1.45M162.9 349.1h1.45M162.9 347.9h1.45M162.7 346.9h1.45M163.9 369.7h1.45M163.9 368.8h1.45M163.9 367.8h1.45M164 366.4h1.45M164 365.6h1.45M164 364.2h1.45M163.8 363.2h1.45M163.9 362h1.45M164 358.9h1.45M163.9 357.9h1.45M164 356.7h1.45M164 355.4h1.45M163.9 351h1.45M165.1 370h1.45M165.1 368.7h1.45M165 366.6h1.45M165.2 365.4h1.45M165.2 364.5h1.45M165.2 363.4h1.45M165.2 361.2h1.45M166.1 369.7h1.45M166.2 368.9h1.45M166.2 365.4h1.45M166.2 364.4h1.45M166.2 363.3h1.45M166.2 362.1h1.45M166.2 358.9h1.45M166.1 357.9h1.45M166.2 354.4h1.45M166.1 353.3h1.45M166.1 351.3h1.45" stroke="#666666" stroke-width="1.45" fill="none"/>
<rect x="168.69" y="367.50" width="6.98" height="73.00" fill="#1B9E77"/>
<path d="M174 316.8h0M170.2 341.3h0" stroke="#1B9E77" stroke-width="2.0" stroke-linecap="round" fill="none"/>
<path d="M170 369.1v1.2M174.5 372.4v1.2" stroke="#fff" stroke-opacity="0.8" stroke-width="0.9" fill="none"/>
<path d="M168.8 367.6h1.45M168.8 366.6h1.45M168.7 365.5h1.45M168.7 364.1h1.45M168.8 363.3h1.45M168.7 362.1h1.45M168.8 359.8h1.45M168.7 356.5h1.45M168.7 355.4h1.45M168.7 354.4h1.45M169.8 367.8h1.45M169.8 366.4h1.45M169.9 364.2h1.45M169.8 363.4h1.45M169.9 362.3h1.45M169.7 361h1.45M169.9 359.9h1.45M169.7 358.9h1.45M169.8 357.8h1.45M169.9 355.3h1.45M169.8 352.2h1.45M169.9 351.1h1.45M169.7 345.7h1.45M171 367.6h1.45M171 365.3h1.45M170.9 364.3h1.45M171 363h1.45M170.9 362.3h1.45M170.8 360.1h1.45M171 357.7h1.45M171 356.8h1.45M171 355.4h1.45M170.8 354.4h1.45M170.9 353.2h1.45M170.8 352.3h1.45M170.9 350.9h1.45M170.8 350h1.45M170.9 349.1h1.45M171 348h1.45M172 367.6h1.45M172.1 366.4h1.45M171.9 365.5h1.45M171.9 364.3h1.45M172.1 363.2h1.45M172 361.2h1.45M172.1 359.8h1.45M171.9 358.9h1.45M172 355.3h1.45M172.1 354.5h1.45M172.1 353.3h1.45M171.9 352.1h1.45M172 351.2h1.45M172 349h1.45M171.9 347.8h1.45M172.2 346.6h1.45M172.1 345.4h1.45M172 344.7h1.45M172.1 342.4h1.45M172.1 341.2h1.45M173.1 367.6h1.45M173.1 366.5h1.45M173.3 365.2h1.45M173.1 364.4h1.45M173 363.1h1.45M173 361h1.45M173.2 359.9h1.45M173.2 353.2h1.45M173.1 348.9h1.45M173.2 347.6h1.45M173 343.4h1.45M173.2 340.1h1.45M174.2 367.7h1.45M174.2 364.4h1.45M174.2 359.7h1.45M174.2 358.9h1.45M174.2 357.8h1.45M174.2 356.4h1.45M174.2 355.6h1.45M174.2 351.3h1.45M174.2 344.5h1.45M174.2 340h1.45M173.4 337.1h1.45M173.4 335.1h1.45M173.9 334.1h1.45M173.4 331.1h1.45M173.5 330.1h1.45M173.4 329.1h1.45M173.6 328.1h1.45M173.1 327.1h1.45M173.2 326.1h1.45M173.5 325.1h1.45M173.7 324.1h1.45" stroke="#1B9E77" stroke-width="1.45" fill="none"/>
<rect x="176.67" y="367.50" width="8.48" height="73.00" fill="#D95F02"/>
<path d="M182.8 326.8h0M177.1 329.7h0M178 331.8h0M178.6 334.7h0M182.8 334.7h0" stroke="#D95F02" stroke-width="2.0" stroke-linecap="round" fill="none"/>
<path d="M177 381.2v1.2M178.2 382.3v1.2M179 371.3v1.2M180.3 371.3v1.2M180.4 369.1v1.2M182.7 370.2v1.2M183.6 369.1v1.2" stroke="#fff" stroke-opacity="0.8" stroke-width="0.9" fill="none"/>
<path d="M176.7 367.7h1.45M176.8 365.2h1.45M176.7 364.3h1.45M176.7 362h1.45M176.8 360.8h1.45M176.7 359.7h1.45M176.7 358.9h1.45M176.8 345.5h1.45M177.7 367.4h1.45M177.8 364.2h1.45M177.8 363h1.45M177.7 361.9h1.45M177.7 361.1h1.45M177.9 360h1.45M177.9 358.7h1.45M178 357.6h1.45M177.8 355.7h1.45M177.9 354.6h1.45M177.8 352.1h1.45M179.1 367.4h1.45M179.1 366.5h1.45M179.1 365.3h1.45M178.9 364.4h1.45M179.1 363.3h1.45M179 362.1h1.45M179 355.5h1.45M178.9 354.3h1.45M179 353.4h1.45M179.1 351.2h1.45M179.1 349.9h1.45M179.1 349.1h1.45M178.9 342.4h1.45M180.1 367.4h1.45M180.3 366.5h1.45M180.1 365.4h1.45M180.1 364.5h1.45M180 362h1.45M180.3 360.9h1.45M180.3 359.7h1.45M180.2 357.6h1.45M180.3 356.5h1.45M180.2 355.4h1.45M180.3 354.3h1.45M180.1 353.3h1.45M180.2 352h1.45M180.3 349h1.45M181.4 367.7h1.45M181.5 366.3h1.45M181.3 365.3h1.45M181.2 364.5h1.45M181.5 358.8h1.45M181.2 356.4h1.45M181.4 355.6h1.45M181.3 354.4h1.45M181.3 353.4h1.45M181.5 350.9h1.45M181.3 350.2h1.45M181.4 347.8h1.45M182.6 367.7h1.45M182.4 366.6h1.45M182.5 365.3h1.45M182.5 363.3h1.45M182.4 361.9h1.45M182.4 359.9h1.45M182.7 359h1.45M182.4 357.9h1.45M182.6 356.6h1.45M182.5 355.7h1.45M182.5 354.3h1.45M182.4 353.5h1.45M182.6 350.1h1.45M182.5 349.1h1.45M183.7 367.8h1.45M183.7 364.2h1.45M183.7 362.3h1.45M183.7 361.1h1.45M183.7 360.1h1.45M183.7 358.7h1.45M183.7 357.7h1.45M183.7 356.6h1.45M183.7 355.4h1.45M183.7 354.5h1.45M183.7 352.2h1.45M183.6 351h1.45M183.6 349.1h1.45M183.6 346.8h1.45M178.5 348.4h1.45M178.3 346.4h1.45M178 345.4h1.45M178.4 344.4h1.45M177.9 342.4h1.45M178.3 341.4h1.45M178.4 340.4h1.45M178.4 339.4h1.45M178.6 338.4h1.45M178.1 336.4h1.45" stroke="#D95F02" stroke-width="1.45" fill="none"/>
<rect x="186.14" y="369.76" width="8.48" height="70.74" fill="#7570B3"/>
<path d="M190.6 289.4h0M190.6 298.9h0M190.6 307.1h0M190.6 327.5h0M192.1 336.5h0M186.8 343.3h0" stroke="#7570B3" stroke-width="2.0" stroke-linecap="round" fill="none"/>
<path d="M186.5 377.9v1.2M186.5 376.8v1.2M187.4 379v1.2M187.4 375.7v1.2M191 377.9v1.2M190.7 375.7v1.2M191 374.6v1.2M191.7 377.9v1.2M192 375.7v1.2" stroke="#fff" stroke-opacity="0.8" stroke-width="0.9" fill="none"/>
<path d="M186.3 369.7h1.45M186.1 367.6h1.45M186.3 366.7h1.45M186.2 365.3h1.45M186.1 364.5h1.45M186.1 361.3h1.45M186.1 360h1.45M186.2 357.8h1.45M187.4 370h1.45M187.3 368.9h1.45M187.2 366.5h1.45M187.3 365.5h1.45M187.2 364.5h1.45M187.2 362h1.45M187.2 361.2h1.45M187.2 357.9h1.45M187.3 355.6h1.45M187.3 353.5h1.45M187.2 352.1h1.45M188.5 369.8h1.45M188.3 368.6h1.45M188.4 367.5h1.45M188.6 364.3h1.45M188.6 363.1h1.45M188.5 362.1h1.45M188.5 360.2h1.45M188.4 356.6h1.45M189.5 369.8h1.45M189.7 368.6h1.45M189.6 367.8h1.45M189.7 366.5h1.45M189.7 364.3h1.45M189.6 363.3h1.45M189.7 362.3h1.45M189.6 361h1.45M189.5 358.9h1.45M189.6 357.6h1.45M189.8 355.4h1.45M189.6 354.6h1.45M189.5 353.3h1.45M189.6 352.4h1.45M189.8 351.1h1.45M189.7 350h1.45M190.7 369.7h1.45M190.9 366.6h1.45M190.7 365.5h1.45M190.9 364.4h1.45M190.7 363.2h1.45M190.9 362.2h1.45M190.9 361h1.45M190.9 360h1.45M190.8 359h1.45M190.9 357.9h1.45M190.7 354.4h1.45M190.7 353.4h1.45M192.1 368.6h1.45M191.9 366.6h1.45M192.1 365.5h1.45M192 364.2h1.45M192.1 362h1.45M191.9 361.2h1.45M192 355.8h1.45M192 352.3h1.45M193 369.7h1.45M193.2 368.6h1.45M193 367.6h1.45M193.1 366.7h1.45M193.2 363.3h1.45M193.1 361h1.45M193.2 360h1.45M193.1 358.7h1.45M193.2 357.9h1.45M193.2 356.6h1.45M193.1 355.6h1.45M193.2 351.3h1.45" stroke="#7570B3" stroke-width="1.45" fill="none"/>
<rect x="195.61" y="369.76" width="8.48" height="70.74" fill="#E7298A"/>
<path d="M198.4 340.1h0M202.6 344.9h0M202.1 346h0" stroke="#E7298A" stroke-width="2.0" stroke-linecap="round" fill="none"/>
<path d="M196.1 373.5v1.2M197.1 372.4v1.2M198.2 379v1.2M200.4 373.5v1.2" stroke="#fff" stroke-opacity="0.8" stroke-width="0.9" fill="none"/>
<path d="M195.6 368.8h1.45M195.6 367.6h1.45M195.7 366.7h1.45M195.6 365.4h1.45M195.7 363.3h1.45M195.6 359.9h1.45M195.6 358.7h1.45M195.7 357.7h1.45M195.7 356.8h1.45M195.6 354.4h1.45M195.6 353.5h1.45M195.7 352.3h1.45M195.6 351.1h1.45M195.6 350.2h1.45M195.6 347.9h1.45M196.9 367.8h1.45M196.7 366.4h1.45M196.9 365.4h1.45M196.8 362.3h1.45M196.7 360.9h1.45M196.7 358.9h1.45M196.7 357.8h1.45M196.7 354.4h1.45M196.9 353.2h1.45M196.7 349.9h1.45M197.9 369.8h1.45M197.9 368.6h1.45M197.9 367.5h1.45M198 366.4h1.45M198.1 365.4h1.45M198.1 363.3h1.45M197.9 362h1.45M197.8 360.2h1.45M197.9 358.9h1.45M197.8 357.9h1.45M197.8 356.7h1.45M198.1 355.4h1.45M198.1 354.3h1.45M198 353.5h1.45M197.8 352.1h1.45M197.9 351h1.45M198 350.2h1.45M199.1 369.9h1.45M199.2 368.6h1.45M199 367.7h1.45M199.3 366.6h1.45M199 363.3h1.45M199 362.1h1.45M199.3 361h1.45M199.1 360.1h1.45M199.1 359h1.45M199 357.8h1.45M199.1 356.5h1.45M199.1 355.6h1.45M199 354.6h1.45M199.3 353.5h1.45M199 349.9h1.45M200.2 369.9h1.45M200.2 365.6h1.45M200.2 364.2h1.45M200.2 363.1h1.45M200.4 362.2h1.45M200.3 359.9h1.45M200.3 358.9h1.45M200.3 357.9h1.45M200.2 356.5h1.45M200.3 355.5h1.45M200.3 354.5h1.45M200.3 353.5h1.45M200.2 352.3h1.45M200.2 350.2h1.45M201.5 369.8h1.45M201.3 367.7h1.45M201.4 366.7h1.45M201.6 365.6h1.45M201.6 364.5h1.45M201.4 356.8h1.45M201.5 355.7h1.45M202.5 369.8h1.45M202.6 368.6h1.45M202.6 367.6h1.45M202.5 365.5h1.45M202.6 363.3h1.45M202.6 361.1h1.45M202.6 360.1h1.45M202.6 357.9h1.45M202.6 356.8h1.45M202.5 354.4h1.45" stroke="#E7298A" stroke-width="1.45" fill="none"/>
<rect x="204.59" y="372.02" width="6.98" height="68.47" fill="#66A61E"/>
<path d="M207.6 346h0" stroke="#66A61E" stroke-width="2.0" stroke-linecap="round" fill="none"/>
<path d="M205.9 376.9v1.2M205.9 375.8v1.2M207.1 374.7v1.2" stroke="#fff" stroke-opacity="0.8" stroke-width="0.9" fill="none"/>
<path d="M204.7 372.3h1.45M204.6 371.2h1.45M204.7 369.8h1.45M204.6 368.9h1.45M204.6 366.6h1.45M204.6 365.4h1.45M204.6 363.3h1.45M204.6 362.3h1.45M204.6 361.2h1.45M204.7 360h1.45M204.7 358.8h1.45M204.6 357.9h1.45M204.6 356.8h1.45M204.6 355.8h1.45M204.6 353.3h1.45M204.6 352.2h1.45M205.8 372h1.45M205.8 369.9h1.45M205.6 367.8h1.45M205.7 365.4h1.45M205.7 362.1h1.45M205.6 361h1.45M205.8 360.1h1.45M206.7 372.2h1.45M206.7 366.7h1.45M206.7 365.4h1.45M206.7 363.4h1.45M206.9 362.3h1.45M206.8 361.3h1.45M206.8 359h1.45M206.7 357.9h1.45M206.9 356.9h1.45M206.7 353.5h1.45M207.8 372.2h1.45M207.9 371.1h1.45M207.8 367.7h1.45M207.9 366.8h1.45M207.8 365.4h1.45M207.9 364.3h1.45M208 363.2h1.45M207.9 362.2h1.45M208 361.2h1.45M207.9 360h1.45M207.9 357.8h1.45M207.9 356.5h1.45M208 354.4h1.45M209 372.2h1.45M209 371h1.45M209.1 370h1.45M208.9 367.7h1.45M208.9 366.6h1.45M209.1 365.4h1.45M208.9 363.3h1.45M208.9 362.1h1.45M209.1 360.2h1.45M208.9 359h1.45M209 357.9h1.45M209 356.7h1.45M209.1 355.8h1.45M209.2 354.5h1.45M209 353.3h1.45M209 352.5h1.45M210 371.9h1.45M210 370.8h1.45M210.1 369h1.45M210.1 367.6h1.45M210.1 364.4h1.45M210.1 363.3h1.45M210.1 362.4h1.45M210.1 361.3h1.45M210 359.9h1.45M210.1 356.6h1.45" stroke="#66A61E" stroke-width="1.45" fill="none"/>
<rect x="212.56" y="372.02" width="5.48" height="68.47" fill="#E6AB02"/>
<path d="M214.9 328.1h0M214.1 342.6h0" stroke="#E6AB02" stroke-width="2.0" stroke-linecap="round" fill="none"/>
<path d="M214 376.9v1.2M215.1 375.8v1.2M215.1 373.6v1.2M216.3 376.9v1.2M216.2 374.7v1.2" stroke="#fff" stroke-opacity="0.8" stroke-width="0.9" fill="none"/>
<path d="M212.6 372.1h1.45M212.6 370.8h1.45M212.7 368.8h1.45M212.7 367.9h1.45M212.6 365.5h1.45M212.6 364.5h1.45M212.6 362.2h1.45M212.6 361.1h1.45M212.6 360.1h1.45M212.7 357.7h1.45M212.7 356.6h1.45M212.6 354.7h1.45M212.6 353.4h1.45M212.7 350.1h1.45M212.6 349h1.45M213.6 372.1h1.45M213.6 370h1.45M213.5 368.7h1.45M213.6 367.9h1.45M213.4 366.7h1.45M213.6 365.6h1.45M213.5 363.4h1.45M213.4 359h1.45M213.4 356.6h1.45M213.5 355.7h1.45M213.7 353.6h1.45M214.7 372.3h1.45M214.6 369.9h1.45M214.5 366.5h1.45M214.7 365.4h1.45M214.5 364.4h1.45M214.5 360h1.45M214.5 358.9h1.45M214.7 357.6h1.45M214.7 356.7h1.45M214.6 355.5h1.45M214.5 354.6h1.45M214.5 352.3h1.45M214.5 350.1h1.45M215.6 372.1h1.45M215.7 369h1.45M215.7 367.7h1.45M215.7 365.7h1.45M215.6 364.5h1.45M215.5 363.3h1.45M215.6 362.3h1.45M215.5 361h1.45M215.7 359.9h1.45M215.7 356.5h1.45M215.7 355.7h1.45M215.7 349.2h1.45M215.5 345.9h1.45M216.5 372.1h1.45M216.6 369h1.45M216.5 367.7h1.45M216.6 366.5h1.45M216.5 364.4h1.45M216.5 363.2h1.45M216.6 362.4h1.45M216.6 353.6h1.45M216.5 344.4h1.45M213.7 343.3h1.45M214.3 342.3h1.45M213.7 341.3h1.45M214.3 340.3h1.45M214 337.3h1.45M214.1 336.3h1.45M213.7 335.3h1.45M214.3 333.3h1.45" stroke="#E6AB02" stroke-width="1.45" fill="none"/>
<rect x="219.05" y="372.02" width="4.99" height="68.47" fill="#A6761D"/>
<path d="M221.5 339.4h0M221 341.5h0" stroke="#A6761D" stroke-width="2.0" stroke-linecap="round" fill="none"/>
<path d="M219.4 374.7v1.2M220.4 383.5v1.2M221.5 384.6v1.2M221.4 374.7v1.2" stroke="#fff" stroke-opacity="0.8" stroke-width="0.9" fill="none"/>
<path d="M219.1 372.1h1.45M219 370.9h1.45M219.1 370h1.45M219 368.9h1.45M219.2 367.8h1.45M219 365.5h1.45M219 364.5h1.45M219.1 363.2h1.45M219 362.2h1.45M219.1 361h1.45M219 360.1h1.45M219.1 358.9h1.45M219.1 357.7h1.45M219 356.7h1.45M219 355.7h1.45M219 354.4h1.45M219 353.3h1.45M220.1 372h1.45M220.3 370.9h1.45M220.2 369.7h1.45M220.2 367.6h1.45M220.4 364.3h1.45M220.1 361.2h1.45M220.1 358.8h1.45M220.4 356.8h1.45M220.1 355.7h1.45M220.1 354.4h1.45M220.3 353.5h1.45M220.3 352.3h1.45M221.4 372.2h1.45M221.3 371.1h1.45M221.4 369.8h1.45M221.5 367.8h1.45M221.3 366.6h1.45M221.5 365.6h1.45M221.5 364.6h1.45M221.3 363.4h1.45M221.3 362.4h1.45M221.5 361.2h1.45M221.4 360h1.45M221.3 346.7h1.45M222.5 372.2h1.45M222.6 370.9h1.45M222.5 367.7h1.45M222.6 365.6h1.45M222.5 362.2h1.45M222.6 361.1h1.45M222.6 360.2h1.45M222.6 358.9h1.45M222.6 356.9h1.45M222.6 355.6h1.45M222.6 354.4h1.45M222.6 352.5h1.45M222.6 350.2h1.45" stroke="#A6761D" stroke-width="1.45" fill="none"/>
<rect x="225.03" y="372.02" width="4.49" height="68.47" fill="#666666"/>
<path d="M227 333.8h0M227 335.8h0M227.3 342.6h0" stroke="#666666" stroke-width="2.0" stroke-linecap="round" fill="none"/>
<path d="M226.5 387.9v1.2M226.6 380.2v1.2M226.4 374.7v1.2M228.7 376.9v1.2M228.7 375.8v1.2" stroke="#fff" stroke-opacity="0.8" stroke-width="0.9" fill="none"/>
<path d="M225.1 372h1.45M225 371h1.45M225.1 370h1.45M225.1 368.8h1.45M225 367.7h1.45M225.2 366.7h1.45M225.1 365.5h1.45M225.1 352.4h1.45M226.2 372h1.45M226 371.1h1.45M225.9 369h1.45M226.1 367.8h1.45M226 366.8h1.45M226 360.1h1.45M226.1 358.8h1.45M226 357.9h1.45M226 356.6h1.45M226 354.4h1.45M225.9 353.3h1.45M226 351.3h1.45M227.2 372h1.45M227.1 367.6h1.45M227.1 365.4h1.45M227 363.5h1.45M227.2 362.2h1.45M227.1 361h1.45M227 359.9h1.45M227 359h1.45M227.1 357.8h1.45M227 355.5h1.45M227.1 353.4h1.45M227 352.4h1.45M227.1 351.1h1.45M227.1 350.2h1.45M227.9 372h1.45M228.1 371h1.45M227.9 368.8h1.45M228.1 367.7h1.45M228.1 366.7h1.45M228 365.4h1.45M228.1 362.1h1.45M228.1 361.2h1.45M228.1 359h1.45M228 355.4h1.45M228.1 354.5h1.45M228.1 353.4h1.45M228 352.5h1.45M226.6 349.7h1.45M226.7 346.7h1.45M226.9 344.7h1.45M226.3 343.7h1.45M226.7 342.7h1.45M226 339.7h1.45M226.8 338.7h1.45M226.1 337.7h1.45" stroke="#666666" stroke-width="1.45" fill="none"/>
<rect x="230.31" y="372.02" width="4.19" height="68.47" fill="#1B9E77"/>
<path d="M231.9 323.2h0M231.8 335.8h0M232.5 337h0M231.1 347.1h0" stroke="#1B9E77" stroke-width="2.0" stroke-linecap="round" fill="none"/>
<path d="M231.8 382.4v1.2M232.7 380.2v1.2M232.7 378v1.2M232.8 375.8v1.2" stroke="#fff" stroke-opacity="0.8" stroke-width="0.9" fill="none"/>
<path d="M230.3 372h1.45M230.3 369.9h1.45M230.3 368.7h1.45M230.3 367.8h1.45M230.3 366.7h1.45M230.3 365.5h1.45M230.4 364.5h1.45M230.3 363.3h1.45M230.3 362.1h1.45M230.3 359h1.45M230.3 357.8h1.45M230.3 356.6h1.45M231.6 371.9h1.45M231.7 370h1.45M231.7 368.9h1.45M231.8 367.6h1.45M231.6 366.8h1.45M231.8 365.4h1.45M231.5 362.3h1.45M231.6 356.7h1.45M232.9 371.9h1.45M233 371h1.45M232.9 366.6h1.45M233 365.4h1.45M233 362.4h1.45M233 359h1.45M232.9 354.6h1.45" stroke="#1B9E77" stroke-width="1.45" fill="none"/>
<rect x="235.50" y="372.02" width="4.79" height="68.47" fill="#D95F02"/>
<path d="M235.9 385.7v1.2M238.1 386.8v1.2M238 382.4v1.2M239.1 380.2v1.2" stroke="#fff" stroke-opacity="0.8" stroke-width="0.9" fill="none"/>
<line x1="238.79" x2="238.79" y1="353.92" y2="329.04" stroke="#D95F02" stroke-width="1.1"/>
<path d="M235.5 372.1h1.45M235.6 369.9h1.45M235.5 368.8h1.45M235.6 364.4h1.45M235.5 363.2h1.45M235.6 362.2h1.45M235.6 359h1.45M235.5 357.6h1.45M235.6 356.7h1.45M235.5 347.8h1.45M236.7 372.1h1.45M236.5 370.8h1.45M236.7 369.9h1.45M236.6 368.9h1.45M236.5 365.5h1.45M236.5 364.4h1.45M236.7 363.2h1.45M236.5 361.1h1.45M236.7 360.2h1.45M236.6 358.8h1.45M236.5 357.8h1.45M236.6 356.7h1.45M236.7 354.5h1.45M236.8 353.6h1.45M236.6 351.3h1.45M236.6 350h1.45M236.6 349.1h1.45M236.5 348h1.45M236.6 346.9h1.45M237.8 372.1h1.45M237.7 370h1.45M237.8 368.8h1.45M237.7 366.5h1.45M237.8 364.4h1.45M237.6 362.4h1.45M237.7 358.8h1.45M237.6 357.9h1.45M237.7 356.6h1.45M237.6 355.7h1.45M237.6 349.1h1.45M237.6 345.8h1.45M238.8 372h1.45M238.8 371h1.45M238.8 369.8h1.45M238.8 369h1.45M238.8 367.6h1.45M238.8 366.8h1.45M238.7 365.4h1.45M238.8 364.3h1.45M238.8 363.2h1.45M238.8 362.1h1.45M238.8 361.2h1.45M238.7 360.2h1.45M238.8 359.1h1.45M238.7 358h1.45M238.8 356.7h1.45M238.8 355.7h1.45M238.8 354.5h1.45M238.8 353.4h1.45M238.8 352.5h1.45M238.2 360.7h1.45M237.7 357.7h1.45M238.5 356.7h1.45M237.9 349.7h1.45M238.4 348.7h1.45M238.3 347.7h1.45M237.9 346.7h1.45M238.6 342.7h1.45M238.4 341.7h1.45M238.1 340.7h1.45M238.3 339.7h1.45M238.3 337.7h1.45M238.3 336.7h1.45M237.7 335.7h1.45M238.2 334.7h1.45M237.9 332.7h1.45M237.8 331.7h1.45M238 330.7h1.45M238.2 329.7h1.45M238 326.7h1.45M238.6 325.7h1.45M238.6 324.7h1.45M236.1 353.9h1.45M236.2 351.9h1.45M236.5 348.9h1.45M236.8 347.9h1.45M236.5 342.9h1.45M236.5 340.9h1.45M236.4 339.9h1.45" stroke="#D95F02" stroke-width="1.45" fill="none"/>
<rect x="241.18" y="372.02" width="2.99" height="68.47" fill="#7570B3"/>
<path d="M241.8 350.5h0" stroke="#7570B3" stroke-width="2.0" stroke-linecap="round" fill="none"/>
<path d="M242.7 385.7v1.2M242.4 380.2v1.2" stroke="#fff" stroke-opacity="0.8" stroke-width="0.9" fill="none"/>
<path d="M241.2 372.2h1.45M241.2 371.2h1.45M241.2 369.8h1.45M241.2 368.6h1.45M241.3 367.7h1.45M242.7 372.2h1.45M242.7 370.9h1.45M242.7 370.1h1.45M242.7 368.9h1.45M242.6 367.6h1.45M242.6 363.3h1.45" stroke="#7570B3" stroke-width="1.45" fill="none"/>
<rect x="245.07" y="372.02" width="3.49" height="68.47" fill="#E7298A"/>
<path d="M246.7 376.9v1.2" stroke="#fff" stroke-opacity="0.8" stroke-width="0.9" fill="none"/>
<path d="M245.1 372.2h1.45M245.2 368.6h1.45M245.1 363.2h1.45M245.1 361.2h1.45M245.1 358.9h1.45M245.1 358h1.45M245.1 356.8h1.45M245.2 355.5h1.45M245.2 353.5h1.45M245.1 352.5h1.45M245.1 351.2h1.45M245.1 349.2h1.45M246.2 372.1h1.45M246 371h1.45M246.1 369h1.45M246 366.4h1.45M246 364.3h1.45M246.2 361.1h1.45M246.1 360.1h1.45M245.9 358.8h1.45M246 358h1.45M246 355.5h1.45M246.1 354.7h1.45M247 372.2h1.45M247 371h1.45M247 368.8h1.45M247.1 367.7h1.45M247.1 366.6h1.45M247.1 365.6h1.45M244.8 350.7h1.45M245.6 347.7h1.45M245.2 346.7h1.45M245.2 341.7h1.45M245.5 340.7h1.45" stroke="#E7298A" stroke-width="1.45" fill="none"/>
<rect x="249.66" y="372.02" width="2.89" height="68.47" fill="#66A61E"/>
<path d="M250.2 378v1.2M250 374.7v1.2M250.9 375.8v1.2" stroke="#fff" stroke-opacity="0.8" stroke-width="0.9" fill="none"/>
<path d="M249.7 372.1h1.45M249.7 371h1.45M249.7 368.7h1.45M249.7 367.8h1.45M249.8 366.7h1.45M249.7 365.4h1.45M249.7 364.5h1.45M249.7 363.5h1.45M251.1 372.1h1.45M251 371h1.45M251.1 370h1.45M251.1 366.8h1.45M251.1 364.4h1.45M251.1 363.5h1.45M251 362h1.45" stroke="#66A61E" stroke-width="1.45" fill="none"/>
<rect x="253.34" y="372.02" width="2.59" height="68.47" fill="#E6AB02"/>
<path d="M253.5 330.6h0M253.5 347.4h0" stroke="#E6AB02" stroke-width="2.0" stroke-linecap="round" fill="none"/>
<path d="M253.4 372.1h1.45M253.3 371.2h1.45M253.3 366.6h1.45M253.5 365.5h1.45M253.3 364.6h1.45M253.3 363.3h1.45M253.3 362.1h1.45M253.4 359.9h1.45M254.5 372h1.45M254.5 371.1h1.45M254.5 366.6h1.45M254.5 365.6h1.45M254.4 364.3h1.45M254.4 363.3h1.45M254.5 362.4h1.45M254.5 361.3h1.45M254.5 359.9h1.45M254.4 357.8h1.45" stroke="#E6AB02" stroke-width="1.45" fill="none"/>
<rect x="257.33" y="372.02" width="4.39" height="68.47" fill="#A6761D"/>
<path d="M257.3 318h0" stroke="#A6761D" stroke-width="2.0" stroke-linecap="round" fill="none"/>
<path d="M257.5 374.7v1.2M258.6 378v1.2M258.7 376.9v1.2" stroke="#fff" stroke-opacity="0.8" stroke-width="0.9" fill="none"/>
<path d="M257.5 371.2h1.45M257.4 368.7h1.45M257.4 367.7h1.45M257.4 366.5h1.45M257.3 364.2h1.45M257.4 363.4h1.45M257.3 362.1h1.45M257.4 361h1.45M257.4 359h1.45M257.4 357.9h1.45M257.4 352.5h1.45M257.4 349.9h1.45M257.3 349.2h1.45M257.3 345.7h1.45M258.4 372.1h1.45M258.5 371.2h1.45M258.4 370.1h1.45M258.2 368.7h1.45M258.4 367.7h1.45M258.2 365.5h1.45M258.4 364.6h1.45M258.2 361h1.45M259.3 372h1.45M259.3 371.2h1.45M259.4 368.9h1.45M259.3 366.6h1.45M259.3 365.4h1.45M259.2 364.4h1.45M259.2 362.3h1.45M259.2 360.9h1.45M259.3 359.9h1.45M259.3 357.8h1.45M259.2 356.6h1.45M260.3 371.9h1.45M260.2 371.1h1.45M260.3 367.7h1.45M260.2 366.5h1.45M260.2 363.3h1.45M260.2 358.9h1.45M260.3 357.9h1.45M260.2 355.6h1.45M260.3 344.8h1.45M258.4 349.4h1.45M258.3 347.4h1.45M257.8 346.4h1.45M257.8 342.4h1.45M257.8 341.4h1.45M258.2 340.4h1.45M257.6 338.4h1.45M258.3 336.4h1.45M257.5 334.4h1.45M257.8 332.4h1.45M257.8 331.4h1.45" stroke="#A6761D" stroke-width="1.45" fill="none"/>
<line x1="63.25" x2="268.7" y1="274.6" y2="274.6" stroke="#8a8a8a" stroke-width="1.2"/>
<line x1="63.25" x2="268.7" y1="304.15" y2="304.15" stroke="#666" stroke-width="1.15" stroke-dasharray="2.3 1.75" stroke-dashoffset="0.35"/>
<rect x="63.25" y="252.20" width="205.45" height="195.15" fill="none" stroke="#1a1a1a" stroke-width="1.25" stroke-linejoin="round"/>
<line x1="60.05" x2="63.25" y1="439.90" y2="439.90" stroke="#222" stroke-width="1"/>
<text x="56.15" y="441.48" class="tk" font-size="4.4" text-anchor="middle">0</text>
<line x1="60.05" x2="63.25" y1="394.65" y2="394.65" stroke="#222" stroke-width="1"/>
<text x="56.15" y="396.23" class="tk" font-size="4.4" text-anchor="middle">2</text>
<line x1="60.05" x2="63.25" y1="349.40" y2="349.40" stroke="#222" stroke-width="1"/>
<text x="56.15" y="350.98" class="tk" font-size="4.4" text-anchor="middle">4</text>
<line x1="60.05" x2="63.25" y1="304.15" y2="304.15" stroke="#222" stroke-width="1"/>
<text x="56.15" y="305.73" class="tk" font-size="4.4" text-anchor="middle">6</text>
<line x1="60.05" x2="63.25" y1="258.90" y2="258.90" stroke="#222" stroke-width="1"/>
<text x="56.15" y="260.48" class="tk" font-size="4.4" text-anchor="middle">8</text>
<line x1="76.56" x2="76.56" y1="447.35" y2="450.35" stroke="#222" stroke-width="1"/>
<text x="76.56" y="457.15" class="tk" font-size="4.1" text-anchor="middle">1</text>
<line x1="90.32" x2="90.32" y1="447.35" y2="450.35" stroke="#222" stroke-width="1"/>
<text x="90.32" y="457.15" class="tk" font-size="4.1" text-anchor="middle">2</text>
<line x1="103.88" x2="103.88" y1="447.35" y2="450.35" stroke="#222" stroke-width="1"/>
<text x="103.88" y="457.15" class="tk" font-size="4.1" text-anchor="middle">3</text>
<line x1="116.44" x2="116.44" y1="447.35" y2="450.35" stroke="#222" stroke-width="1"/>
<text x="116.44" y="457.15" class="tk" font-size="4.1" text-anchor="middle">4</text>
<line x1="128.81" x2="128.81" y1="447.35" y2="450.35" stroke="#222" stroke-width="1"/>
<text x="128.81" y="457.15" class="tk" font-size="4.1" text-anchor="middle">5</text>
<line x1="141.17" x2="141.17" y1="447.35" y2="450.35" stroke="#222" stroke-width="1"/>
<text x="141.17" y="457.15" class="tk" font-size="4.1" text-anchor="middle">6</text>
<line x1="152.74" x2="152.74" y1="447.35" y2="450.35" stroke="#222" stroke-width="1"/>
<text x="152.74" y="457.15" class="tk" font-size="4.1" text-anchor="middle">7</text>
<line x1="162.71" x2="162.71" y1="447.35" y2="450.35" stroke="#222" stroke-width="1"/>
<text x="162.71" y="457.15" class="tk" font-size="4.1" text-anchor="middle">8</text>
<line x1="171.98" x2="171.98" y1="447.35" y2="450.35" stroke="#222" stroke-width="1"/>
<text x="171.98" y="457.15" class="tk" font-size="4.1" text-anchor="middle">9</text>
<line x1="180.91" x2="180.91" y1="447.35" y2="450.35" stroke="#222" stroke-width="1"/>
<text x="180.91" y="457.15" class="tk" font-size="4.1" text-anchor="middle">10</text>
<line x1="190.13" x2="190.13" y1="447.35" y2="450.35" stroke="#222" stroke-width="1"/>
<text x="190.13" y="457.15" class="tk" font-size="4.1" text-anchor="middle">11</text>
<line x1="200.00" x2="200.00" y1="447.35" y2="450.35" stroke="#222" stroke-width="1"/>
<text x="200.00" y="457.15" class="tk" font-size="4.1" text-anchor="middle">12</text>
<line x1="208.28" x2="208.28" y1="447.35" y2="450.35" stroke="#222" stroke-width="1"/>
<text x="208.28" y="457.15" class="tk" font-size="4.1" text-anchor="middle">13</text>
<line x1="215.06" x2="215.06" y1="447.35" y2="450.35" stroke="#222" stroke-width="1"/>
<text x="215.06" y="457.15" class="tk" font-size="4.1" text-anchor="middle">14</text>
<line x1="221.04" x2="221.04" y1="447.35" y2="450.35" stroke="#222" stroke-width="1"/>
<text x="221.04" y="457.15" class="tk" font-size="4.1" text-anchor="middle">15</text>
<line x1="227.12" x2="227.12" y1="447.35" y2="450.35" stroke="#222" stroke-width="1"/>
<text x="227.12" y="457.15" class="tk" font-size="4.1" text-anchor="middle">16</text>
<line x1="231.81" x2="231.81" y1="447.35" y2="450.35" stroke="#222" stroke-width="1"/>
<text x="231.81" y="457.15" class="tk" font-size="4.1" text-anchor="middle">17</text>
<line x1="237.19" x2="237.19" y1="447.35" y2="450.35" stroke="#222" stroke-width="1"/>
<text x="237.19" y="457.15" class="tk" font-size="4.1" text-anchor="middle">18</text>
<line x1="242.38" x2="242.38" y1="447.35" y2="450.35" stroke="#222" stroke-width="1"/>
<text x="242.38" y="457.15" class="tk" font-size="4.1" text-anchor="middle">19</text>
<line x1="246.76" x2="246.76" y1="447.35" y2="450.35" stroke="#222" stroke-width="1"/>
<text x="246.76" y="457.15" class="tk" font-size="4.1" text-anchor="middle">20</text>
<line x1="250.85" x2="250.85" y1="447.35" y2="450.35" stroke="#222" stroke-width="1"/>
<text x="250.85" y="457.15" class="tk" font-size="4.1" text-anchor="middle">21</text>
<line x1="254.54" x2="254.54" y1="447.35" y2="450.35" stroke="#222" stroke-width="1"/>
<line x1="260.82" x2="260.82" y1="447.35" y2="450.35" stroke="#222" stroke-width="1"/>
<text x="260.82" y="457.15" class="tk" font-size="4.1" text-anchor="middle">X</text>
<text x="153.3" y="466.55" font-size="5.9" textLength="24.4" lengthAdjust="spacingAndGlyphs" class="xt">Chromosome</text>
<text transform="translate(47.60,349.50) rotate(-90)" class="yt" text-anchor="middle" textLength="17" lengthAdjust="spacingAndGlyphs">-log<tspan font-size="3.6" dy="1.3">10</tspan><tspan dy="-1.3">(p)</tspan></text>
<rect x="313.48" y="373.31" width="12.56" height="67.29" fill="#1B9E77"/>
<path d="M314.9 325.8h0M317.6 335.6h0M315 340.7h0M316 346.4h0M321.8 340.7h0M321.8 343.9h0M323 346.4h0" stroke="#1B9E77" stroke-width="2.0" stroke-linecap="round" fill="none"/>
<path d="M313.7 382.7v1.2M313.7 375v1.2M315 386v1.2M316.2 382.7v1.2M317.1 386v1.2M317.2 376.1v1.2M318.1 378.3v1.2M318.2 373.9v1.2M319.2 380.5v1.2M322.5 373.9v1.2M323.7 382.7v1.2M324.7 373.9v1.2" stroke="#fff" stroke-opacity="0.8" stroke-width="0.9" fill="none"/>
<path d="M313.5 373.5h1.45M313.5 371.3h1.45M313.5 369h1.45M313.5 368.1h1.45M313.5 367h1.45M314.5 373.6h1.45M314.7 371.4h1.45M314.6 368.9h1.45M314.5 367.8h1.45M314.4 366.7h1.45M314.4 364.5h1.45M314.6 361.2h1.45M314.7 360.2h1.45M314.6 358.9h1.45M314.5 358.2h1.45M314.7 357h1.45M314.6 354.8h1.45M314.6 353.7h1.45M314.4 352.4h1.45M314.6 351.5h1.45M314.5 350.3h1.45M314.7 348.2h1.45M315.7 373.6h1.45M315.8 372.4h1.45M315.7 370.3h1.45M315.7 369.1h1.45M315.8 367.8h1.45M315.7 367h1.45M315.8 365.6h1.45M315.6 364.8h1.45M315.8 363.3h1.45M315.6 362.5h1.45M315.6 361.2h1.45M315.6 360.3h1.45M315.8 359h1.45M315.8 358.1h1.45M315.7 357.1h1.45M315.8 355.6h1.45M315.7 354.7h1.45M315.6 349.1h1.45M315.7 341.3h1.45M316.8 373.5h1.45M316.7 371h1.45M316.9 368.9h1.45M316.9 367.9h1.45M316.8 366.8h1.45M316.8 365.6h1.45M316.9 363.6h1.45M316.9 362.5h1.45M316.9 360.1h1.45M317 358.9h1.45M316.8 357.8h1.45M316.7 353.4h1.45M317 348.1h1.45M317.8 373.5h1.45M317.9 371.4h1.45M318 370.2h1.45M317.9 369.1h1.45M318 368.1h1.45M318 365.9h1.45M318 364.7h1.45M317.9 363.6h1.45M318 362.4h1.45M317.9 361.3h1.45M318 360.1h1.45M317.9 359.2h1.45M318 358.2h1.45M317.9 357.1h1.45M317.9 354.9h1.45M317.9 353.7h1.45M317.8 352.5h1.45M317.9 350.3h1.45M317.8 349.2h1.45M318 346h1.45M317.8 344.8h1.45M319.1 373.4h1.45M319.1 372.3h1.45M319.2 371.1h1.45M319.2 370.1h1.45M319.2 367.8h1.45M319 367h1.45M318.9 365.6h1.45M319.1 364.6h1.45M318.9 363.6h1.45M318.9 362.3h1.45M319.1 361.4h1.45M318.9 360.1h1.45M318.9 359.1h1.45M319.1 357.1h1.45M319 347h1.45M319 345.9h1.45M320.2 373.3h1.45M320 372.4h1.45M320.3 371.3h1.45M320.2 370h1.45M320.2 367.8h1.45M320.2 365.5h1.45M320.2 364.7h1.45M320.2 363.4h1.45M320 361.1h1.45M320.1 360.2h1.45M320.2 359h1.45M320.2 358.1h1.45M320.2 356.8h1.45M320.1 356h1.45M320.1 341.6h1.45M321.3 373.2h1.45M321.2 370.2h1.45M321.3 369h1.45M321.2 367.8h1.45M321.1 366.9h1.45M321.3 365.6h1.45M321.2 364.6h1.45M321.3 363.4h1.45M321.1 362.4h1.45M321.1 361.4h1.45M321.4 359h1.45M321.2 357.8h1.45M321.2 356.8h1.45M321.4 354.6h1.45M321.2 353.6h1.45M321.3 351.4h1.45M322.4 373.3h1.45M322.3 372.2h1.45M322.5 371.4h1.45M322.3 367.7h1.45M322.3 366.7h1.45M322.4 365.7h1.45M322.5 364.6h1.45M322.4 363.5h1.45M322.5 362.3h1.45M322.4 361.4h1.45M322.4 360.3h1.45M322.4 359.2h1.45M322.3 358.2h1.45M322.2 356.7h1.45M322.3 354.5h1.45M322.4 352.7h1.45M322.5 351.3h1.45M322.3 349.2h1.45M322.3 348.1h1.45M322.3 346.9h1.45M322.4 345.8h1.45M323.4 373.4h1.45M323.6 370.3h1.45M323.4 369.1h1.45M323.6 368h1.45M323.4 365.7h1.45M323.5 364.4h1.45M323.5 363.5h1.45M323.6 362.6h1.45M323.4 359.1h1.45M323.5 357.9h1.45M323.4 356.8h1.45M323.5 355.8h1.45M323.6 354.7h1.45M323.6 353.6h1.45M323.4 352.3h1.45M323.5 351.5h1.45M323.3 348.1h1.45M323.5 346.1h1.45M324.6 373.2h1.45M324.6 372.1h1.45M324.5 371.1h1.45M324.5 370.2h1.45M324.5 366.9h1.45M324.5 364.6h1.45M324.5 363.5h1.45M324.5 360h1.45" stroke="#1B9E77" stroke-width="1.45" fill="none"/>
<rect x="326.54" y="371.26" width="13.56" height="69.34" fill="#D95F02"/>
<path d="M335.2 333.6h0M338.2 335.4h0M331 337.5h0" stroke="#D95F02" stroke-width="2.0" stroke-linecap="round" fill="none"/>
<path d="M326.7 376.3v1.2M327.9 374.1v1.2M328.1 373v1.2M329 385.1v1.2M329.2 375.2v1.2M328.9 373v1.2M330.1 386.2v1.2M331.3 379.6v1.2M331.4 377.4v1.2M333.4 371.9v1.2M334.7 371.9v1.2M335.8 376.3v1.2M335.8 374.1v1.2M335.5 371.9v1.2M336.9 378.5v1.2M336.7 376.3v1.2M336.8 375.2v1.2M337.8 376.3v1.2M338.8 375.2v1.2" stroke="#fff" stroke-opacity="0.8" stroke-width="0.9" fill="none"/>
<path d="M326.6 371.4h1.45M326.5 370.4h1.45M326.5 369.3h1.45M326.5 368.2h1.45M326.6 366.9h1.45M326.5 365.9h1.45M326.6 364.6h1.45M326.7 363.8h1.45M326.5 362.6h1.45M326.5 360.3h1.45M326.5 359.1h1.45M326.6 358.3h1.45M326.6 356.9h1.45M326.7 356.1h1.45M326.5 354.9h1.45M326.5 353.7h1.45M326.5 351.7h1.45M326.6 350.6h1.45M326.5 349.2h1.45M326.7 348.3h1.45M326.5 347h1.45M326.5 346h1.45M326.6 344.9h1.45M326.5 341.7h1.45M326.7 339.3h1.45M327.6 371.3h1.45M327.7 370.4h1.45M327.8 369.1h1.45M327.8 368.1h1.45M327.6 365.9h1.45M327.6 364.9h1.45M327.6 363.7h1.45M327.7 362.7h1.45M327.6 360.4h1.45M327.7 359.2h1.45M327.7 357.2h1.45M327.6 355.9h1.45M327.6 354.7h1.45M327.8 353.6h1.45M327.7 346.2h1.45M327.5 343.9h1.45M328.7 371.2h1.45M328.8 369h1.45M328.9 366.9h1.45M328.8 363.7h1.45M328.8 362.4h1.45M328.6 361.3h1.45M328.8 360.3h1.45M328.7 359.3h1.45M328.9 358.1h1.45M328.9 357.1h1.45M328.8 356h1.45M328.8 352.5h1.45M328.6 350.3h1.45M329.7 371.3h1.45M329.9 368.1h1.45M330 367h1.45M329.9 366h1.45M329.7 364.9h1.45M329.9 363.8h1.45M329.9 362.5h1.45M329.9 361.5h1.45M329.8 360.4h1.45M329.8 358.1h1.45M329.9 354.8h1.45M329.8 353.9h1.45M329.8 352.5h1.45M331 371.4h1.45M331 369h1.45M331 367h1.45M331 366.1h1.45M330.9 364.7h1.45M331 363.7h1.45M330.9 361.3h1.45M330.9 358.4h1.45M330.8 357.2h1.45M331 355.9h1.45M331 353.6h1.45M331 352.7h1.45M330.9 351.4h1.45M331.1 349.2h1.45M331 345h1.45M331.1 343.8h1.45M330.9 339.5h1.45M331.9 371.3h1.45M332.1 370.4h1.45M332.1 368h1.45M332 366.9h1.45M332.1 363.5h1.45M332.1 362.4h1.45M332.1 361.3h1.45M332.2 360.2h1.45M332.2 359.2h1.45M331.9 358.2h1.45M332.1 346.1h1.45M332 339.3h1.45M333.1 371.3h1.45M333.3 370.1h1.45M333.2 369h1.45M333.1 368.1h1.45M333 367h1.45M333.1 364.9h1.45M333.3 363.7h1.45M333.3 362.6h1.45M333.2 361.6h1.45M333.2 360.4h1.45M333.2 358.2h1.45M333.2 357h1.45M333.3 355.9h1.45M333 353.9h1.45M333.1 352.9h1.45M333.1 351.7h1.45M333.1 350.6h1.45M333.2 349.2h1.45M333.2 348.4h1.45M333 346.1h1.45M333.2 339.6h1.45M334.3 370.2h1.45M334.2 369.1h1.45M334.2 365.8h1.45M334.4 362.5h1.45M334.3 358.3h1.45M334.3 357.1h1.45M334.2 355.9h1.45M334.4 354.9h1.45M334.1 353.9h1.45M334.3 352.6h1.45M334.3 351.4h1.45M334.2 350.4h1.45M334.2 348.2h1.45M334.2 347.1h1.45M334.2 345.9h1.45M335.5 371.3h1.45M335.4 369.2h1.45M335.4 367.9h1.45M335.4 366.9h1.45M335.5 366h1.45M335.4 362.7h1.45M335.3 361.3h1.45M335.2 360.3h1.45M335.4 359.4h1.45M335.4 358h1.45M335.3 357.1h1.45M335.5 356h1.45M335.4 354.9h1.45M335.5 353.7h1.45M335.5 351.4h1.45M335.4 349.2h1.45M335.4 345h1.45M335.3 340.7h1.45M335.2 339.6h1.45M336.4 371.3h1.45M336.5 370.4h1.45M336.4 366.8h1.45M336.3 364.8h1.45M336.6 363.7h1.45M336.5 362.4h1.45M336.5 361.5h1.45M336.3 360.2h1.45M336.6 359.4h1.45M336.3 358.3h1.45M336.5 355.9h1.45M336.5 355h1.45M336.5 353.7h1.45M336.6 352.6h1.45M336.5 351.6h1.45M336.5 350.5h1.45M336.4 349.2h1.45M336.5 348.4h1.45M336.5 347.1h1.45M336.4 344h1.45M336.3 342.9h1.45M337.4 371.5h1.45M337.5 370.1h1.45M337.4 369h1.45M337.4 365.9h1.45M337.6 363.7h1.45M337.5 358h1.45M337.5 357.2h1.45M337.6 355.9h1.45M337.5 354.8h1.45M337.6 342.8h1.45M337.5 341.8h1.45M338.6 371.2h1.45M338.6 370.3h1.45M338.7 369.3h1.45M338.7 367.9h1.45M338.5 367.1h1.45M338.5 364.8h1.45M338.7 363.6h1.45M338.7 360.2h1.45M338.7 357.2h1.45M338.6 352.8h1.45M338.6 351.5h1.45M338.7 348.4h1.45M338.5 346h1.45M338.5 344.9h1.45M338.6 339.6h1.45M335.7 349.9h1.45M335.6 348.9h1.45M335.3 347.9h1.45M335.5 345.9h1.45M335.5 344.9h1.45M335.4 343.9h1.45" stroke="#D95F02" stroke-width="1.45" fill="none"/>
<rect x="341.11" y="369.20" width="12.06" height="71.40" fill="#7570B3"/>
<path d="M343.7 326.3h0M343.7 337.5h0" stroke="#7570B3" stroke-width="2.0" stroke-linecap="round" fill="none"/>
<path d="M341.4 370.9v1.2M342.7 379.7v1.2M342.5 377.5v1.2M342.6 369.8v1.2M343.5 384.1v1.2M343.8 376.4v1.2M343.5 373.1v1.2M345.8 370.9v1.2M345.7 369.8v1.2M346.8 380.8v1.2M346.8 372v1.2M348 370.9v1.2M350.2 376.4v1.2M351.4 375.3v1.2M351.2 369.8v1.2" stroke="#fff" stroke-opacity="0.8" stroke-width="0.9" fill="none"/>
<path d="M341.2 369.2h1.45M341.3 367.2h1.45M341.2 366.1h1.45M341.2 365.1h1.45M341.1 363.8h1.45M341.1 362.9h1.45M341.2 361.7h1.45M341.2 360.5h1.45M341.1 359.3h1.45M341.1 358.2h1.45M341.2 357.2h1.45M341.3 356.2h1.45M341.3 354.1h1.45M341.2 352.9h1.45M341.1 351.8h1.45M341.2 349.6h1.45M342.2 369.2h1.45M342.2 368.4h1.45M342 367h1.45M342.1 365.9h1.45M342 364.8h1.45M342.2 361.6h1.45M342.1 359.6h1.45M342.2 358.5h1.45M342.2 357.4h1.45M342.3 355.9h1.45M342.3 354.1h1.45M342.3 352.7h1.45M342.2 351.5h1.45M342.3 350.6h1.45M342.3 349.6h1.45M342.2 347.4h1.45M342.3 346.1h1.45M342.2 344h1.45M342.1 343h1.45M342.1 342h1.45M342.2 337.4h1.45M343.3 369.3h1.45M343.1 367.3h1.45M343.1 366.1h1.45M343.1 364.8h1.45M343.2 363.9h1.45M343.3 361.8h1.45M343.1 359.3h1.45M343.2 358.2h1.45M343.3 357.2h1.45M343.3 356.2h1.45M343.2 354.1h1.45M343.3 352.7h1.45M343.3 351.8h1.45M343.1 350.6h1.45M343.3 348.4h1.45M343.2 344.1h1.45M344.3 369.1h1.45M344.3 368.2h1.45M344.3 367.2h1.45M344.3 366.1h1.45M344.2 363.9h1.45M344.2 362.8h1.45M344.3 361.6h1.45M344.3 360.5h1.45M344.2 359.3h1.45M344.3 358.1h1.45M344.2 357.2h1.45M344.2 356.1h1.45M344.3 354.9h1.45M344.2 347.3h1.45M344.2 340.6h1.45M344.3 336.5h1.45M345.4 369.3h1.45M345.5 368.4h1.45M345.3 364.7h1.45M345.4 363.8h1.45M345.5 362.7h1.45M345.3 360.6h1.45M345.5 359.3h1.45M345.3 358.3h1.45M345.4 357.4h1.45M345.4 356.1h1.45M345.2 354.9h1.45M345.3 353.8h1.45M345.3 352.6h1.45M345.4 351.6h1.45M345.3 346.2h1.45M345.4 341.7h1.45M345.2 339.7h1.45M346.5 369.5h1.45M346.4 367.3h1.45M346.5 366.2h1.45M346.5 363.9h1.45M346.4 362.9h1.45M346.5 361.8h1.45M346.3 360.5h1.45M346.3 359.4h1.45M346.6 356.2h1.45M346.4 355.1h1.45M346.4 351.8h1.45M346.4 349.6h1.45M346.3 348.3h1.45M346.4 347.1h1.45M346.3 344.9h1.45M346.5 342.9h1.45M346.5 341.9h1.45M346.5 340.9h1.45M346.5 339.4h1.45M346.3 338.7h1.45M346.4 337.6h1.45M346.5 336.2h1.45M347.3 369.4h1.45M347.5 368h1.45M347.4 367.2h1.45M347.4 363.7h1.45M347.5 362.7h1.45M347.4 361.8h1.45M347.4 360.3h1.45M347.5 359.5h1.45M347.6 358.2h1.45M347.5 357.2h1.45M347.4 355.2h1.45M347.4 354h1.45M347.4 336.2h1.45M348.4 369.4h1.45M348.5 368.3h1.45M348.6 367.1h1.45M348.5 365.9h1.45M348.5 365.1h1.45M348.5 363.9h1.45M348.5 361.4h1.45M348.5 360.5h1.45M348.5 358.3h1.45M348.7 357.2h1.45M348.6 353.8h1.45M348.5 353h1.45M348.6 351.9h1.45M348.5 350.6h1.45M348.5 347.3h1.45M348.6 346.2h1.45M348.6 344.9h1.45M349.7 369.4h1.45M349.5 368.2h1.45M349.5 367.3h1.45M349.6 364.7h1.45M349.5 363.7h1.45M349.7 362.7h1.45M349.7 361.8h1.45M349.6 358.4h1.45M349.6 357h1.45M349.7 356.2h1.45M349.7 355h1.45M349.7 353.9h1.45M349.6 353h1.45M350.7 369.4h1.45M350.6 368.3h1.45M350.7 367.2h1.45M350.5 366.1h1.45M350.6 363.9h1.45M350.5 361.8h1.45M350.5 359.4h1.45M350.8 358.2h1.45M350.6 357.2h1.45M350.7 355.2h1.45M350.6 352.8h1.45M350.8 346.2h1.45M350.7 341.8h1.45M350.7 340.6h1.45M350.5 337.5h1.45M351.7 369.3h1.45M351.7 368.2h1.45M351.6 365.9h1.45M351.7 362.6h1.45M351.6 361.5h1.45M351.7 360.7h1.45M351.7 359.4h1.45M351.7 357.2h1.45M351.7 356.1h1.45M351.7 355h1.45M351.6 345.2h1.45M351.6 337.3h1.45M351.7 336.2h1.45M346.4 350.9h1.45M346.6 348.9h1.45M346.6 347.9h1.45M346.6 346.9h1.45M346.6 345.9h1.45M346.7 344.9h1.45M347.1 341.9h1.45" stroke="#7570B3" stroke-width="1.45" fill="none"/>
<rect x="354.17" y="369.20" width="12.06" height="71.40" fill="#E7298A"/>
<path d="M362.1 334.3h0M363.2 336.3h0" stroke="#E7298A" stroke-width="2.0" stroke-linecap="round" fill="none"/>
<path d="M354.6 375.3v1.2M355.7 381.9v1.2M355.7 375.3v1.2M355.6 373.1v1.2M356.5 377.5v1.2M356.8 370.9v1.2M357.8 373.1v1.2M358.8 369.8v1.2M359.8 374.2v1.2M360.1 373.1v1.2M361.1 373.1v1.2M362.1 369.8v1.2" stroke="#fff" stroke-opacity="0.8" stroke-width="0.9" fill="none"/>
<path d="M354.2 369.1h1.45M354.2 367.3h1.45M354.2 366.1h1.45M354.3 365.1h1.45M354.2 363.6h1.45M354.2 361.6h1.45M354.2 357.2h1.45M354.2 356.1h1.45M354.2 354.9h1.45M354.2 353.8h1.45M354.2 352.8h1.45M354.2 351.6h1.45M354.2 350.7h1.45M354.2 348.4h1.45M354.2 347.4h1.45M354.3 343.8h1.45M354.2 341.8h1.45M355.1 369.1h1.45M355.1 368.1h1.45M355.3 365.8h1.45M355.2 365h1.45M355.2 363.9h1.45M355.2 362.7h1.45M355.3 361.7h1.45M355.2 359.4h1.45M355.1 349.5h1.45M355.3 345.2h1.45M355.3 340.7h1.45M356.2 369.3h1.45M356.2 368.1h1.45M356.2 365.8h1.45M356.4 364.8h1.45M356.2 363.9h1.45M356.4 362.6h1.45M356.3 361.7h1.45M356.2 360.6h1.45M356.3 359.2h1.45M356.2 358.4h1.45M356.4 357.4h1.45M356.4 356.1h1.45M356.3 353h1.45M356.3 351.7h1.45M356.4 350.6h1.45M356.4 349.7h1.45M356.3 347.4h1.45M357.3 368.1h1.45M357.3 367h1.45M357.4 366h1.45M357.5 364.9h1.45M357.4 363.6h1.45M357.4 362.9h1.45M357.3 361.7h1.45M357.3 348.4h1.45M357.3 344h1.45M358.5 369.5h1.45M358.5 368.4h1.45M358.4 367h1.45M358.5 366.1h1.45M358.3 363.8h1.45M358.5 362.7h1.45M358.5 360.3h1.45M358.5 359.2h1.45M358.5 358.4h1.45M358.4 357.2h1.45M358.3 356.1h1.45M358.4 355.1h1.45M358.5 353.8h1.45M358.5 351.8h1.45M358.3 349.4h1.45M358.5 347.4h1.45M358.3 346.4h1.45M359.5 369.4h1.45M359.5 368.2h1.45M359.6 366h1.45M359.3 365h1.45M359.4 363.8h1.45M359.4 362.7h1.45M359.6 360.5h1.45M359.4 358.3h1.45M359.6 357.1h1.45M359.5 356.3h1.45M359.5 355h1.45M359.5 353.8h1.45M359.6 350.5h1.45M359.5 349.5h1.45M359.6 347.1h1.45M359.6 346.3h1.45M359.5 345h1.45M360.6 369.2h1.45M360.6 368.1h1.45M360.7 366.9h1.45M360.5 365.1h1.45M360.5 364h1.45M360.6 359.3h1.45M360.4 358.4h1.45M360.6 356h1.45M360.5 354.1h1.45M360.6 352.6h1.45M360.6 351.5h1.45M360.5 350.7h1.45M360.6 349.5h1.45M360.4 348.4h1.45M360.5 340.8h1.45M360.7 339.8h1.45M361.7 369.1h1.45M361.6 368.2h1.45M361.7 365h1.45M361.6 363.9h1.45M361.6 361.5h1.45M361.5 360.5h1.45M361.5 359.2h1.45M361.5 358.2h1.45M361.7 357.4h1.45M361.5 351.7h1.45M362.5 369.5h1.45M362.6 368.1h1.45M362.5 367.3h1.45M362.7 366.1h1.45M362.7 364.8h1.45M362.8 361.5h1.45M362.7 360.4h1.45M362.7 359.6h1.45M362.6 357.1h1.45M362.7 356h1.45M362.6 353.9h1.45M362.7 352.7h1.45M362.6 341.7h1.45M363.9 369.2h1.45M363.8 368.3h1.45M363.7 367h1.45M363.7 365.9h1.45M363.8 363.6h1.45M363.7 361.7h1.45M363.7 360.7h1.45M363.8 358.5h1.45M363.7 357.2h1.45M363.7 356.1h1.45M363.8 354.9h1.45M363.7 352.9h1.45M363.6 351.7h1.45M363.8 350.5h1.45M363.8 349.6h1.45M363.6 348.4h1.45M363.8 346.3h1.45M363.7 343.9h1.45M363.8 343h1.45M364.7 369.1h1.45M364.6 367.3h1.45M364.8 366h1.45M364.8 365h1.45M364.8 363.7h1.45M364.6 362.6h1.45M364.8 361.7h1.45M364.7 360.5h1.45M364.8 359.2h1.45M364.8 357.1h1.45M364.7 347.2h1.45M364.8 342h1.45M354.9 352.2h1.45M354.5 351.2h1.45M354.8 349.2h1.45M355.3 348.2h1.45M355.1 347.2h1.45M354.9 346.2h1.45M354.8 345.2h1.45M355.2 344.2h1.45M355.3 343.2h1.45M354.6 342.2h1.45M354.8 341.2h1.45M355.3 340.2h1.45M354.9 338.2h1.45M355.1 337.2h1.45M355.1 336.2h1.45M354.6 335.2h1.45M355.3 333.2h1.45M355.1 332.2h1.45M355 331.2h1.45" stroke="#E7298A" stroke-width="1.45" fill="none"/>
<rect x="367.03" y="369.20" width="10.75" height="71.40" fill="#66A61E"/>
<path d="M370.7 335.4h0M371.8 337.5h0" stroke="#66A61E" stroke-width="2.0" stroke-linecap="round" fill="none"/>
<path d="M367.3 374.2v1.2M368.3 374.2v1.2M368.6 372v1.2M369.5 374.2v1.2M369.4 373.1v1.2M370.8 374.2v1.2M371.7 372v1.2M373 383v1.2M372.9 381.9v1.2M372.7 377.5v1.2M373.9 369.8v1.2M374.9 373.1v1.2M375.1 372v1.2M374.9 369.8v1.2M376.3 377.5v1.2" stroke="#fff" stroke-opacity="0.8" stroke-width="0.9" fill="none"/>
<path d="M367.2 369.4h1.45M367 366h1.45M367.1 365h1.45M367.2 363.8h1.45M367 359.4h1.45M367 356.2h1.45M367.1 355h1.45M367 354.1h1.45M367.1 352.7h1.45M367 351.6h1.45M367.1 350.5h1.45M367 349.5h1.45M367 348.5h1.45M368.2 369.4h1.45M368.3 367h1.45M368.1 366.1h1.45M368.2 364.8h1.45M368.1 363.9h1.45M368.2 362.7h1.45M368.1 361.5h1.45M368.2 360.7h1.45M368.1 357.1h1.45M368.3 354.8h1.45M368.3 353.8h1.45M368.1 349.6h1.45M368.1 348.3h1.45M369.4 369.4h1.45M369.5 368.3h1.45M369.4 366.1h1.45M369.4 365.1h1.45M369.4 363.9h1.45M369.2 362.7h1.45M369.3 361.7h1.45M369.5 360.7h1.45M369.2 359.3h1.45M369.2 358.3h1.45M369.4 357.4h1.45M369.4 353.8h1.45M369.3 352.7h1.45M369.4 351.5h1.45M369.2 350.7h1.45M369.5 349.4h1.45M369.5 346h1.45M369.4 345.1h1.45M370.4 369.2h1.45M370.5 368.4h1.45M370.6 364.8h1.45M370.6 363.9h1.45M370.6 362.8h1.45M370.5 361.4h1.45M370.4 360.5h1.45M370.5 359.3h1.45M370.5 358.4h1.45M370.6 357h1.45M370.6 354.9h1.45M370.4 349.6h1.45M371.6 369.3h1.45M371.6 367h1.45M371.6 366.2h1.45M371.8 365.1h1.45M371.7 363.6h1.45M371.7 360.3h1.45M371.7 359.5h1.45M371.7 357.3h1.45M371.6 354.9h1.45M371.5 353.9h1.45M371.6 353h1.45M371.5 350.5h1.45M371.6 349.4h1.45M373 369.1h1.45M372.9 368.3h1.45M372.7 364.9h1.45M372.9 363.8h1.45M372.9 362.8h1.45M372.8 361.7h1.45M372.7 360.3h1.45M372.7 358.3h1.45M373 357.3h1.45M372.9 356h1.45M372.9 355.2h1.45M372.9 352.9h1.45M372.7 351.7h1.45M374.1 369.1h1.45M374.1 368.4h1.45M374.1 367.2h1.45M373.9 366.2h1.45M374.1 363.7h1.45M374.1 361.6h1.45M374 360.6h1.45M373.9 359.6h1.45M373.9 358.1h1.45M374.1 357.2h1.45M373.9 347.4h1.45M374.1 341.8h1.45M375.2 369.4h1.45M375.1 368.3h1.45M375.2 367.2h1.45M375.1 364.8h1.45M375.2 362.6h1.45M375.2 361.6h1.45M375.1 360.6h1.45M375.2 359.5h1.45M375.1 341.8h1.45M375.1 340.6h1.45M376.3 369.4h1.45M376.3 367.1h1.45M376.2 366.2h1.45M376.3 364.9h1.45M376.3 364h1.45M376.3 362.8h1.45M376.3 361.5h1.45M376.2 360.3h1.45M376.3 349.6h1.45M376.3 341.7h1.45" stroke="#66A61E" stroke-width="1.45" fill="none"/>
<rect x="378.78" y="370.35" width="11.55" height="70.25" fill="#E6AB02"/>
<path d="M384.9 325.1h0M384.9 329.5h0" stroke="#E6AB02" stroke-width="2.0" stroke-linecap="round" fill="none"/>
<path d="M380.3 375.4v1.2M380.2 374.3v1.2M382.6 375.4v1.2M383.6 375.4v1.2M389.1 372.1v1.2" stroke="#fff" stroke-opacity="0.8" stroke-width="0.9" fill="none"/>
<path d="M378.9 370.6h1.45M378.8 368.4h1.45M378.8 363.7h1.45M378.8 361.7h1.45M378.8 353.8h1.45M379.8 370.6h1.45M379.8 368.1h1.45M380 367.3h1.45M380 366.2h1.45M380 364.9h1.45M379.8 364h1.45M379.9 362.9h1.45M380 360.5h1.45M379.9 359.5h1.45M380 345.1h1.45M381 370.3h1.45M381.1 368.1h1.45M381 367.3h1.45M381.1 364.9h1.45M380.9 363.7h1.45M380.9 360.5h1.45M380.9 358.5h1.45M381.2 356.2h1.45M380.9 355.2h1.45M381.1 354h1.45M381.1 349.7h1.45M381.1 348.5h1.45M381.2 345.3h1.45M382.3 370.3h1.45M382.2 368h1.45M382 367.1h1.45M382.2 365.9h1.45M382.3 362.8h1.45M382 361.7h1.45M382.2 360.7h1.45M382.2 359.6h1.45M382.3 358.5h1.45M382.2 357.4h1.45M382.1 356.3h1.45M382.2 354.9h1.45M382.3 354.1h1.45M383.1 370.6h1.45M383.3 369.5h1.45M383.2 368.1h1.45M383.2 367.1h1.45M383.4 365.9h1.45M383.3 362.7h1.45M383.2 359.2h1.45M383.3 356.3h1.45M383.2 355.1h1.45M383.4 354h1.45M383.1 353h1.45M383.3 351.8h1.45M383.4 347.3h1.45M384.4 370.6h1.45M384.4 369.4h1.45M384.3 368.1h1.45M384.3 366h1.45M384.3 365h1.45M384.3 363.8h1.45M384.5 360.6h1.45M384.4 359.3h1.45M384.5 358.2h1.45M384.3 357.2h1.45M384.3 356h1.45M384.5 355.1h1.45M384.4 353.9h1.45M385.5 370.3h1.45M385.4 369.2h1.45M385.7 366.1h1.45M385.6 364.9h1.45M386.5 370.5h1.45M386.8 368.1h1.45M386.5 367h1.45M386.5 365h1.45M386.6 363.9h1.45M386.5 362.8h1.45M386.5 361.5h1.45M386.6 360.5h1.45M386.7 359.3h1.45M386.6 358.2h1.45M386.7 357.3h1.45M386.6 353.8h1.45M386.6 352.7h1.45M386.7 349.7h1.45M387.8 370.6h1.45M387.6 367h1.45M387.6 366h1.45M387.9 364.9h1.45M387.9 363.8h1.45M387.7 361.7h1.45M387.7 360.5h1.45M387.9 359.5h1.45M387.7 358.5h1.45M387.8 355.1h1.45M387.8 353.8h1.45M387.7 352.9h1.45M387.7 351.8h1.45M388.9 370.6h1.45M388.9 369.3h1.45M388.9 366h1.45M388.9 364.9h1.45M388.8 363.6h1.45M388.9 360.4h1.45M388.8 359.6h1.45M388.9 356.1h1.45M388.9 355.2h1.45M388.8 354.1h1.45M388.9 352.8h1.45M385.6 348.9h1.45M385.8 347.9h1.45M385.7 344.9h1.45" stroke="#E6AB02" stroke-width="1.45" fill="none"/>
<rect x="391.34" y="371.49" width="9.54" height="69.11" fill="#A6761D"/>
<path d="M400.2 300h0M400.2 307.5h0M400.2 316.4h0M394.9 337.5h0M394.9 339.5h0M394.9 341.1h0" stroke="#A6761D" stroke-width="2.0" stroke-linecap="round" fill="none"/>
<path d="M391.6 375.4v1.2M393.9 374.3v1.2M393.7 372.1v1.2M395.1 380.9v1.2M396.2 375.4v1.2M397.3 382v1.2M397.1 374.3v1.2" stroke="#fff" stroke-opacity="0.8" stroke-width="0.9" fill="none"/>
<path d="M391.3 371.8h1.45M391.4 370.6h1.45M391.3 367.4h1.45M391.4 366.1h1.45M391.4 348.3h1.45M391.3 347.2h1.45M392.5 371.7h1.45M392.6 369.4h1.45M392.6 368.2h1.45M392.5 367.2h1.45M392.4 366.1h1.45M392.5 365.1h1.45M392.4 364h1.45M392.6 362.7h1.45M392.4 360.8h1.45M392.5 359.4h1.45M392.5 357.4h1.45M392.4 356.3h1.45M392.6 350.5h1.45M392.6 347.5h1.45M393.5 371.6h1.45M393.6 370.3h1.45M393.6 369.6h1.45M393.6 366h1.45M393.5 365h1.45M394.9 370.5h1.45M395 368.3h1.45M394.8 367.1h1.45M395 366.1h1.45M394.7 365.1h1.45M394.9 363.8h1.45M394.7 362.8h1.45M394.9 361.8h1.45M394.8 360.4h1.45M394.8 358.3h1.45M396 371.4h1.45M395.9 370.4h1.45M396 369.3h1.45M396.1 368.4h1.45M395.9 367.1h1.45M395.9 365.9h1.45M395.8 363.8h1.45M396 360.8h1.45M396.1 359.5h1.45M396 358.4h1.45M396 353.8h1.45M397 371.6h1.45M397.2 370.5h1.45M397.2 369.4h1.45M397.2 367.4h1.45M397.1 366h1.45M397.2 365h1.45M397.1 363.9h1.45M397.1 362.8h1.45M397.2 361.6h1.45M397 360.8h1.45M397 357.1h1.45M397.1 356.2h1.45M397.1 354h1.45M397.2 352.9h1.45M397.2 351.7h1.45M397 350.8h1.45M397.2 348.4h1.45M397.2 347.2h1.45M397.2 346.2h1.45M397.1 345.1h1.45M398.2 371.5h1.45M398.2 370.7h1.45M398.3 369.4h1.45M398.1 368.5h1.45M398.1 365h1.45M398.2 362.9h1.45M398.2 361.7h1.45M398.4 360.5h1.45M398.3 358.4h1.45M398.3 357.3h1.45M399.4 371.7h1.45M399.4 370.4h1.45M399.4 369.5h1.45M399.4 368.3h1.45M399.4 367.2h1.45M399.4 364h1.45M399.4 362.8h1.45M399.4 360.6h1.45M394 350.2h1.45M393.9 349.2h1.45M393.6 348.2h1.45M393.8 347.2h1.45M394 344.2h1.45M394.2 343.2h1.45M393.9 342.2h1.45" stroke="#A6761D" stroke-width="1.45" fill="none"/>
<rect x="401.89" y="369.20" width="9.54" height="71.40" fill="#666666"/>
<path d="M404.8 319.4h0M410.3 332.9h0M408.6 334.9h0" stroke="#666666" stroke-width="2.0" stroke-linecap="round" fill="none"/>
<path d="M403.1 380.8v1.2M404.5 369.8v1.2M405.7 378.6v1.2M405.6 374.2v1.2M406.5 372v1.2M407.5 372v1.2M408.7 374.2v1.2M409.9 369.8v1.2" stroke="#fff" stroke-opacity="0.8" stroke-width="0.9" fill="none"/>
<path d="M402 369.3h1.45M401.9 368.2h1.45M402 367h1.45M401.9 365.9h1.45M401.9 364.7h1.45M401.9 363.9h1.45M401.9 362.8h1.45M401.9 361.5h1.45M401.9 359.3h1.45M401.9 358.2h1.45M401.9 356.1h1.45M401.9 352.6h1.45M401.9 351.7h1.45M401.9 350.6h1.45M401.9 349.4h1.45M401.9 347.1h1.45M401.9 343.9h1.45M401.9 343h1.45M402.9 369.4h1.45M402.9 368.3h1.45M403 367.1h1.45M403.2 363.9h1.45M403 362.8h1.45M403.1 361.7h1.45M402.9 360.4h1.45M403.1 359.5h1.45M403 357.3h1.45M403 356.2h1.45M403.1 355h1.45M403.1 353.8h1.45M403 352.8h1.45M403.1 350.6h1.45M403.1 346.4h1.45M404.3 369.3h1.45M404.3 368.3h1.45M404.2 365.9h1.45M404.1 364.9h1.45M404.2 363.8h1.45M404.3 362.8h1.45M404.3 361.4h1.45M404.2 359.3h1.45M404.1 358.1h1.45M404.2 357h1.45M404.2 356h1.45M404.1 354.9h1.45M404.1 353.7h1.45M404.3 350.6h1.45M404.3 349.6h1.45M404.3 347.3h1.45M404.1 344.1h1.45M404.3 343.1h1.45M405.5 369.1h1.45M405.4 368.1h1.45M405.2 367.2h1.45M405.3 366.2h1.45M405.5 364.8h1.45M405.2 363.7h1.45M405.2 361.7h1.45M405.2 360.5h1.45M405.3 356.3h1.45M405.4 354.9h1.45M405.3 352.8h1.45M405.3 349.6h1.45M405.4 347.3h1.45M405.3 346.1h1.45M405.3 345.1h1.45M405.5 344h1.45M406.4 369.2h1.45M406.4 368.2h1.45M406.4 366.1h1.45M406.5 364.9h1.45M406.6 361.5h1.45M406.5 359.5h1.45M406.5 358.3h1.45M406.4 357.1h1.45M406.6 356.2h1.45M406.4 355.1h1.45M406.6 351.6h1.45M406.5 350.7h1.45M406.4 349.7h1.45M406.6 345.3h1.45M406.6 335.2h1.45M407.7 369.4h1.45M407.7 368.2h1.45M407.7 367.1h1.45M407.7 364.8h1.45M407.7 363.7h1.45M407.8 362.9h1.45M407.7 361.6h1.45M407.6 360.6h1.45M407.6 357.2h1.45M407.6 356.3h1.45M407.7 354.8h1.45M407.8 354h1.45M407.7 353h1.45M407.7 351.9h1.45M407.7 350.7h1.45M407.6 349.4h1.45M407.5 348.2h1.45M407.7 347.2h1.45M407.7 346.3h1.45M407.6 344.9h1.45M407.7 344h1.45M407.7 343h1.45M407.6 335.3h1.45M408.8 369.4h1.45M408.9 368.3h1.45M408.9 366h1.45M408.8 364.8h1.45M408.8 363.8h1.45M409 361.5h1.45M408.7 359.5h1.45M408.9 358.4h1.45M408.7 357.3h1.45M408.9 354.8h1.45M408.8 352.9h1.45M410 369.5h1.45M410 368.1h1.45M409.9 366h1.45M409.9 365h1.45M409.9 362.7h1.45M410 360.4h1.45M410 359.4h1.45M409.9 358.3h1.45M410 357h1.45M410 356.1h1.45M410 354.8h1.45M410 349.6h1.45M410 348.2h1.45M409.9 347.4h1.45M410 345.1h1.45M406.6 344.6h1.45M406.9 339.6h1.45M406.5 338.6h1.45" stroke="#666666" stroke-width="1.45" fill="none"/>
<rect x="412.44" y="369.20" width="7.03" height="71.40" fill="#1B9E77"/>
<path d="M414.5 271.7h0M414.5 289h0M414.5 319.4h0M414.5 325.4h0M417 325.8h0M419.2 334.9h0" stroke="#1B9E77" stroke-width="2.0" stroke-linecap="round" fill="none"/>
<path d="M413.7 379.7v1.2M413.7 369.8v1.2M414.8 375.3v1.2M415 374.2v1.2M415.9 383v1.2M416.1 379.7v1.2M417.3 383v1.2M417.2 376.4v1.2M417.1 369.8v1.2" stroke="#fff" stroke-opacity="0.8" stroke-width="0.9" fill="none"/>
<path d="M412.4 369.4h1.45M412.5 368.3h1.45M412.4 367.3h1.45M412.5 366.1h1.45M412.5 363.6h1.45M412.6 362.9h1.45M412.4 361.6h1.45M412.5 360.4h1.45M412.4 359.3h1.45M412.6 358.5h1.45M412.5 357.2h1.45M412.4 354.9h1.45M412.5 353.8h1.45M412.5 351.7h1.45M412.4 349.6h1.45M412.5 348.2h1.45M412.4 347.3h1.45M412.4 346.1h1.45M412.4 344.9h1.45M412.5 343.9h1.45M412.4 343.1h1.45M412.4 341.7h1.45M413.7 369.4h1.45M413.4 368h1.45M413.7 367.2h1.45M413.7 366.2h1.45M413.6 365h1.45M413.5 363.7h1.45M413.5 361.5h1.45M413.5 360.7h1.45M413.6 359.4h1.45M413.6 357h1.45M413.5 356.3h1.45M413.6 355.2h1.45M413.6 354.1h1.45M413.5 349.4h1.45M413.4 348.5h1.45M413.6 346.3h1.45M413.4 345.1h1.45M413.5 344.1h1.45M413.5 341.7h1.45M413.6 339.5h1.45M413.6 337.4h1.45M414.6 368h1.45M414.7 367h1.45M414.7 365.1h1.45M414.5 363.7h1.45M414.6 362.8h1.45M414.5 361.7h1.45M414.7 359.5h1.45M414.6 358.3h1.45M414.6 357h1.45M414.7 355.2h1.45M414.6 353.8h1.45M414.8 344.1h1.45M414.8 343.1h1.45M415.9 369.5h1.45M415.8 367.1h1.45M415.7 366h1.45M415.9 363.9h1.45M415.8 362.7h1.45M415.8 361.6h1.45M415.8 360.6h1.45M415.8 359.2h1.45M415.8 358.3h1.45M415.9 357.2h1.45M415.7 356.1h1.45M415.8 355h1.45M415.7 354h1.45M415.8 352.9h1.45M415.9 351.7h1.45M415.6 350.4h1.45M415.9 348.3h1.45M415.8 346.4h1.45M415.8 345.1h1.45M415.8 344h1.45M415.9 342.8h1.45M416.9 368.2h1.45M416.9 367.2h1.45M416.9 365.9h1.45M417 364.8h1.45M416.8 362.5h1.45M416.8 361.5h1.45M417 359.3h1.45M416.9 358.3h1.45M417 356.1h1.45M417.1 353.7h1.45M416.9 352.8h1.45M416.9 350.8h1.45M418 369.1h1.45M418 368.1h1.45M418 367.3h1.45M418 363.8h1.45M418 362.6h1.45M418 361.7h1.45M418 360.6h1.45M418 358.1h1.45M418 357.1h1.45M418 356.2h1.45M418 354h1.45M418 352.8h1.45M418 351.6h1.45M418 349.5h1.45M417.9 348.3h1.45M418 347.5h1.45M417.9 346.1h1.45M417.9 342.9h1.45M415.6 349.9h1.45M415.1 345.9h1.45M415.5 344.9h1.45M415 343.9h1.45M415.5 342.9h1.45M415.3 341.9h1.45M415.7 340.9h1.45M415.6 339.9h1.45M415.2 338.9h1.45" stroke="#1B9E77" stroke-width="1.45" fill="none"/>
<rect x="420.47" y="368.52" width="8.54" height="72.08" fill="#D95F02"/>
<path d="M423.5 342.7h0M427.7 343.9h0" stroke="#D95F02" stroke-width="2.0" stroke-linecap="round" fill="none"/>
<path d="M420.9 371.3v1.2M421.9 383.4v1.2M421.8 374.6v1.2M422.9 372.4v1.2M424.1 373.5v1.2M423.9 372.4v1.2M423.9 370.2v1.2M425.3 375.7v1.2M425.3 370.2v1.2M427.5 374.6v1.2" stroke="#fff" stroke-opacity="0.8" stroke-width="0.9" fill="none"/>
<path d="M420.6 368.5h1.45M420.6 366.3h1.45M420.5 365.4h1.45M420.5 363.2h1.45M420.5 359.9h1.45M420.5 358.5h1.45M420.5 357.4h1.45M420.5 356.3h1.45M420.6 355.5h1.45M420.5 352.2h1.45M420.5 351.2h1.45M420.6 350.1h1.45M420.5 348.9h1.45M420.5 342.3h1.45M421.5 368.8h1.45M421.6 367.7h1.45M421.6 366.6h1.45M421.8 364.1h1.45M421.7 363h1.45M421.6 362.2h1.45M421.7 359.9h1.45M421.8 356.6h1.45M421.7 355.4h1.45M421.7 354.2h1.45M421.7 350.8h1.45M421.7 349.9h1.45M421.6 346.6h1.45M422.9 368.7h1.45M422.9 366.5h1.45M422.8 365.3h1.45M422.9 363.3h1.45M422.7 360.8h1.45M422.7 359.9h1.45M422.8 343.4h1.45M424.1 368.7h1.45M423.9 367.6h1.45M423.9 365.1h1.45M424 363.1h1.45M424 362.2h1.45M424 360.8h1.45M423.9 359.7h1.45M424.1 358.6h1.45M423.9 357.8h1.45M424.1 356.7h1.45M423.9 355.6h1.45M424 353.3h1.45M424.1 350.9h1.45M423.9 348.9h1.45M424.1 347.7h1.45M425.2 368.7h1.45M425.1 367.5h1.45M425.2 365.2h1.45M425.2 363h1.45M425.1 362.1h1.45M425.2 358.6h1.45M425.2 355.3h1.45M425.2 350.1h1.45M426.4 367.6h1.45M426.5 366.5h1.45M426.3 365.3h1.45M426.5 363.2h1.45M426.5 362h1.45M426.4 360.8h1.45M426.3 359.9h1.45M426.3 358.8h1.45M426.3 356.7h1.45M426.4 355.5h1.45M426.4 351h1.45M426.3 350h1.45M426.4 348.7h1.45M426.5 347.5h1.45M427.5 368.4h1.45M427.5 367.4h1.45M427.5 366.3h1.45M427.6 361.9h1.45M427.6 361h1.45M427.6 358.7h1.45M427.5 356.3h1.45M427.6 355.5h1.45M427.6 353.1h1.45M427.6 352.1h1.45M427.6 349.9h1.45M427.5 342.4h1.45" stroke="#D95F02" stroke-width="1.45" fill="none"/>
<rect x="430.02" y="370.35" width="8.54" height="70.25" fill="#7570B3"/>
<path d="M436 320.1h0M436 334.7h0M436 337.5h0M433.5 341.8h0M436.5 340.7h0" stroke="#7570B3" stroke-width="2.0" stroke-linecap="round" fill="none"/>
<path d="M431.5 371v1.2M432.5 387.5v1.2M433.6 377.6v1.2M434.6 378.7v1.2M435.7 384.2v1.2" stroke="#fff" stroke-opacity="0.8" stroke-width="0.9" fill="none"/>
<path d="M430.2 370.4h1.45M430.1 369.5h1.45M430.1 367.3h1.45M430 365.9h1.45M430 364.8h1.45M430 362.8h1.45M430 361.8h1.45M430 360.5h1.45M430 359.3h1.45M430 357.3h1.45M430 356h1.45M430.1 354h1.45M430.1 352.9h1.45M430 351.8h1.45M430.1 350.7h1.45M430.1 348.3h1.45M431.3 370.3h1.45M431.1 369.4h1.45M431.1 368.3h1.45M431.3 367.1h1.45M431.1 365.9h1.45M431.1 364.8h1.45M431.2 362.8h1.45M431.2 361.5h1.45M431.3 358.3h1.45M431.3 356.2h1.45M431.1 350.5h1.45M431.1 346.4h1.45M431.2 345.2h1.45M431.1 343h1.45M432.4 370.5h1.45M432.3 368.2h1.45M432.5 367.2h1.45M432.3 364.9h1.45M433.7 370.4h1.45M433.6 369.2h1.45M433.5 366.2h1.45M433.7 365.1h1.45M433.5 364h1.45M433.5 360.6h1.45M433.7 359.4h1.45M433.5 349.4h1.45M433.4 345.2h1.45M434.9 370.4h1.45M434.7 367.1h1.45M434.8 366h1.45M434.7 364.9h1.45M434.6 363.7h1.45M434.6 362.8h1.45M434.7 361.7h1.45M434.9 360.6h1.45M434.7 359.5h1.45M434.7 358.5h1.45M434.8 355.1h1.45M434.8 353.9h1.45M434.8 352.8h1.45M434.7 349.4h1.45M435.8 370.3h1.45M436 369.5h1.45M436 368.1h1.45M435.9 366h1.45M436 365.1h1.45M435.8 363.9h1.45M435.8 362.7h1.45M435.8 359.4h1.45M435.8 358.4h1.45M435.8 357.3h1.45M435.9 356.3h1.45M435.8 355h1.45M435.9 353.8h1.45M436 353h1.45M435.9 349.5h1.45M436 345.2h1.45M437.1 370.6h1.45M437.1 369.2h1.45M437.1 368.1h1.45M437.1 367.3h1.45M437 366.2h1.45M437.1 365h1.45M437 363.9h1.45M437.1 362.7h1.45M437.1 360.5h1.45M437.1 359.5h1.45M437.1 358.5h1.45M437.1 357h1.45M437 356h1.45M437.1 349.7h1.45M437 345.3h1.45" stroke="#7570B3" stroke-width="1.45" fill="none"/>
<rect x="439.56" y="369.20" width="8.54" height="71.40" fill="#E7298A"/>
<path d="M443.5 329.7h0" stroke="#E7298A" stroke-width="2.0" stroke-linecap="round" fill="none"/>
<path d="M439.9 385.2v1.2M441 373.1v1.2M442 377.5v1.2M442.1 369.8v1.2M444.1 375.3v1.2M444.2 374.2v1.2M444.4 369.8v1.2M445.5 380.8v1.2M446.5 379.7v1.2" stroke="#fff" stroke-opacity="0.8" stroke-width="0.9" fill="none"/>
<path d="M439.7 369.2h1.45M439.6 368.2h1.45M439.6 367.2h1.45M439.7 365.9h1.45M439.7 361.6h1.45M439.6 360.6h1.45M439.7 358.3h1.45M439.6 357h1.45M439.6 356h1.45M439.6 354.9h1.45M439.6 354h1.45M439.7 353h1.45M439.6 351.7h1.45M439.6 350.4h1.45M439.6 349.3h1.45M439.6 347.4h1.45M439.6 346.2h1.45M439.7 345.1h1.45M439.6 343.9h1.45M439.6 343h1.45M440.8 369.5h1.45M440.7 367.3h1.45M440.8 365.9h1.45M440.8 363.6h1.45M440.8 362.9h1.45M440.7 361.8h1.45M440.9 360.3h1.45M440.7 359.4h1.45M440.7 355.1h1.45M440.8 353.8h1.45M440.6 352.9h1.45M440.7 347.4h1.45M440.7 344h1.45M442 369.3h1.45M441.8 368h1.45M442 367.1h1.45M442.1 364.8h1.45M442 364h1.45M441.9 362.9h1.45M441.8 361.6h1.45M442 360.5h1.45M441.8 358.5h1.45M442 356h1.45M442.1 354.8h1.45M442.1 354h1.45M442 352.6h1.45M441.9 350.7h1.45M441.8 349.4h1.45M442 348.6h1.45M441.8 347.3h1.45M442 346.3h1.45M442 344.9h1.45M441.9 344h1.45M441.9 342.7h1.45M441.8 341.9h1.45M443.1 369.1h1.45M443.1 368.3h1.45M443.1 365.9h1.45M443.1 363.7h1.45M443.1 362.5h1.45M443.2 361.6h1.45M443.3 359.5h1.45M443 358.4h1.45M443.1 354.9h1.45M443.1 353.7h1.45M443.1 352.8h1.45M443.2 351.5h1.45M443.2 349.4h1.45M443.2 347.2h1.45M443.2 346.1h1.45M443.2 345.2h1.45M443 344.1h1.45M443.1 343h1.45M444.3 369.1h1.45M444.3 368h1.45M444.2 367h1.45M444.2 366h1.45M444.4 364h1.45M444.2 361.7h1.45M444.2 360.6h1.45M444.4 359.4h1.45M444.4 358.3h1.45M444.3 357.4h1.45M444.4 356.3h1.45M444.4 353.9h1.45M444.4 353h1.45M444.1 351.8h1.45M444.2 350.4h1.45M444.4 349.4h1.45M444.2 348.3h1.45M444.4 346.1h1.45M444.2 344h1.45M444.4 343h1.45M444.3 338.7h1.45M445.3 369.4h1.45M445.4 366h1.45M445.6 364.7h1.45M445.6 362.7h1.45M445.5 361.5h1.45M445.4 360.6h1.45M445.4 358.4h1.45M445.3 357.1h1.45M445.5 347.3h1.45M445.6 342.8h1.45M445.4 340.6h1.45M446.6 369.3h1.45M446.6 365.9h1.45M446.7 364.8h1.45M446.6 363.8h1.45M446.7 361.5h1.45M446.5 360.4h1.45M446.7 359.3h1.45M446.7 358.5h1.45M446.6 357.1h1.45M446.7 356.3h1.45M446.7 354.9h1.45M446.7 352.7h1.45M446.6 351.9h1.45M446.7 350.6h1.45M446.5 349.7h1.45M446.7 348.2h1.45M446.7 347.2h1.45M446.6 346.2h1.45M446.6 339.5h1.45M445.1 350.9h1.45M444.8 349.9h1.45M445.2 348.9h1.45M445.5 347.9h1.45M445 346.9h1.45M445 345.9h1.45M444.7 344.9h1.45M445.4 343.9h1.45M444.7 340.9h1.45M445.2 338.9h1.45M444.9 337.9h1.45" stroke="#E7298A" stroke-width="1.45" fill="none"/>
<rect x="448.60" y="366.92" width="7.03" height="73.68" fill="#66A61E"/>
<path d="M454 329.7h0M454 334.9h0M454 339.5h0" stroke="#66A61E" stroke-width="2.0" stroke-linecap="round" fill="none"/>
<path d="M448.7 378.5v1.2M448.9 373v1.2M450.1 367.5v1.2M451.1 368.6v1.2M452.2 369.7v1.2M452 368.6v1.2M454.4 367.5v1.2" stroke="#fff" stroke-opacity="0.8" stroke-width="0.9" fill="none"/>
<path d="M448.6 367h1.45M448.6 365.9h1.45M448.7 364.7h1.45M448.6 363.5h1.45M448.6 362.5h1.45M448.7 361.3h1.45M448.6 359.2h1.45M448.6 357.2h1.45M448.7 355.1h1.45M448.6 352.9h1.45M449.9 367.1h1.45M449.8 364.9h1.45M449.7 363.7h1.45M449.8 362.7h1.45M449.7 361.4h1.45M449.6 360.3h1.45M449.8 358.2h1.45M449.7 357.1h1.45M449.8 355.9h1.45M449.7 355h1.45M449.8 353.7h1.45M449.6 351.8h1.45M449.7 350.4h1.45M450.8 364.8h1.45M451 363.6h1.45M450.7 362.5h1.45M450.7 360.3h1.45M450.8 357.2h1.45M450.7 356.1h1.45M450.8 354.7h1.45M450.7 352.6h1.45M451 351.5h1.45M450.8 350.4h1.45M450.9 349.4h1.45M452 367.1h1.45M451.9 365.8h1.45M451.9 364.9h1.45M451.9 363.5h1.45M452 362.6h1.45M452 360.5h1.45M451.8 358.3h1.45M451.8 357.2h1.45M452.1 355.1h1.45M451.8 352.7h1.45M451.9 351.8h1.45M452 346.1h1.45M453.1 367.1h1.45M452.9 363.8h1.45M453.2 362.6h1.45M453 360.6h1.45M453.1 359.5h1.45M453.2 358.4h1.45M453 357.3h1.45M453 356h1.45M453 354.9h1.45M452.9 353.8h1.45M454.2 366.8h1.45M454.1 366h1.45M454.2 364.8h1.45M454.1 363.8h1.45M454.1 362.5h1.45M454.2 361.6h1.45M454.1 360.6h1.45M454.1 359.2h1.45M454.1 357.2h1.45M454.2 354h1.45M454.2 352.6h1.45M454.1 351.7h1.45M454.2 350.6h1.45M454.2 349.4h1.45" stroke="#66A61E" stroke-width="1.45" fill="none"/>
<rect x="456.64" y="373.77" width="5.53" height="66.83" fill="#E6AB02"/>
<path d="M462.6 332.2h0M462.2 346.4h0" stroke="#E6AB02" stroke-width="2.0" stroke-linecap="round" fill="none"/>
<path d="M458.1 381v1.2M458 377.7v1.2M459.3 375.5v1.2M460.1 382.1v1.2M460.3 375.5v1.2M461.5 375.5v1.2" stroke="#fff" stroke-opacity="0.8" stroke-width="0.9" fill="none"/>
<path d="M456.7 373.8h1.45M456.6 372.9h1.45M456.7 370.6h1.45M456.8 369.3h1.45M456.7 366.3h1.45M456.6 365.1h1.45M456.6 363.8h1.45M456.7 363h1.45M456.8 359.4h1.45M456.7 358.3h1.45M456.6 352.8h1.45M457.6 373.7h1.45M457.8 372.7h1.45M457.7 371.8h1.45M457.6 369.4h1.45M457.7 367.1h1.45M457.6 366.3h1.45M457.5 365.1h1.45M457.7 362.9h1.45M457.6 361.6h1.45M457.6 360.7h1.45M457.7 358.5h1.45M457.6 357.5h1.45M457.8 356.5h1.45M457.7 351.7h1.45M457.7 350.8h1.45M457.6 349.5h1.45M457.6 347.5h1.45M458.7 374h1.45M458.5 371.8h1.45M458.8 370.8h1.45M458.8 369.5h1.45M458.6 366.1h1.45M458.6 365.2h1.45M458.8 363.8h1.45M458.6 363h1.45M458.8 362h1.45M458.7 360.5h1.45M458.6 359.6h1.45M458.7 352h1.45M458.7 348.5h1.45M459.8 374.1h1.45M459.6 372.7h1.45M459.6 371.6h1.45M459.6 370.5h1.45M459.7 369.6h1.45M459.6 368.3h1.45M459.6 367.2h1.45M459.7 366h1.45M459.8 365h1.45M459.7 364.1h1.45M459.6 363h1.45M459.7 361.9h1.45M459.7 360.5h1.45M459.7 358.3h1.45M459.6 355.2h1.45M460.7 373.7h1.45M460.7 372.6h1.45M460.6 371.5h1.45M460.7 370.7h1.45M460.7 369.3h1.45M460.6 368.4h1.45M460.7 365h1.45M460.7 364.1h1.45M460.6 361.8h1.45M460.6 360.5h1.45M460.7 352h1.45M460.7 350.7h1.45" stroke="#E6AB02" stroke-width="1.45" fill="none"/>
<rect x="463.17" y="358.93" width="5.02" height="81.67" fill="#A6761D"/>
<path d="M465.1 321.2h0" stroke="#A6761D" stroke-width="2.0" stroke-linecap="round" fill="none"/>
<path d="M464.5 359.6v1.2" stroke="#fff" stroke-opacity="0.8" stroke-width="0.9" fill="none"/>
<path d="M463.2 359h1.45M463.3 357.8h1.45M463.2 357h1.45M463.2 355.7h1.45M463.2 354.7h1.45M463.3 352.5h1.45M463.2 350.1h1.45M463.2 341.6h1.45M464.4 359h1.45M464.4 356.7h1.45M464.5 355.7h1.45M464.4 354.8h1.45M464.5 353.5h1.45M464.3 352.4h1.45M464.5 351.5h1.45M464.5 348.1h1.45M465.6 359h1.45M465.6 358h1.45M465.6 356.7h1.45M465.6 355.5h1.45M465.5 354.5h1.45M465.6 353.5h1.45M465.4 351.5h1.45M465.6 350.4h1.45M465.5 349.3h1.45M465.7 348h1.45M465.5 347.1h1.45M466.7 358.9h1.45M466.7 358h1.45M466.7 353.5h1.45M466.7 351.3h1.45M466.6 350.1h1.45M466.7 345.8h1.45M466.6 344.5h1.45M464.4 346.5h1.45M463.9 345.5h1.45M464.4 343.5h1.45M464.1 342.5h1.45M464.3 339.5h1.45M463.8 338.5h1.45M464.2 336.5h1.45M464.5 335.5h1.45M464 334.5h1.45M464.5 333.5h1.45M463.8 330.5h1.45M464.6 329.5h1.45M463.9 328.5h1.45" stroke="#A6761D" stroke-width="1.45" fill="none"/>
<rect x="469.20" y="366.92" width="4.52" height="73.68" fill="#666666"/>
<path d="M472.7 333.1h0M472.7 337.2h0M472.7 338.4h0" stroke="#666666" stroke-width="2.0" stroke-linecap="round" fill="none"/>
<path d="M471.8 368.6v1.2M471.6 367.5v1.2M472.9 373v1.2" stroke="#fff" stroke-opacity="0.8" stroke-width="0.9" fill="none"/>
<path d="M469.3 367h1.45M469.2 364.9h1.45M469.2 363.7h1.45M469.2 361.6h1.45M469.2 360.3h1.45M469.3 357.2h1.45M469.2 356h1.45M469.2 354.9h1.45M469.3 353.8h1.45M469.3 352.8h1.45M469.3 350.3h1.45M469.3 349.6h1.45M469.2 348.5h1.45M470.2 367.2h1.45M470.3 364.9h1.45M470.2 362.7h1.45M470.1 360.5h1.45M470.3 358.1h1.45M470.4 341.9h1.45M471.3 367.1h1.45M471.3 365.9h1.45M471.3 364.8h1.45M471.1 363.8h1.45M471.2 362.6h1.45M471.1 361.3h1.45M471.3 360.5h1.45M471.2 359.4h1.45M471.4 358h1.45M471.3 357.3h1.45M471.3 356.1h1.45M471.2 354.7h1.45M471.1 353.8h1.45M471.1 352.7h1.45M471.3 351.8h1.45M471.4 350.7h1.45M472.3 366.9h1.45M472.2 365.9h1.45M472.2 363.7h1.45M472.2 362.5h1.45M472.3 361.4h1.45M472.2 360.3h1.45M472.3 359.5h1.45M472.2 358.3h1.45M472.1 356.9h1.45M472.3 356.1h1.45M472.3 354.8h1.45M472.3 352.8h1.45M472.3 350.7h1.45M472.2 341.7h1.45" stroke="#666666" stroke-width="1.45" fill="none"/>
<rect x="474.52" y="362.35" width="4.22" height="78.25" fill="#1B9E77"/>
<path d="M477.7 345.2h0" stroke="#1B9E77" stroke-width="2.0" stroke-linecap="round" fill="none"/>
<path d="M474.9 368.5v1.2M476 377.3v1.2M477.2 363v1.2" stroke="#fff" stroke-opacity="0.8" stroke-width="0.9" fill="none"/>
<path d="M474.6 362.4h1.45M474.6 361.5h1.45M474.6 360.2h1.45M474.5 359.3h1.45M474.5 358.2h1.45M474.5 355.8h1.45M474.5 354.7h1.45M474.5 349.1h1.45M474.5 343.6h1.45M474.6 341.5h1.45M475.5 362.3h1.45M475.4 360.3h1.45M475.3 356.8h1.45M475.4 354.8h1.45M475.3 352.6h1.45M475.6 351.5h1.45M475.3 349.2h1.45M476.2 362.6h1.45M476.3 361.4h1.45M476.2 360.1h1.45M476.4 359.2h1.45M476.2 358.2h1.45M476.3 356.9h1.45M476.5 355.8h1.45M476.4 354.6h1.45M476.3 353.5h1.45M476.4 352.4h1.45M476.4 349.3h1.45M476.3 348.1h1.45M476.2 347h1.45M477.1 362.6h1.45M477.3 359.4h1.45M477.3 358.1h1.45M477.2 357h1.45M477.2 356h1.45M477.2 352.5h1.45M477.3 351.5h1.45M477.3 350.4h1.45M477.3 341.5h1.45" stroke="#1B9E77" stroke-width="1.45" fill="none"/>
<rect x="479.75" y="357.78" width="4.82" height="82.82" fill="#D95F02"/>
<path d="M481.6 317.4h0M484.4 329h0M482 332.7h0M481.8 338.4h0M483.8 338.4h0" stroke="#D95F02" stroke-width="2.0" stroke-linecap="round" fill="none"/>
<path d="M480.1 358.4v1.2M481 359.5v1.2M482.2 359.5v1.2M483.2 363.9v1.2" stroke="#fff" stroke-opacity="0.8" stroke-width="0.9" fill="none"/>
<path d="M479.8 357.8h1.45M479.7 356.7h1.45M479.8 355.8h1.45M479.7 354.4h1.45M479.8 353.4h1.45M479.8 350.3h1.45M479.9 346h1.45M479.8 344.6h1.45M480.9 357.7h1.45M481 356.8h1.45M480.9 355.6h1.45M480.9 352.4h1.45M480.7 351.1h1.45M480.8 349.1h1.45M481 347.8h1.45M480.7 346.9h1.45M480.9 345.7h1.45M481 344.6h1.45M480.7 341.5h1.45M482.1 357.9h1.45M482 355.5h1.45M481.9 354.6h1.45M481.9 350.1h1.45M482.1 342.5h1.45M483.1 357.8h1.45M483.1 356.6h1.45M483.1 355.7h1.45M483.1 354.6h1.45M483.1 349.2h1.45M483 344.6h1.45M483.1 343.8h1.45M482.9 350.9h1.45M482.6 349.9h1.45M482.5 348.9h1.45M483 347.9h1.45M482.5 346.9h1.45M482.6 344.9h1.45M482.5 341.9h1.45" stroke="#D95F02" stroke-width="1.45" fill="none"/>
<rect x="485.47" y="355.50" width="3.01" height="85.10" fill="#7570B3"/>
<path d="M488.3 327.9h0M488.3 331.1h0" stroke="#7570B3" stroke-width="2.0" stroke-linecap="round" fill="none"/>
<path d="M485.9 369.3v1.2M485.8 357.2v1.2M486.9 371.5v1.2" stroke="#fff" stroke-opacity="0.8" stroke-width="0.9" fill="none"/>
<path d="M485.5 355.5h1.45M485.5 354.7h1.45M485.6 353.3h1.45M485.5 352.5h1.45M485.5 351.2h1.45M485.6 349.1h1.45M485.5 348h1.45M487 355.6h1.45M487 354.5h1.45M487 353.6h1.45M486.9 352.3h1.45M487 351.4h1.45M487 350.3h1.45M486.9 345.6h1.45M486.9 350.9h1.45M487.6 348.9h1.45M487 345.9h1.45M486.8 344.9h1.45M487.3 343.9h1.45M487.1 342.9h1.45M487.3 339.9h1.45" stroke="#7570B3" stroke-width="1.45" fill="none"/>
<rect x="489.39" y="360.07" width="3.52" height="80.53" fill="#E7298A"/>
<path d="M489.7 372.8v1.2M489.6 370.6v1.2M490.9 370.6v1.2M492 366.2v1.2" stroke="#fff" stroke-opacity="0.8" stroke-width="0.9" fill="none"/>
<path d="M489.5 360.1h1.45M489.4 359.2h1.45M489.4 358h1.45M489.5 357h1.45M489.4 354.8h1.45M489.5 353.7h1.45M489.5 352.5h1.45M489.4 350.4h1.45M490.5 360.1h1.45M490.4 358.9h1.45M490.4 357.8h1.45M490.5 356.8h1.45M490.4 354.7h1.45M490.4 353.7h1.45M490.4 352.6h1.45M490.5 351.2h1.45M490.3 350.2h1.45M490.4 349.2h1.45M491.5 360.3h1.45M491.4 358.9h1.45M491.5 358h1.45M491.4 355.6h1.45M491.4 354.5h1.45M491.3 353.7h1.45M491.5 352.3h1.45M491.3 351.2h1.45M491.4 350.1h1.45M491.3 349h1.45M491.4 349.9h1.45M491.8 347.9h1.45M491.9 345.9h1.45M491.4 341.9h1.45M491.5 340.9h1.45M491.6 339.9h1.45M491.6 338.9h1.45M491.5 337.9h1.45M491.6 336.9h1.45M491.1 334.9h1.45" stroke="#E7298A" stroke-width="1.45" fill="none"/>
<rect x="494.01" y="360.07" width="2.91" height="80.53" fill="#66A61E"/>
<path d="M495.8 342.7h0M495.8 345.2h0" stroke="#66A61E" stroke-width="2.0" stroke-linecap="round" fill="none"/>
<path d="M494.2 364v1.2M495.5 370.6v1.2" stroke="#fff" stroke-opacity="0.8" stroke-width="0.9" fill="none"/>
<path d="M494.1 360.3h1.45M494 359.2h1.45M494.1 354.7h1.45M495.5 360.3h1.45M495.5 357.9h1.45M495.4 356.9h1.45M495.4 356h1.45M495.5 353.7h1.45M495.5 350.4h1.45M495.4 349.2h1.45M495.5 348h1.45" stroke="#66A61E" stroke-width="1.45" fill="none"/>
<rect x="497.73" y="366.92" width="2.61" height="73.68" fill="#E6AB02"/>
<path d="M499.4 341.6h0M499.4 347.5h0" stroke="#E6AB02" stroke-width="2.0" stroke-linecap="round" fill="none"/>
<path d="M499.3 368.6v1.2" stroke="#fff" stroke-opacity="0.8" stroke-width="0.9" fill="none"/>
<path d="M497.7 366.8h1.45M497.8 363.7h1.45M497.7 361.4h1.45M497.9 360.6h1.45M497.7 359.3h1.45M497.8 358.4h1.45M497.8 355h1.45M497.7 353.7h1.45M497.7 352.8h1.45M498.9 366.9h1.45M498.8 366h1.45M498.9 364.8h1.45M498.8 363.6h1.45M498.8 362.7h1.45M498.9 361.7h1.45M498.9 358.4h1.45M498.8 354.8h1.45M498.9 351.7h1.45" stroke="#E6AB02" stroke-width="1.45" fill="none"/>
<rect x="501.75" y="355.04" width="4.42" height="85.56" fill="#A6761D"/>
<path d="M505.2 331.1h0M505.2 335.4h0M505.2 339.5h0M505.2 343.6h0" stroke="#A6761D" stroke-width="2.0" stroke-linecap="round" fill="none"/>
<path d="M502.2 367.8v1.2M502.2 366.7v1.2M504.4 357.9v1.2M505.3 362.3v1.2" stroke="#fff" stroke-opacity="0.8" stroke-width="0.9" fill="none"/>
<path d="M501.7 354h1.45M501.8 353h1.45M501.8 351.7h1.45M502.6 355.1h1.45M502.9 354.2h1.45M502.7 351.7h1.45M502.6 349.6h1.45M503.7 355.1h1.45M503.7 353h1.45M503.8 350.8h1.45M503.8 349.6h1.45M503.6 348.6h1.45M504.7 355h1.45M504.7 354.2h1.45M504.7 352.8h1.45M504.6 351.7h1.45M504.6 350.9h1.45M504.7 346.5h1.45M504.7 344.1h1.45" stroke="#A6761D" stroke-width="1.45" fill="none"/>
<line x1="306.2" x2="513.2" y1="273.1" y2="273.1" stroke="#959595" stroke-width="1.6"/>
<line x1="306.2" x2="513.2" y1="302.98" y2="302.98" stroke="#666" stroke-width="1.15" stroke-dasharray="2.3 1.75" stroke-dashoffset="0.35"/>
<rect x="306.20" y="250.20" width="207.00" height="197.15" fill="none" stroke="#1a1a1a" stroke-width="1.25" stroke-linejoin="round"/>
<line x1="303.00" x2="306.20" y1="440.00" y2="440.00" stroke="#222" stroke-width="1"/>
<text x="299.10" y="441.58" class="tk" font-size="4.4" text-anchor="middle">0</text>
<line x1="303.00" x2="306.20" y1="394.32" y2="394.32" stroke="#222" stroke-width="1"/>
<text x="299.10" y="395.91" class="tk" font-size="4.4" text-anchor="middle">2</text>
<line x1="303.00" x2="306.20" y1="348.65" y2="348.65" stroke="#222" stroke-width="1"/>
<text x="299.10" y="350.23" class="tk" font-size="4.4" text-anchor="middle">4</text>
<line x1="303.00" x2="306.20" y1="302.98" y2="302.98" stroke="#222" stroke-width="1"/>
<text x="299.10" y="304.56" class="tk" font-size="4.4" text-anchor="middle">6</text>
<line x1="303.00" x2="306.20" y1="257.30" y2="257.30" stroke="#222" stroke-width="1"/>
<text x="299.10" y="258.88" class="tk" font-size="4.4" text-anchor="middle">8</text>
<line x1="319.61" x2="319.61" y1="447.35" y2="450.35" stroke="#222" stroke-width="1"/>
<text x="319.61" y="457.15" class="tk" font-size="4.1" text-anchor="middle">1</text>
<line x1="333.48" x2="333.48" y1="447.35" y2="450.35" stroke="#222" stroke-width="1"/>
<text x="333.48" y="457.15" class="tk" font-size="4.1" text-anchor="middle">2</text>
<line x1="347.14" x2="347.14" y1="447.35" y2="450.35" stroke="#222" stroke-width="1"/>
<text x="347.14" y="457.15" class="tk" font-size="4.1" text-anchor="middle">3</text>
<line x1="359.80" x2="359.80" y1="447.35" y2="450.35" stroke="#222" stroke-width="1"/>
<text x="359.80" y="457.15" class="tk" font-size="4.1" text-anchor="middle">4</text>
<line x1="372.25" x2="372.25" y1="447.35" y2="450.35" stroke="#222" stroke-width="1"/>
<text x="372.25" y="457.15" class="tk" font-size="4.1" text-anchor="middle">5</text>
<line x1="384.71" x2="384.71" y1="447.35" y2="450.35" stroke="#222" stroke-width="1"/>
<text x="384.71" y="457.15" class="tk" font-size="4.1" text-anchor="middle">6</text>
<line x1="396.36" x2="396.36" y1="447.35" y2="450.35" stroke="#222" stroke-width="1"/>
<text x="396.36" y="457.15" class="tk" font-size="4.1" text-anchor="middle">7</text>
<line x1="406.41" x2="406.41" y1="447.35" y2="450.35" stroke="#222" stroke-width="1"/>
<text x="406.41" y="457.15" class="tk" font-size="4.1" text-anchor="middle">8</text>
<line x1="415.75" x2="415.75" y1="447.35" y2="450.35" stroke="#222" stroke-width="1"/>
<text x="415.75" y="457.15" class="tk" font-size="4.1" text-anchor="middle">9</text>
<line x1="424.74" x2="424.74" y1="447.35" y2="450.35" stroke="#222" stroke-width="1"/>
<text x="424.74" y="457.15" class="tk" font-size="4.1" text-anchor="middle">10</text>
<line x1="434.04" x2="434.04" y1="447.35" y2="450.35" stroke="#222" stroke-width="1"/>
<text x="434.04" y="457.15" class="tk" font-size="4.1" text-anchor="middle">11</text>
<line x1="443.98" x2="443.98" y1="447.35" y2="450.35" stroke="#222" stroke-width="1"/>
<text x="443.98" y="457.15" class="tk" font-size="4.1" text-anchor="middle">12</text>
<line x1="452.32" x2="452.32" y1="447.35" y2="450.35" stroke="#222" stroke-width="1"/>
<text x="452.32" y="457.15" class="tk" font-size="4.1" text-anchor="middle">13</text>
<line x1="459.15" x2="459.15" y1="447.35" y2="450.35" stroke="#222" stroke-width="1"/>
<text x="459.15" y="457.15" class="tk" font-size="4.1" text-anchor="middle">14</text>
<line x1="465.18" x2="465.18" y1="447.35" y2="450.35" stroke="#222" stroke-width="1"/>
<text x="465.18" y="457.15" class="tk" font-size="4.1" text-anchor="middle">15</text>
<line x1="471.31" x2="471.31" y1="447.35" y2="450.35" stroke="#222" stroke-width="1"/>
<text x="471.31" y="457.15" class="tk" font-size="4.1" text-anchor="middle">16</text>
<line x1="476.03" x2="476.03" y1="447.35" y2="450.35" stroke="#222" stroke-width="1"/>
<text x="476.03" y="457.15" class="tk" font-size="4.1" text-anchor="middle">17</text>
<line x1="481.45" x2="481.45" y1="447.35" y2="450.35" stroke="#222" stroke-width="1"/>
<text x="481.45" y="457.15" class="tk" font-size="4.1" text-anchor="middle">18</text>
<line x1="486.68" x2="486.68" y1="447.35" y2="450.35" stroke="#222" stroke-width="1"/>
<text x="486.68" y="457.15" class="tk" font-size="4.1" text-anchor="middle">19</text>
<line x1="491.10" x2="491.10" y1="447.35" y2="450.35" stroke="#222" stroke-width="1"/>
<text x="491.10" y="457.15" class="tk" font-size="4.1" text-anchor="middle">20</text>
<line x1="495.22" x2="495.22" y1="447.35" y2="450.35" stroke="#222" stroke-width="1"/>
<text x="495.22" y="457.15" class="tk" font-size="4.1" text-anchor="middle">21</text>
<line x1="498.93" x2="498.93" y1="447.35" y2="450.35" stroke="#222" stroke-width="1"/>
<line x1="505.26" x2="505.26" y1="447.35" y2="450.35" stroke="#222" stroke-width="1"/>
<text x="505.26" y="457.15" class="tk" font-size="4.1" text-anchor="middle">X</text>
<text x="397.1" y="466.55" font-size="5.9" textLength="24.4" lengthAdjust="spacingAndGlyphs" class="xt">Chromosome</text>
<text transform="translate(290.90,348.50) rotate(-90)" class="yt" text-anchor="middle" textLength="17" lengthAdjust="spacingAndGlyphs">-log<tspan font-size="3.6" dy="1.3">10</tspan><tspan dy="-1.3">(p)</tspan></text>
<text x="153.1" y="12.0" font-size="6.5" textLength="24.6" lengthAdjust="spacingAndGlyphs" class="lab" >Recipient</text>
<text x="400.6" y="12.1" font-size="6.5" textLength="16.1" lengthAdjust="spacingAndGlyphs" class="lab" >Donor</text>
<text x="6.9" y="114.3" font-size="6.6" textLength="32.9" lengthAdjust="spacingAndGlyphs" class="lab" >Non-relapse</text>
<text x="11.7" y="121.8" font-size="6.6" textLength="23.1" lengthAdjust="spacingAndGlyphs" class="lab" >Mortality</text>
<text x="12.8" y="347.6" font-size="6.6" textLength="21.5" lengthAdjust="spacingAndGlyphs" class="lab" >Relapse</text>
<text x="11.7" y="355.7" font-size="6.6" textLength="23.1" lengthAdjust="spacingAndGlyphs" class="lab" >Mortality</text>
<rect x="1.5" y="1.5" width="517" height="472" fill="none" stroke="#e2e2e2" stroke-width="1"/>
<rect x="0.5" y="0.5" width="519" height="474" fill="none" stroke="#000" stroke-width="1"/>
</svg></div></body></html>
